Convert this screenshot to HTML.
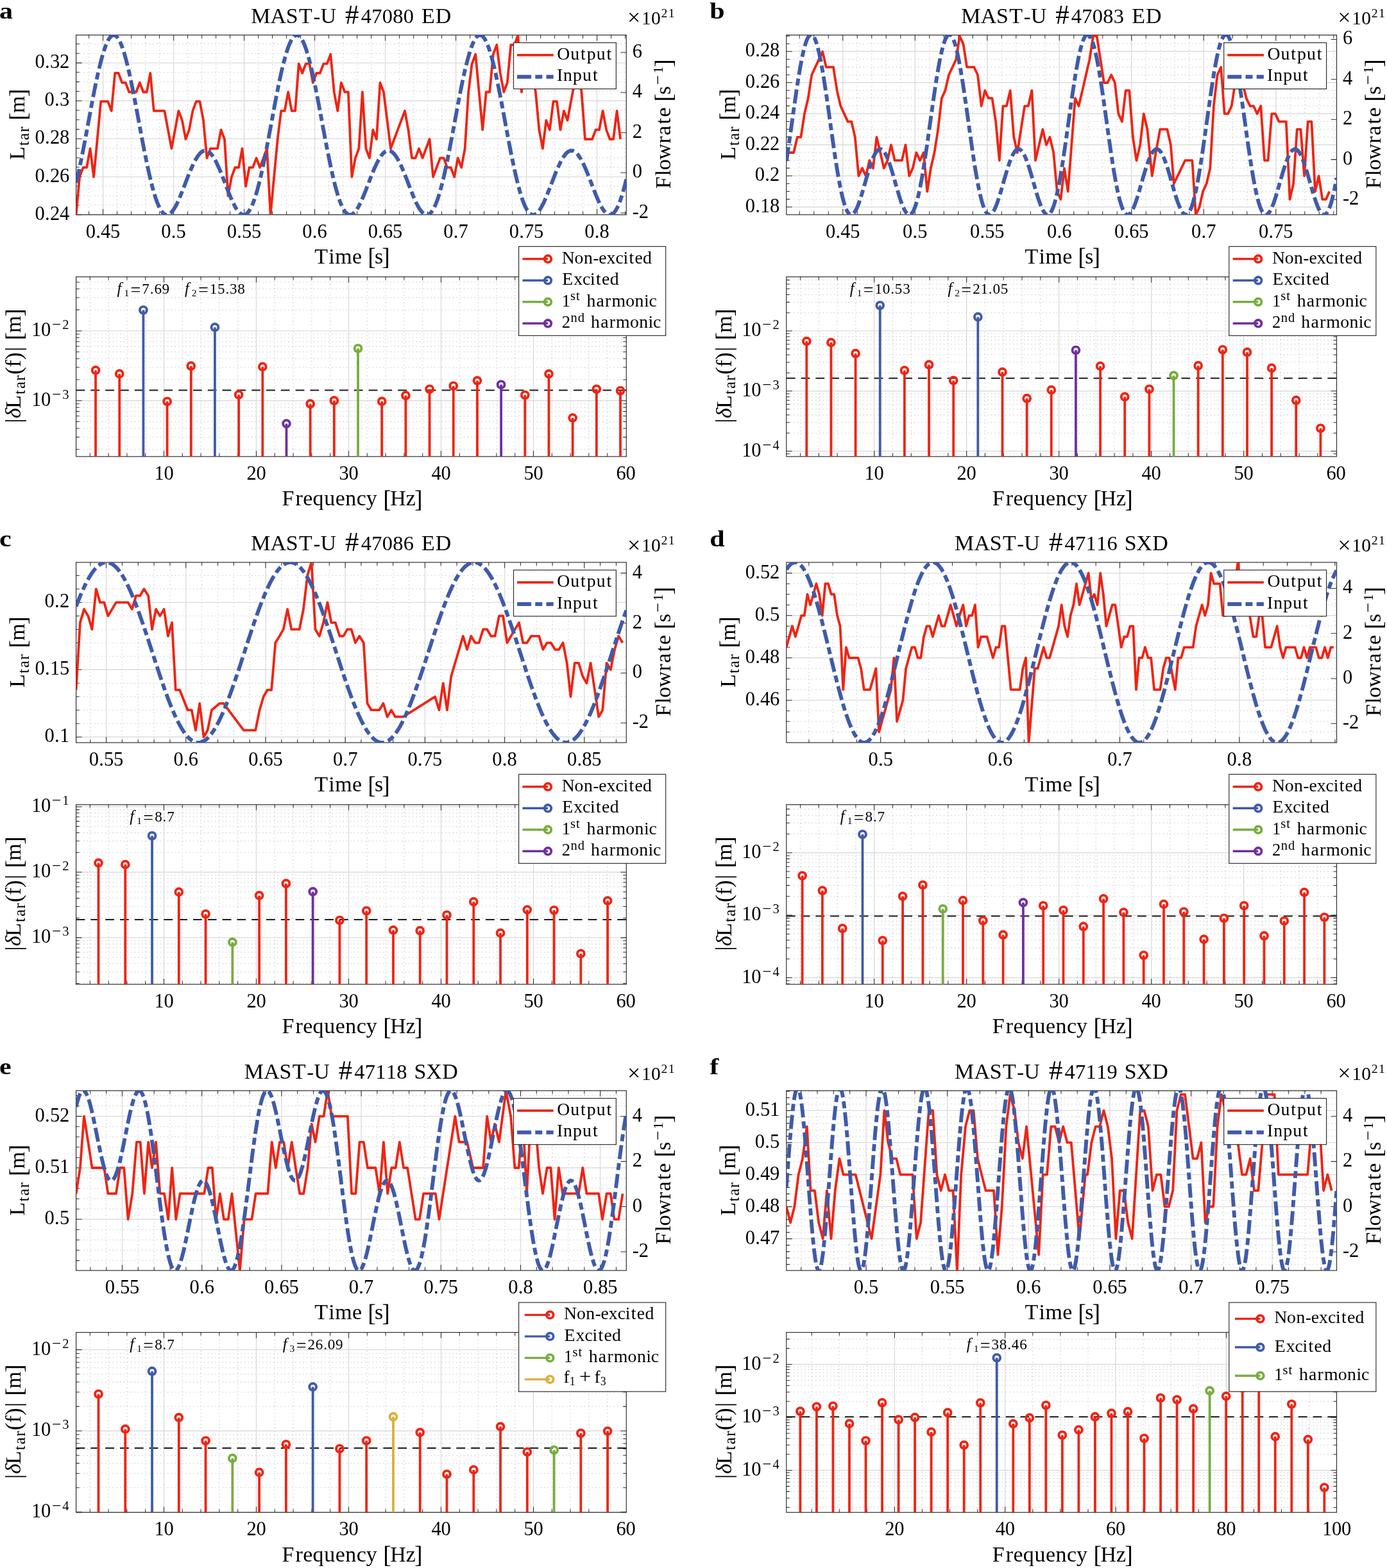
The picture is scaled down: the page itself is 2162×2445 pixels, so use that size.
<!DOCTYPE html>
<html lang="en"><head><meta charset="utf-8"><title>MAST-U frequency response figure</title>
<style>html,body{margin:0;padding:0;background:#fff}svg{display:block}text{white-space:pre}</style></head>
<body>
<svg width="2162" height="2445" viewBox="0 0 2162 2445" font-family='"Liberation Serif", "DejaVu Serif", serif'>
<rect width="2162" height="2445" fill="#fff"/>
<g id="top-a">
<path d="M138.6 54.6V334.8M182.6 54.6V334.8M204.6 54.6V334.8M226.6 54.6V334.8M248.6 54.6V334.8M292.6 54.6V334.8M314.6 54.6V334.8M336.6 54.6V334.8M358.6 54.6V334.8M402.6 54.6V334.8M424.6 54.6V334.8M446.6 54.6V334.8M468.6 54.6V334.8M512.6 54.6V334.8M534.6 54.6V334.8M556.6 54.6V334.8M578.6 54.6V334.8M622.6 54.6V334.8M644.6 54.6V334.8M666.6 54.6V334.8M688.6 54.6V334.8M732.6 54.6V334.8M754.6 54.6V334.8M776.6 54.6V334.8M798.6 54.6V334.8M842.6 54.6V334.8M864.6 54.6V334.8M886.6 54.6V334.8M908.6 54.6V334.8M952.6 54.6V334.8M974.6 54.6V334.8M118.6 68.5H976.3M118.6 83.3H976.3M118.6 112.8H976.3M118.6 127.6H976.3M118.6 142.4H976.3M118.6 172H976.3M118.6 186.8H976.3M118.6 201.6H976.3M118.6 231.2H976.3M118.6 246H976.3M118.6 260.8H976.3M118.6 290.3H976.3M118.6 305.1H976.3M118.6 319.9H976.3" fill="none" stroke="#cbcbcb" stroke-width="1.3" stroke-dasharray="1.3 4.4"/>
<path d="M160.6 54.6V334.8M270.6 54.6V334.8M380.6 54.6V334.8M490.6 54.6V334.8M600.6 54.6V334.8M710.6 54.6V334.8M820.6 54.6V334.8M930.6 54.6V334.8M118.6 334.7H976.3M118.6 275.6H976.3M118.6 216.4H976.3M118.6 157.2H976.3M118.6 98.1H976.3" fill="none" stroke="#dcdcdc" stroke-width="1.4"/>
<path d="M160.6 334.8V325.9M160.6 54.6V63.5M270.6 334.8V325.9M270.6 54.6V63.5M380.6 334.8V325.9M380.6 54.6V63.5M490.6 334.8V325.9M490.6 54.6V63.5M600.6 334.8V325.9M600.6 54.6V63.5M710.6 334.8V325.9M710.6 54.6V63.5M820.6 334.8V325.9M820.6 54.6V63.5M930.6 334.8V325.9M930.6 54.6V63.5M138.6 334.8V329.7M138.6 54.6V59.7M182.6 334.8V329.7M182.6 54.6V59.7M204.6 334.8V329.7M204.6 54.6V59.7M226.6 334.8V329.7M226.6 54.6V59.7M248.6 334.8V329.7M248.6 54.6V59.7M292.6 334.8V329.7M292.6 54.6V59.7M314.6 334.8V329.7M314.6 54.6V59.7M336.6 334.8V329.7M336.6 54.6V59.7M358.6 334.8V329.7M358.6 54.6V59.7M402.6 334.8V329.7M402.6 54.6V59.7M424.6 334.8V329.7M424.6 54.6V59.7M446.6 334.8V329.7M446.6 54.6V59.7M468.6 334.8V329.7M468.6 54.6V59.7M512.6 334.8V329.7M512.6 54.6V59.7M534.6 334.8V329.7M534.6 54.6V59.7M556.6 334.8V329.7M556.6 54.6V59.7M578.6 334.8V329.7M578.6 54.6V59.7M622.6 334.8V329.7M622.6 54.6V59.7M644.6 334.8V329.7M644.6 54.6V59.7M666.6 334.8V329.7M666.6 54.6V59.7M688.6 334.8V329.7M688.6 54.6V59.7M732.6 334.8V329.7M732.6 54.6V59.7M754.6 334.8V329.7M754.6 54.6V59.7M776.6 334.8V329.7M776.6 54.6V59.7M798.6 334.8V329.7M798.6 54.6V59.7M842.6 334.8V329.7M842.6 54.6V59.7M864.6 334.8V329.7M864.6 54.6V59.7M886.6 334.8V329.7M886.6 54.6V59.7M908.6 334.8V329.7M908.6 54.6V59.7M952.6 334.8V329.7M952.6 54.6V59.7M974.6 334.8V329.7M974.6 54.6V59.7M118.6 334.7H127.5M118.6 275.6H127.5M118.6 216.4H127.5M118.6 157.2H127.5M118.6 98.1H127.5M118.6 68.5H123.7M118.6 83.3H123.7M118.6 112.8H123.7M118.6 127.6H123.7M118.6 142.4H123.7M118.6 172H123.7M118.6 186.8H123.7M118.6 201.6H123.7M118.6 231.2H123.7M118.6 246H123.7M118.6 260.8H123.7M118.6 290.3H123.7M118.6 305.1H123.7M118.6 319.9H123.7M976.3 331.9H967.4M976.3 269.3H967.4M976.3 206.8H967.4M976.3 144.2H967.4M976.3 81.7H967.4" fill="none" stroke="#303030" stroke-width="1.05"/>
<rect x="118.60" y="54.60" width="857.70" height="280.20" fill="none" stroke="#303030" stroke-width="1.2"/>
<text transform="translate(160.60,370.70)" fill="#000"><tspan x="-26.8 -11.3 -3.5 11.5" y="0" font-size="30.58">0.45</tspan></text>
<text transform="translate(270.60,370.70)" fill="#000"><tspan x="-19.3 -3.8 4" y="0" font-size="30.58">0.5</tspan></text>
<text transform="translate(380.60,370.70)" fill="#000"><tspan x="-26.8 -11.3 -3.5 11.5" y="0" font-size="30.58">0.55</tspan></text>
<text transform="translate(490.60,370.70)" fill="#000"><tspan x="-19.3 -3.8 4" y="0" font-size="30.58">0.6</tspan></text>
<text transform="translate(600.60,370.70)" fill="#000"><tspan x="-26.8 -11.3 -3.5 11.5" y="0" font-size="30.58">0.65</tspan></text>
<text transform="translate(710.60,370.70)" fill="#000"><tspan x="-19.3 -3.8 4" y="0" font-size="30.58">0.7</tspan></text>
<text transform="translate(820.60,370.70)" fill="#000"><tspan x="-26.8 -11.3 -3.5 11.5" y="0" font-size="30.58">0.75</tspan></text>
<text transform="translate(930.60,370.70)" fill="#000"><tspan x="-19.3 -3.8 4" y="0" font-size="30.58">0.8</tspan></text>
<text transform="translate(108.00,342.70)" fill="#000"><tspan x="-53.5 -38 -30.1 -15.1" y="0" font-size="30.58">0.24</tspan></text>
<text transform="translate(108.00,283.55)" fill="#000"><tspan x="-53.5 -38 -30.1 -15.1" y="0" font-size="30.58">0.26</tspan></text>
<text transform="translate(108.00,224.40)" fill="#000"><tspan x="-53.5 -38 -30.1 -15.1" y="0" font-size="30.58">0.28</tspan></text>
<text transform="translate(108.00,165.25)" fill="#000"><tspan x="-38.5 -23 -15.1" y="0" font-size="30.58">0.3</tspan></text>
<text transform="translate(108.00,106.10)" fill="#000"><tspan x="-53.5 -38 -30.1 -15.1" y="0" font-size="30.58">0.32</tspan></text>
<text transform="translate(985.90,339.90)" fill="#000"><tspan x="-0.1 9.8" y="0" font-size="30.58">-2</tspan></text>
<text transform="translate(985.90,277.35)" fill="#000"><tspan x="-0.1" y="0" font-size="30.58">0</tspan></text>
<text transform="translate(985.90,214.80)" fill="#000"><tspan x="-0.1" y="0" font-size="30.58">2</tspan></text>
<text transform="translate(985.90,152.25)" fill="#000"><tspan x="-0.1" y="0" font-size="30.58">4</tspan></text>
<text transform="translate(985.90,89.70)" fill="#000"><tspan x="-0.1" y="0" font-size="30.58">6</tspan></text>
<text transform="translate(547.45,35.70)" fill="#000"><tspan x="-156.3 -125.9 -101.6 -81.4" y="0" font-size="33.99">MAST</tspan><tspan x="-59" y="0" font-size="32.51">-</tspan><tspan x="-48 -23.4" y="0" font-size="33.99">U </tspan><tspan x="-9.4" y="1" font-size="42.9">#</tspan><tspan x="15.2 31.7 48.2 64.7 81.2 97.6" y="0" font-size="32.51">47080 </tspan><tspan x="109.5 131.4" y="0" font-size="33.99">ED</tspan></text>
<text transform="translate(547.45,411.10)" fill="#000"><tspan x="-57.2 -35.1 -25.2 1.5 16.4" y="0" font-size="33.99">Time </tspan><tspan x="25.7" y="2.3" font-size="37.95">[</tspan><tspan x="36.5" y="0" font-size="33.99">s</tspan><tspan x="47.8" y="2.3" font-size="37.95">]</tspan></text>
<text transform="translate(976.60,37.70)" fill="#000"><tspan x="1.5" y="1.5" font-size="36">×</tspan><tspan x="23.5 38.5" y="0" font-size="29.55">10</tspan><tspan x="54 65.2" y="-10.8" font-size="19.86">21</tspan></text>
<text transform="translate(38.30,194.70) rotate(-90)" fill="#000"><tspan x="-54.6" y="0" font-size="33.99">L</tspan><tspan x="-32.6 -23.7 -11.3 -2.3" y="6.6" font-size="25.13">tar </tspan><tspan x="7" y="2.3" font-size="37.95">[</tspan><tspan x="18.4" y="0" font-size="33.99">m</tspan><tspan x="43.7" y="2.3" font-size="37.95">]</tspan></text>
<text transform="translate(1044.80,194.70) rotate(-90)" fill="#000"><tspan x="-99.6 -79.5 -70.5 -54.1 -29.1 -16.3 1.2 12.2 27" y="0" font-size="33.99">Flowrate </tspan><tspan x="36.3" y="2.3" font-size="37.95">[</tspan><tspan x="47.1" y="0" font-size="33.99">s</tspan><tspan x="62.3" y="-10.7" font-size="26.61">−</tspan><tspan x="80.1" y="-11.9" font-size="21.84">1</tspan><tspan x="90" y="2.3" font-size="37.95">]</tspan></text>
<clipPath id="c1"><rect x="118.60" y="54.60" width="857.70" height="280.20"/></clipPath>
<g clip-path="url(#c1)" fill="none">
<polyline points="118.6,334.7 124.1,275.9 129.6,261.1 135.1,261.1 140.6,231.7 146.1,275.9 151.7,217.0 157.2,158.2 162.7,158.2 168.2,158.2 173.7,172.9 179.2,114.0 184.7,114.0 190.2,128.8 195.7,128.8 201.2,143.5 206.8,143.5 212.3,143.5 217.8,128.8 223.3,143.5 228.8,143.5 234.3,114.0 239.8,172.9 245.3,172.9 250.8,172.9 256.4,172.9 261.9,202.3 267.4,231.7 272.9,202.3 278.4,172.9 283.9,187.6 289.4,217.0 294.9,202.3 300.4,172.9 305.9,158.2 311.4,158.2 317.0,187.6 322.5,246.4 328.0,231.7 333.5,231.7 339.0,231.7 344.5,202.3 350.0,217.0 355.5,305.3 361.0,275.9 366.5,261.1 372.1,261.1 377.6,231.7 383.1,290.6 388.6,261.1 394.1,261.1 399.6,246.4 405.1,261.1 410.6,246.4 416.1,231.7 421.6,334.7 427.2,275.9 432.7,217.0 438.2,172.9 443.7,172.9 449.2,143.5 454.7,172.9 460.2,172.9 465.7,99.3 471.2,114.0 476.8,99.3 482.3,99.3 487.8,128.8 493.3,114.0 498.8,114.0 504.3,99.3 509.8,99.3 515.3,84.6 520.8,143.5 526.3,172.9 531.9,128.8 537.4,143.5 542.9,143.5 548.4,275.9 553.9,246.4 559.4,231.7 564.9,143.5 570.4,231.7 575.9,246.4 581.4,202.3 586.9,217.0 592.5,128.8 598.0,143.5 603.5,187.6 609.0,231.7 614.5,217.0 620.0,202.3 625.5,187.6 631.0,172.9 636.5,202.3 642.0,246.4 647.6,246.4 653.1,231.7 658.6,246.4 664.1,231.7 669.6,217.0 675.1,275.9 680.6,261.1 686.1,246.4 691.6,246.4 697.1,261.1 702.7,261.1 708.2,275.9 713.7,246.4 719.2,261.1 724.7,231.7 730.2,143.5 735.7,99.3 741.2,84.6 746.7,143.5 752.2,202.3 757.8,143.5 763.3,143.5 768.8,84.6 774.3,69.9 779.8,114.0 785.3,143.5 790.8,128.8 796.3,69.9 801.8,69.9 807.4,55.2 812.9,143.5 818.4,99.3 823.9,84.6 829.4,114.0 834.9,143.5 840.4,202.3 845.9,231.7 851.4,187.6 856.9,202.3 862.5,158.2 868.0,158.2 873.5,202.3 879.0,172.9 884.5,187.6 890.0,158.2 895.5,128.8 901.0,114.0 906.5,143.5 912.0,217.0 917.5,217.0 923.1,217.0 928.6,202.3 934.1,202.3 939.6,172.9 945.1,202.3 950.6,217.0 956.1,217.0 961.6,172.9 967.1,217.0" stroke="#ef2413" stroke-width="3.8" stroke-linejoin="round"/>
<polyline points="118.6,285.0 120.1,278.8 121.6,272.4 123.1,265.7 124.6,258.7 126.1,251.5 127.6,244.1 129.1,236.6 130.6,228.8 132.1,221.0 133.6,213.0 135.1,205.0 136.6,196.9 138.1,188.8 139.6,180.7 141.1,172.6 142.6,164.6 144.1,156.7 145.6,148.9 147.1,141.3 148.6,133.8 150.1,126.6 151.6,119.5 153.1,112.7 154.7,106.2 156.2,100.0 157.7,94.1 159.2,88.5 160.7,83.4 162.2,78.6 163.7,74.2 165.2,70.2 166.7,66.6 168.2,63.5 169.7,60.9 171.2,58.7 172.7,57.0 174.2,55.8 175.7,55.0 177.2,54.8 178.7,55.0 180.2,55.7 181.7,56.9 183.2,58.6 184.7,60.8 186.2,63.4 187.7,66.5 189.2,70.1 190.7,74.1 192.2,78.4 193.7,83.2 195.2,88.4 196.7,94.0 198.2,99.8 199.7,106.0 201.2,112.6 202.7,119.3 204.2,126.4 205.7,133.7 207.2,141.1 208.7,148.8 210.2,156.5 211.7,164.5 213.2,172.5 214.7,180.5 216.2,188.6 217.7,196.7 219.2,204.8 220.7,212.8 222.2,220.8 223.7,228.6 225.2,236.4 226.8,243.9 228.3,251.3 229.8,258.5 231.3,265.5 232.8,272.2 234.3,278.7 235.8,284.8 237.3,290.7 238.8,296.2 240.3,301.5 241.8,306.3 243.3,310.8 244.8,315.0 246.3,318.7 247.8,322.1 249.3,325.1 250.8,327.7 252.3,329.9 253.8,331.7 255.3,333.1 256.8,334.1 258.3,334.8 259.8,335.0 261.3,334.9 262.8,334.5 264.3,333.6 265.8,332.5 267.3,331.0 268.8,329.3 270.3,327.2 271.8,324.9 273.3,322.3 274.8,319.5 276.3,316.5 277.8,313.3 279.3,309.9 280.8,306.4 282.3,302.7 283.8,299.0 285.3,295.2 286.8,291.3 288.3,287.4 289.8,283.5 291.3,279.6 292.8,275.7 294.3,271.9 295.8,268.2 297.4,264.6 298.9,261.2 300.4,257.8 301.9,254.7 303.4,251.7 304.9,248.9 306.4,246.4 307.9,244.0 309.4,242.0 310.9,240.1 312.4,238.5 313.9,237.2 315.4,236.2 316.9,235.5 318.4,235.0 319.9,234.9 321.4,235.0 322.9,235.5 324.4,236.2 325.9,237.2 327.4,238.5 328.9,240.0 330.4,241.8 331.9,243.9 333.4,246.2 334.9,248.8 336.4,251.5 337.9,254.5 339.4,257.7 340.9,261.0 342.4,264.4 343.9,268.0 345.4,271.7 346.9,275.5 348.4,279.4 349.9,283.2 351.4,287.2 352.9,291.1 354.4,294.9 355.9,298.8 357.4,302.5 358.9,306.2 360.4,309.7 361.9,313.1 363.4,316.3 364.9,319.3 366.4,322.2 367.9,324.8 369.5,327.1 371.0,329.2 372.5,330.9 374.0,332.4 375.5,333.6 377.0,334.4 378.5,334.9 380.0,335.0 381.5,334.8 383.0,334.2 384.5,333.2 386.0,331.8 387.5,330.0 389.0,327.8 390.5,325.2 392.0,322.3 393.5,318.9 395.0,315.2 396.5,311.1 398.0,306.6 399.5,301.7 401.0,296.6 402.5,291.0 404.0,285.2 405.5,279.0 407.0,272.6 408.5,265.9 410.0,258.9 411.5,251.8 413.0,244.4 414.5,236.8 416.0,229.1 417.5,221.2 419.0,213.3 420.5,205.3 422.0,197.2 423.5,189.1 425.0,181.0 426.5,172.9 428.0,164.9 429.5,157.0 431.0,149.2 432.5,141.6 434.0,134.1 435.5,126.8 437.0,119.7 438.5,112.9 440.0,106.4 441.6,100.2 443.1,94.3 444.6,88.7 446.1,83.5 447.6,78.7 449.1,74.3 450.6,70.3 452.1,66.7 453.6,63.6 455.1,61.0 456.6,58.8 458.1,57.0 459.6,55.8 461.1,55.0 462.6,54.8 464.1,55.0 465.6,55.7 467.1,56.9 468.6,58.6 470.1,60.7 471.6,63.4 473.1,66.4 474.6,70.0 476.1,73.9 477.6,78.3 479.1,83.1 480.6,88.2 482.1,93.8 483.6,99.6 485.1,105.8 486.6,112.3 488.1,119.1 489.6,126.1 491.1,133.4 492.6,140.9 494.1,148.5 495.6,156.3 497.1,164.2 498.6,172.2 500.1,180.2 501.6,188.3 503.1,196.4 504.6,204.5 506.1,212.6 507.6,220.5 509.1,228.4 510.6,236.1 512.2,243.7 513.7,251.1 515.2,258.3 516.7,265.3 518.2,272.0 519.7,278.4 521.2,284.6 522.7,290.5 524.2,296.1 525.7,301.3 527.2,306.2 528.7,310.7 530.2,314.8 531.7,318.6 533.2,322.0 534.7,325.0 536.2,327.6 537.7,329.8 539.2,331.6 540.7,333.0 542.2,334.1 543.7,334.7 545.2,335.0 546.7,334.9 548.2,334.5 549.7,333.7 551.2,332.5 552.7,331.1 554.2,329.3 555.7,327.3 557.2,325.0 558.7,322.4 560.2,319.6 561.7,316.6 563.2,313.4 564.7,310.0 566.2,306.5 567.7,302.9 569.2,299.1 570.7,295.3 572.2,291.4 573.7,287.5 575.2,283.6 576.7,279.7 578.2,275.9 579.7,272.1 581.2,268.4 582.7,264.8 584.3,261.3 585.8,258.0 587.3,254.8 588.8,251.8 590.3,249.0 591.8,246.5 593.3,244.1 594.8,242.0 596.3,240.2 597.8,238.6 599.3,237.3 600.8,236.3 602.3,235.5 603.8,235.0 605.3,234.9 606.8,235.0 608.3,235.4 609.8,236.1 611.3,237.1 612.8,238.4 614.3,240.0 615.8,241.8 617.3,243.8 618.8,246.1 620.3,248.7 621.8,251.4 623.3,254.4 624.8,257.5 626.3,260.9 627.8,264.3 629.3,267.9 630.8,271.6 632.3,275.4 633.8,279.2 635.3,283.1 636.8,287.0 638.3,290.9 639.8,294.8 641.3,298.6 642.8,302.4 644.3,306.0 645.8,309.6 647.3,313.0 648.8,316.2 650.3,319.2 651.8,322.1 653.3,324.7 654.9,327.0 656.4,329.1 657.9,330.9 659.4,332.4 660.9,333.6 662.4,334.4 663.9,334.9 665.4,335.0 666.9,334.8 668.4,334.2 669.9,333.2 671.4,331.8 672.9,330.0 674.4,327.9 675.9,325.3 677.4,322.4 678.9,319.0 680.4,315.3 681.9,311.2 683.4,306.7 684.9,301.9 686.4,296.7 687.9,291.2 689.4,285.4 690.9,279.2 692.4,272.8 693.9,266.1 695.4,259.2 696.9,252.0 698.4,244.6 699.9,237.1 701.4,229.4 702.9,221.5 704.4,213.6 705.9,205.5 707.4,197.5 708.9,189.4 710.4,181.3 711.9,173.2 713.4,165.2 714.9,157.3 716.4,149.5 717.9,141.8 719.4,134.3 720.9,127.0 722.4,120.0 723.9,113.2 725.4,106.6 727.0,100.4 728.5,94.5 730.0,88.9 731.5,83.7 733.0,78.9 734.5,74.4 736.0,70.4 737.5,66.8 739.0,63.7 740.5,61.0 742.0,58.8 743.5,57.1 745.0,55.8 746.5,55.1 748.0,54.8 749.5,55.0 751.0,55.7 752.5,56.9 754.0,58.5 755.5,60.7 757.0,63.3 758.5,66.3 760.0,69.8 761.5,73.8 763.0,78.1 764.5,82.9 766.0,88.0 767.5,93.6 769.0,99.4 770.5,105.6 772.0,112.1 773.5,118.9 775.0,125.9 776.5,133.2 778.0,140.6 779.5,148.2 781.0,156.0 782.5,163.9 784.0,171.9 785.5,180.0 787.0,188.1 788.5,196.2 790.0,204.3 791.5,212.3 793.0,220.3 794.5,228.1 796.0,235.9 797.5,243.4 799.1,250.8 800.6,258.0 802.1,265.0 803.6,271.8 805.1,278.2 806.6,284.4 808.1,290.3 809.6,295.9 811.1,301.1 812.6,306.0 814.1,310.5 815.6,314.7 817.1,318.5 818.6,321.9 820.1,324.9 821.6,327.5 823.1,329.7 824.6,331.6 826.1,333.0 827.6,334.1 829.1,334.7 830.6,335.0 832.1,334.9 833.6,334.5 835.1,333.7 836.6,332.6 838.1,331.2 839.6,329.4 841.1,327.4 842.6,325.1 844.1,322.5 845.6,319.7 847.1,316.7 848.6,313.5 850.1,310.1 851.6,306.6 853.1,303.0 854.6,299.2 856.1,295.4 857.6,291.5 859.1,287.6 860.6,283.7 862.1,279.8 863.6,276.0 865.1,272.2 866.6,268.5 868.1,264.9 869.7,261.4 871.2,258.1 872.7,254.9 874.2,251.9 875.7,249.1 877.2,246.5 878.7,244.2 880.2,242.1 881.7,240.2 883.2,238.6 884.7,237.3 886.2,236.3 887.7,235.5 889.2,235.1 890.7,234.9 892.2,235.0 893.7,235.4 895.2,236.1 896.7,237.1 898.2,238.4 899.7,239.9 901.2,241.7 902.7,243.8 904.2,246.1 905.7,248.6 907.2,251.4 908.7,254.3 910.2,257.4 911.7,260.7 913.2,264.2 914.7,267.8 916.2,271.5 917.7,275.2 919.2,279.1 920.7,283.0 922.2,286.9 923.7,290.8 925.2,294.7 926.7,298.5 928.2,302.3 929.7,305.9 931.2,309.5 932.7,312.9 934.2,316.1 935.7,319.1 937.2,322.0 938.7,324.6 940.2,326.9 941.8,329.0 943.3,330.8 944.8,332.3 946.3,333.5 947.8,334.4 949.3,334.9 950.8,335.0 952.3,334.8 953.8,334.2 955.3,333.2 956.8,331.9 958.3,330.1 959.8,328.0 961.3,325.4 962.8,322.5 964.3,319.2 965.8,315.4 967.3,311.4 968.8,306.9 970.3,302.1 971.8,296.9 973.3,291.4 974.8,285.6 976.3,279.5" stroke="#3f5ba9" stroke-width="5.9" stroke-dasharray="22 6.2 11 6.2" stroke-linejoin="round"/>
</g>
<rect x="800.50" y="66.60" width="159.90" height="72.00" fill="#fff" stroke="#303030" stroke-width="1.2"/>
<line x1="806.10" y1="85.80" x2="862.70" y2="85.80" stroke="#ef2413" stroke-width="3.8"/>
<line x1="806.10" y1="119.70" x2="862.70" y2="119.70" stroke="#3f5ba9" stroke-width="5.9" stroke-dasharray="22 6.2 11 6.2"/>
<text transform="translate(867.70,92.80)" fill="#000"><tspan x="0.5 21.6 37.4 47.1 62.1 77.9" y="0" font-size="27.81">Output</tspan></text>
<text transform="translate(867.70,126.30)" fill="#000"><tspan x="0.2 10.3 25.3 40.3 56.2" y="0" font-size="27.81">Input</tspan></text>
</g>
<g id="top-b">
<path d="M1246.3 54.6V334.8M1268.8 54.6V334.8M1291.3 54.6V334.8M1336.3 54.6V334.8M1358.8 54.6V334.8M1381.3 54.6V334.8M1403.8 54.6V334.8M1448.8 54.6V334.8M1471.3 54.6V334.8M1493.8 54.6V334.8M1516.3 54.6V334.8M1561.3 54.6V334.8M1583.8 54.6V334.8M1606.3 54.6V334.8M1628.8 54.6V334.8M1673.8 54.6V334.8M1696.3 54.6V334.8M1718.8 54.6V334.8M1741.3 54.6V334.8M1786.3 54.6V334.8M1808.8 54.6V334.8M1831.3 54.6V334.8M1853.8 54.6V334.8M1898.8 54.6V334.8M1921.3 54.6V334.8M1943.8 54.6V334.8M1966.3 54.6V334.8M2011.3 54.6V334.8M2033.8 54.6V334.8M2056.3 54.6V334.8M2078.8 54.6V334.8M1225.8 56.1H2083.5M1225.8 68.2H2083.5M1225.8 92.4H2083.5M1225.8 104.5H2083.5M1225.8 116.7H2083.5M1225.8 140.9H2083.5M1225.8 153H2083.5M1225.8 165.1H2083.5M1225.8 189.4H2083.5M1225.8 201.5H2083.5M1225.8 213.6H2083.5M1225.8 237.9H2083.5M1225.8 250H2083.5M1225.8 262.1H2083.5M1225.8 286.3H2083.5M1225.8 298.5H2083.5M1225.8 310.6H2083.5" fill="none" stroke="#cbcbcb" stroke-width="1.3" stroke-dasharray="1.3 4.4"/>
<path d="M1313.8 54.6V334.8M1426.3 54.6V334.8M1538.8 54.6V334.8M1651.3 54.6V334.8M1763.8 54.6V334.8M1876.3 54.6V334.8M1988.8 54.6V334.8M1225.8 322.7H2083.5M1225.8 274.2H2083.5M1225.8 225.7H2083.5M1225.8 177.3H2083.5M1225.8 128.8H2083.5M1225.8 80.3H2083.5" fill="none" stroke="#dcdcdc" stroke-width="1.4"/>
<path d="M1313.8 334.8V325.9M1313.8 54.6V63.5M1426.3 334.8V325.9M1426.3 54.6V63.5M1538.8 334.8V325.9M1538.8 54.6V63.5M1651.3 334.8V325.9M1651.3 54.6V63.5M1763.8 334.8V325.9M1763.8 54.6V63.5M1876.3 334.8V325.9M1876.3 54.6V63.5M1988.8 334.8V325.9M1988.8 54.6V63.5M1246.3 334.8V329.7M1246.3 54.6V59.7M1268.8 334.8V329.7M1268.8 54.6V59.7M1291.3 334.8V329.7M1291.3 54.6V59.7M1336.3 334.8V329.7M1336.3 54.6V59.7M1358.8 334.8V329.7M1358.8 54.6V59.7M1381.3 334.8V329.7M1381.3 54.6V59.7M1403.8 334.8V329.7M1403.8 54.6V59.7M1448.8 334.8V329.7M1448.8 54.6V59.7M1471.3 334.8V329.7M1471.3 54.6V59.7M1493.8 334.8V329.7M1493.8 54.6V59.7M1516.3 334.8V329.7M1516.3 54.6V59.7M1561.3 334.8V329.7M1561.3 54.6V59.7M1583.8 334.8V329.7M1583.8 54.6V59.7M1606.3 334.8V329.7M1606.3 54.6V59.7M1628.8 334.8V329.7M1628.8 54.6V59.7M1673.8 334.8V329.7M1673.8 54.6V59.7M1696.3 334.8V329.7M1696.3 54.6V59.7M1718.8 334.8V329.7M1718.8 54.6V59.7M1741.3 334.8V329.7M1741.3 54.6V59.7M1786.3 334.8V329.7M1786.3 54.6V59.7M1808.8 334.8V329.7M1808.8 54.6V59.7M1831.3 334.8V329.7M1831.3 54.6V59.7M1853.8 334.8V329.7M1853.8 54.6V59.7M1898.8 334.8V329.7M1898.8 54.6V59.7M1921.3 334.8V329.7M1921.3 54.6V59.7M1943.8 334.8V329.7M1943.8 54.6V59.7M1966.3 334.8V329.7M1966.3 54.6V59.7M2011.3 334.8V329.7M2011.3 54.6V59.7M2033.8 334.8V329.7M2033.8 54.6V59.7M2056.3 334.8V329.7M2056.3 54.6V59.7M2078.8 334.8V329.7M2078.8 54.6V59.7M1225.8 322.7H1234.7M1225.8 274.2H1234.7M1225.8 225.7H1234.7M1225.8 177.3H1234.7M1225.8 128.8H1234.7M1225.8 80.3H1234.7M1225.8 56.1H1230.9M1225.8 68.2H1230.9M1225.8 92.4H1230.9M1225.8 104.5H1230.9M1225.8 116.7H1230.9M1225.8 140.9H1230.9M1225.8 153H1230.9M1225.8 165.1H1230.9M1225.8 189.4H1230.9M1225.8 201.5H1230.9M1225.8 213.6H1230.9M1225.8 237.9H1230.9M1225.8 250H1230.9M1225.8 262.1H1230.9M1225.8 286.3H1230.9M1225.8 298.5H1230.9M1225.8 310.6H1230.9M2083.5 311H2074.6M2083.5 248.6H2074.6M2083.5 186.2H2074.6M2083.5 123.8H2074.6M2083.5 61.4H2074.6" fill="none" stroke="#303030" stroke-width="1.05"/>
<rect x="1225.80" y="54.60" width="857.70" height="280.20" fill="none" stroke="#303030" stroke-width="1.2"/>
<text transform="translate(1313.80,370.70)" fill="#000"><tspan x="-26.8 -11.3 -3.5 11.5" y="0" font-size="30.58">0.45</tspan></text>
<text transform="translate(1426.30,370.70)" fill="#000"><tspan x="-19.3 -3.8 4" y="0" font-size="30.58">0.5</tspan></text>
<text transform="translate(1538.80,370.70)" fill="#000"><tspan x="-26.8 -11.3 -3.5 11.5" y="0" font-size="30.58">0.55</tspan></text>
<text transform="translate(1651.30,370.70)" fill="#000"><tspan x="-19.3 -3.8 4" y="0" font-size="30.58">0.6</tspan></text>
<text transform="translate(1763.80,370.70)" fill="#000"><tspan x="-26.8 -11.3 -3.5 11.5" y="0" font-size="30.58">0.65</tspan></text>
<text transform="translate(1876.30,370.70)" fill="#000"><tspan x="-19.3 -3.8 4" y="0" font-size="30.58">0.7</tspan></text>
<text transform="translate(1988.80,370.70)" fill="#000"><tspan x="-26.8 -11.3 -3.5 11.5" y="0" font-size="30.58">0.75</tspan></text>
<text transform="translate(1215.20,330.70)" fill="#000"><tspan x="-53.5 -38 -30.1 -15.1" y="0" font-size="30.58">0.18</tspan></text>
<text transform="translate(1215.20,282.22)" fill="#000"><tspan x="-38.5 -23 -15.1" y="0" font-size="30.58">0.2</tspan></text>
<text transform="translate(1215.20,233.74)" fill="#000"><tspan x="-53.5 -38 -30.1 -15.1" y="0" font-size="30.58">0.22</tspan></text>
<text transform="translate(1215.20,185.26)" fill="#000"><tspan x="-53.5 -38 -30.1 -15.1" y="0" font-size="30.58">0.24</tspan></text>
<text transform="translate(1215.20,136.78)" fill="#000"><tspan x="-53.5 -38 -30.1 -15.1" y="0" font-size="30.58">0.26</tspan></text>
<text transform="translate(1215.20,88.30)" fill="#000"><tspan x="-53.5 -38 -30.1 -15.1" y="0" font-size="30.58">0.28</tspan></text>
<text transform="translate(2093.10,319.00)" fill="#000"><tspan x="-0.1 9.8" y="0" font-size="30.58">-2</tspan></text>
<text transform="translate(2093.10,256.60)" fill="#000"><tspan x="-0.1" y="0" font-size="30.58">0</tspan></text>
<text transform="translate(2093.10,194.20)" fill="#000"><tspan x="-0.1" y="0" font-size="30.58">2</tspan></text>
<text transform="translate(2093.10,131.80)" fill="#000"><tspan x="-0.1" y="0" font-size="30.58">4</tspan></text>
<text transform="translate(2093.10,69.40)" fill="#000"><tspan x="-0.1" y="0" font-size="30.58">6</tspan></text>
<text transform="translate(1654.65,35.70)" fill="#000"><tspan x="-156.3 -125.9 -101.6 -81.4" y="0" font-size="33.99">MAST</tspan><tspan x="-59" y="0" font-size="32.51">-</tspan><tspan x="-48 -23.4" y="0" font-size="33.99">U </tspan><tspan x="-9.4" y="1" font-size="42.9">#</tspan><tspan x="15.2 31.7 48.2 64.7 81.2 97.6" y="0" font-size="32.51">47083 </tspan><tspan x="109.5 131.4" y="0" font-size="33.99">ED</tspan></text>
<text transform="translate(1654.65,411.10)" fill="#000"><tspan x="-57.2 -35.1 -25.2 1.5 16.4" y="0" font-size="33.99">Time </tspan><tspan x="25.7" y="2.3" font-size="37.95">[</tspan><tspan x="36.5" y="0" font-size="33.99">s</tspan><tspan x="47.8" y="2.3" font-size="37.95">]</tspan></text>
<text transform="translate(2083.80,37.70)" fill="#000"><tspan x="1.5" y="1.5" font-size="36">×</tspan><tspan x="23.5 38.5" y="0" font-size="29.55">10</tspan><tspan x="54 65.2" y="-10.8" font-size="19.86">21</tspan></text>
<text transform="translate(1145.50,194.70) rotate(-90)" fill="#000"><tspan x="-54.6" y="0" font-size="33.99">L</tspan><tspan x="-32.6 -23.7 -11.3 -2.3" y="6.6" font-size="25.13">tar </tspan><tspan x="7" y="2.3" font-size="37.95">[</tspan><tspan x="18.4" y="0" font-size="33.99">m</tspan><tspan x="43.7" y="2.3" font-size="37.95">]</tspan></text>
<text transform="translate(2152.00,194.70) rotate(-90)" fill="#000"><tspan x="-99.6 -79.5 -70.5 -54.1 -29.1 -16.3 1.2 12.2 27" y="0" font-size="33.99">Flowrate </tspan><tspan x="36.3" y="2.3" font-size="37.95">[</tspan><tspan x="47.1" y="0" font-size="33.99">s</tspan><tspan x="62.3" y="-10.7" font-size="26.61">−</tspan><tspan x="80.1" y="-11.9" font-size="21.84">1</tspan><tspan x="90" y="2.3" font-size="37.95">]</tspan></text>
<clipPath id="c2"><rect x="1225.80" y="54.60" width="857.70" height="280.20"/></clipPath>
<g clip-path="url(#c2)" fill="none">
<polyline points="1225.9,238.0 1231.5,238.0 1237.2,238.0 1242.8,213.8 1248.4,213.8 1254.0,177.4 1259.7,153.2 1265.3,116.8 1270.9,104.7 1276.5,92.6 1282.2,80.5 1287.8,104.7 1293.4,104.7 1299.0,104.7 1304.7,141.1 1310.3,165.3 1315.9,177.4 1321.5,189.6 1327.2,189.6 1332.8,213.8 1338.4,274.4 1344.0,262.3 1349.7,274.4 1355.3,250.2 1360.9,262.3 1366.5,213.8 1372.2,238.0 1377.8,262.3 1383.4,250.2 1389.0,225.9 1394.7,250.2 1400.3,250.2 1405.9,250.2 1411.5,225.9 1417.2,274.4 1422.8,262.3 1428.4,238.0 1434.0,250.2 1439.7,238.0 1445.3,298.6 1450.9,262.3 1456.5,238.0 1462.2,201.7 1467.8,153.2 1473.4,141.1 1479.0,116.8 1484.7,104.7 1490.3,92.6 1495.9,56.2 1501.5,68.4 1507.2,104.7 1512.8,104.7 1518.4,104.7 1524.0,116.8 1529.7,165.3 1535.3,141.1 1540.9,153.2 1546.5,153.2 1552.2,189.6 1557.8,250.2 1563.4,165.3 1569.0,165.3 1574.7,141.1 1580.3,213.8 1585.9,238.0 1591.5,201.7 1597.2,165.3 1602.8,165.3 1608.4,141.1 1614.0,250.2 1619.7,225.9 1625.3,201.7 1630.9,225.9 1636.5,213.8 1642.2,238.0 1647.8,298.6 1653.4,310.8 1659.0,262.3 1664.7,298.6 1670.3,225.9 1675.9,153.2 1681.5,165.3 1687.2,141.1 1692.8,116.8 1698.4,92.6 1704.0,56.2 1709.7,56.2 1715.3,92.6 1720.9,129.0 1726.5,129.0 1732.2,116.8 1737.8,129.0 1743.4,177.4 1749.0,189.6 1754.7,141.1 1760.3,141.1 1765.9,213.8 1771.5,250.2 1777.2,225.9 1782.8,177.4 1788.4,201.7 1795.8,274.4 1801.6,238.0 1808.3,201.7 1814.1,201.7 1819.4,201.7 1824.9,225.9 1829.8,286.5 1847.3,250.2 1852.8,250.2 1858.4,250.2 1863.9,335.0 1869.7,322.9 1875.0,298.6 1880.7,286.5 1886.3,262.3 1891.9,165.3 1897.6,116.8 1903.2,104.7 1908.7,177.4 1914.2,177.4 1919.8,165.3 1925.3,129.0 1931.1,116.8 1936.9,129.0 1942.7,153.2 1948.6,165.3 1954.0,165.3 1959.7,177.4 1965.3,165.3 1971.0,250.2 1976.6,250.2 1982.3,177.4 1987.9,177.4 1993.6,189.6 1999.2,189.6 2004.8,189.6 2010.5,310.8 2016.1,286.5 2021.8,201.7 2027.4,201.7 2033.1,274.4 2038.7,189.6 2044.4,189.6 2050.0,298.6 2055.6,274.4 2061.3,310.8 2066.9,310.8 2072.3,298.6" stroke="#ef2413" stroke-width="3.8" stroke-linejoin="round"/>
<polyline points="1225.8,251.2 1227.3,241.3 1228.8,231.2 1230.3,220.7 1231.8,210.1 1233.3,199.4 1234.8,188.7 1236.3,177.9 1237.8,167.2 1239.3,156.7 1240.8,146.3 1242.3,136.2 1243.8,126.5 1245.3,117.2 1246.8,108.3 1248.3,99.9 1249.8,92.1 1251.3,84.9 1252.8,78.4 1254.3,72.6 1255.8,67.5 1257.3,63.2 1258.8,59.7 1260.3,57.0 1261.9,55.2 1263.4,54.2 1264.9,54.1 1266.4,54.8 1267.9,56.4 1269.4,58.9 1270.9,62.2 1272.4,66.3 1273.9,71.2 1275.4,76.8 1276.9,83.1 1278.4,90.2 1279.9,97.8 1281.4,106.0 1282.9,114.8 1284.4,124.0 1285.9,133.7 1287.4,143.6 1288.9,153.9 1290.4,164.4 1291.9,175.1 1293.4,185.8 1294.9,196.6 1296.4,207.4 1297.9,218.0 1299.4,228.5 1300.9,238.7 1302.4,248.6 1303.9,258.3 1305.4,267.5 1306.9,276.2 1308.4,284.5 1309.9,292.2 1311.4,299.4 1312.9,306.0 1314.4,311.9 1315.9,317.2 1317.4,321.8 1318.9,325.7 1320.4,328.9 1321.9,331.4 1323.4,333.2 1324.9,334.3 1326.4,334.8 1327.9,334.6 1329.4,333.8 1330.9,332.3 1332.4,330.3 1334.0,327.8 1335.5,324.8 1337.0,321.3 1338.5,317.4 1340.0,313.2 1341.5,308.6 1343.0,303.8 1344.5,298.8 1346.0,293.7 1347.5,288.4 1349.0,283.2 1350.5,277.9 1352.0,272.7 1353.5,267.7 1355.0,262.8 1356.5,258.2 1358.0,253.8 1359.5,249.7 1361.0,246.0 1362.5,242.7 1364.0,239.8 1365.5,237.4 1367.0,235.4 1368.5,233.9 1370.0,233.0 1371.5,232.5 1373.0,232.6 1374.5,233.2 1376.0,234.3 1377.5,235.9 1379.0,238.0 1380.5,240.6 1382.0,243.6 1383.5,247.0 1385.0,250.8 1386.5,254.9 1388.0,259.4 1389.5,264.1 1391.0,269.0 1392.5,274.1 1394.0,279.3 1395.5,284.6 1397.0,289.9 1398.5,295.1 1400.0,300.2 1401.5,305.2 1403.0,309.9 1404.6,314.4 1406.1,318.5 1407.6,322.3 1409.1,325.7 1410.6,328.6 1412.1,330.9 1413.6,332.8 1415.1,334.1 1416.6,334.7 1418.1,334.7 1419.6,334.1 1421.1,332.8 1422.6,330.8 1424.1,328.1 1425.6,324.7 1427.1,320.6 1428.6,315.8 1430.1,310.3 1431.6,304.2 1433.1,297.5 1434.6,290.2 1436.1,282.3 1437.6,273.9 1439.1,265.0 1440.6,255.7 1442.1,246.0 1443.6,235.9 1445.1,225.6 1446.6,215.1 1448.1,204.4 1449.6,193.7 1451.1,182.9 1452.6,172.2 1454.1,161.5 1455.6,151.1 1457.1,140.9 1458.6,131.0 1460.1,121.5 1461.6,112.4 1463.1,103.7 1464.6,95.7 1466.1,88.2 1467.6,81.3 1469.1,75.2 1470.6,69.8 1472.1,65.1 1473.6,61.2 1475.1,58.1 1476.7,55.9 1478.2,54.5 1479.7,54.0 1481.2,54.4 1482.7,55.6 1484.2,57.6 1485.7,60.5 1487.2,64.3 1488.7,68.8 1490.2,74.1 1491.7,80.1 1493.2,86.8 1494.7,94.2 1496.2,102.1 1497.7,110.7 1499.2,119.7 1500.7,129.1 1502.2,139.0 1503.7,149.1 1505.2,159.5 1506.7,170.1 1508.2,180.8 1509.7,191.6 1511.2,202.4 1512.7,213.1 1514.2,223.6 1515.7,234.0 1517.2,244.1 1518.7,253.8 1520.2,263.2 1521.7,272.2 1523.2,280.7 1524.7,288.7 1526.2,296.1 1527.7,303.0 1529.2,309.2 1530.7,314.8 1532.2,319.7 1533.7,323.9 1535.2,327.5 1536.7,330.3 1538.2,332.4 1539.7,333.9 1541.2,334.7 1542.7,334.8 1544.2,334.2 1545.7,333.1 1547.2,331.3 1548.8,329.1 1550.3,326.3 1551.8,323.0 1553.3,319.3 1554.8,315.2 1556.3,310.8 1557.8,306.1 1559.3,301.2 1560.8,296.1 1562.3,290.9 1563.8,285.6 1565.3,280.3 1566.8,275.1 1568.3,270.0 1569.8,265.0 1571.3,260.3 1572.8,255.8 1574.3,251.6 1575.8,247.7 1577.3,244.2 1578.8,241.1 1580.3,238.5 1581.8,236.3 1583.3,234.6 1584.8,233.4 1586.3,232.7 1587.8,232.5 1589.3,232.8 1590.8,233.7 1592.3,235.1 1593.8,237.0 1595.3,239.3 1596.8,242.1 1598.3,245.4 1599.8,249.0 1601.3,253.0 1602.8,257.3 1604.3,261.9 1605.8,266.7 1607.3,271.7 1608.8,276.9 1610.3,282.1 1611.8,287.4 1613.3,292.7 1614.8,297.8 1616.3,302.9 1617.8,307.7 1619.4,312.3 1620.9,316.6 1622.4,320.6 1623.9,324.1 1625.4,327.3 1626.9,329.9 1628.4,332.0 1629.9,333.5 1631.4,334.5 1632.9,334.8 1634.4,334.5 1635.9,333.5 1637.4,331.8 1638.9,329.4 1640.4,326.3 1641.9,322.6 1643.4,318.1 1644.9,313.0 1646.4,307.2 1647.9,300.7 1649.4,293.7 1650.9,286.0 1652.4,277.9 1653.9,269.2 1655.4,260.1 1656.9,250.5 1658.4,240.6 1659.9,230.4 1661.4,220.0 1662.9,209.4 1664.4,198.7 1665.9,187.9 1667.4,177.2 1668.9,166.5 1670.4,155.9 1671.9,145.6 1673.4,135.6 1674.9,125.8 1676.4,116.5 1677.9,107.7 1679.4,99.4 1680.9,91.6 1682.4,84.4 1683.9,78.0 1685.4,72.2 1686.9,67.2 1688.4,62.9 1689.9,59.5 1691.5,56.8 1693.0,55.1 1694.5,54.2 1696.0,54.1 1697.5,54.9 1699.0,56.6 1700.5,59.1 1702.0,62.4 1703.5,66.6 1705.0,71.5 1706.5,77.2 1708.0,83.6 1709.5,90.7 1711.0,98.4 1712.5,106.6 1714.0,115.4 1715.5,124.7 1717.0,134.3 1718.5,144.3 1720.0,154.6 1721.5,165.2 1723.0,175.8 1724.5,186.6 1726.0,197.4 1727.5,208.1 1729.0,218.7 1730.5,229.2 1732.0,239.4 1733.5,249.3 1735.0,258.9 1736.5,268.1 1738.0,276.8 1739.5,285.1 1741.0,292.8 1742.5,299.9 1744.0,306.4 1745.5,312.3 1747.0,317.5 1748.5,322.0 1750.0,325.9 1751.5,329.1 1753.0,331.5 1754.5,333.3 1756.0,334.4 1757.5,334.8 1759.0,334.6 1760.5,333.7 1762.1,332.2 1763.6,330.2 1765.1,327.6 1766.6,324.6 1768.1,321.1 1769.6,317.1 1771.1,312.9 1772.6,308.3 1774.1,303.5 1775.6,298.5 1777.1,293.3 1778.6,288.1 1780.1,282.8 1781.6,277.5 1783.1,272.4 1784.6,267.3 1786.1,262.5 1787.6,257.8 1789.1,253.5 1790.6,249.5 1792.1,245.8 1793.6,242.5 1795.1,239.6 1796.6,237.2 1798.1,235.3 1799.6,233.9 1801.1,232.9 1802.6,232.5 1804.1,232.6 1805.6,233.2 1807.1,234.4 1808.6,236.0 1810.1,238.2 1811.6,240.8 1813.1,243.8 1814.6,247.2 1816.1,251.1 1817.6,255.2 1819.1,259.7 1820.6,264.4 1822.1,269.4 1823.6,274.5 1825.1,279.7 1826.6,285.0 1828.1,290.2 1829.6,295.4 1831.1,300.5 1832.6,305.5 1834.2,310.2 1835.7,314.7 1837.2,318.8 1838.7,322.5 1840.2,325.9 1841.7,328.7 1843.2,331.1 1844.7,332.9 1846.2,334.1 1847.7,334.7 1849.2,334.7 1850.7,334.0 1852.2,332.7 1853.7,330.6 1855.2,327.8 1856.7,324.4 1858.2,320.3 1859.7,315.4 1861.2,309.9 1862.7,303.8 1864.2,297.0 1865.7,289.7 1867.2,281.7 1868.7,273.3 1870.2,264.4 1871.7,255.0 1873.2,245.3 1874.7,235.2 1876.2,224.9 1877.7,214.4 1879.2,203.7 1880.7,192.9 1882.2,182.2 1883.7,171.4 1885.2,160.8 1886.7,150.4 1888.2,140.2 1889.7,130.3 1891.2,120.8 1892.7,111.7 1894.2,103.2 1895.7,95.1 1897.2,87.7 1898.7,80.9 1900.2,74.8 1901.7,69.4 1903.2,64.8 1904.7,61.0 1906.3,58.0 1907.8,55.8 1909.3,54.5 1910.8,54.0 1912.3,54.4 1913.8,55.7 1915.3,57.8 1916.8,60.8 1918.3,64.6 1919.8,69.1 1921.3,74.5 1922.8,80.5 1924.3,87.3 1925.8,94.7 1927.3,102.7 1928.8,111.3 1930.3,120.3 1931.8,129.8 1933.3,139.6 1934.8,149.8 1936.3,160.2 1937.8,170.8 1939.3,181.6 1940.8,192.3 1942.3,203.1 1943.8,213.8 1945.3,224.3 1946.8,234.7 1948.3,244.7 1949.8,254.5 1951.3,263.9 1952.8,272.8 1954.3,281.3 1955.8,289.2 1957.3,296.6 1958.8,303.4 1960.3,309.6 1961.8,315.1 1963.3,320.0 1964.8,324.2 1966.3,327.7 1967.8,330.5 1969.3,332.6 1970.8,334.0 1972.3,334.7 1973.8,334.8 1975.3,334.2 1976.9,333.0 1978.4,331.2 1979.9,328.9 1981.4,326.0 1982.9,322.7 1984.4,319.0 1985.9,314.9 1987.4,310.5 1988.9,305.8 1990.4,300.8 1991.9,295.7 1993.4,290.5 1994.9,285.2 1996.4,280.0 1997.9,274.8 1999.4,269.7 2000.9,264.7 2002.4,260.0 2003.9,255.5 2005.4,251.3 2006.9,247.4 2008.4,244.0 2009.9,240.9 2011.4,238.3 2012.9,236.1 2014.4,234.5 2015.9,233.3 2017.4,232.6 2018.9,232.5 2020.4,232.9 2021.9,233.8 2023.4,235.2 2024.9,237.1 2026.4,239.5 2027.9,242.3 2029.4,245.6 2030.9,249.2 2032.4,253.3 2033.9,257.6 2035.4,262.2 2036.9,267.1 2038.4,272.1 2039.9,277.3 2041.4,282.5 2042.9,287.8 2044.4,293.0 2045.9,298.2 2047.4,303.2 2049.0,308.0 2050.5,312.6 2052.0,316.9 2053.5,320.8 2055.0,324.4 2056.5,327.5 2058.0,330.1 2059.5,332.1 2061.0,333.6 2062.5,334.5 2064.0,334.8 2065.5,334.4 2067.0,333.4 2068.5,331.6 2070.0,329.2 2071.5,326.1 2073.0,322.3 2074.5,317.8 2076.0,312.6 2077.5,306.7 2079.0,300.3 2080.5,293.2 2082.0,285.5 2083.5,277.3" stroke="#3f5ba9" stroke-width="5.9" stroke-dasharray="22 6.2 11 6.2" stroke-linejoin="round"/>
</g>
<rect x="1907.70" y="66.60" width="159.90" height="72.00" fill="#fff" stroke="#303030" stroke-width="1.2"/>
<line x1="1913.30" y1="85.80" x2="1969.90" y2="85.80" stroke="#ef2413" stroke-width="3.8"/>
<line x1="1913.30" y1="119.70" x2="1969.90" y2="119.70" stroke="#3f5ba9" stroke-width="5.9" stroke-dasharray="22 6.2 11 6.2"/>
<text transform="translate(1974.90,92.80)" fill="#000"><tspan x="0.5 21.6 37.4 47.1 62.1 77.9" y="0" font-size="27.81">Output</tspan></text>
<text transform="translate(1974.90,126.30)" fill="#000"><tspan x="0.2 10.3 25.3 40.3 56.2" y="0" font-size="27.81">Input</tspan></text>
</g>
<g id="top-c">
<path d="M140.8 876.9V1158M190.4 876.9V1158M215.3 876.9V1158M240.1 876.9V1158M265 876.9V1158M314.6 876.9V1158M339.5 876.9V1158M364.3 876.9V1158M389.2 876.9V1158M438.8 876.9V1158M463.7 876.9V1158M488.5 876.9V1158M513.4 876.9V1158M563 876.9V1158M587.9 876.9V1158M612.7 876.9V1158M637.6 876.9V1158M687.2 876.9V1158M712.1 876.9V1158M736.9 876.9V1158M761.8 876.9V1158M811.4 876.9V1158M836.3 876.9V1158M861.1 876.9V1158M886 876.9V1158M935.6 876.9V1158M960.5 876.9V1158M118.6 897.4H976.3M118.6 918.4H976.3M118.6 960.4H976.3M118.6 981.4H976.3M118.6 1002.3H976.3M118.6 1023.3H976.3M118.6 1065.3H976.3M118.6 1086.3H976.3M118.6 1107.2H976.3M118.6 1128.2H976.3" fill="none" stroke="#cbcbcb" stroke-width="1.3" stroke-dasharray="1.3 4.4"/>
<path d="M165.6 876.9V1158M289.8 876.9V1158M414 876.9V1158M538.2 876.9V1158M662.4 876.9V1158M786.6 876.9V1158M910.8 876.9V1158M118.6 1149.2H976.3M118.6 1044.3H976.3M118.6 939.4H976.3" fill="none" stroke="#dcdcdc" stroke-width="1.4"/>
<path d="M165.6 1158V1149.1M165.6 876.9V885.8M289.8 1158V1149.1M289.8 876.9V885.8M414 1158V1149.1M414 876.9V885.8M538.2 1158V1149.1M538.2 876.9V885.8M662.4 1158V1149.1M662.4 876.9V885.8M786.6 1158V1149.1M786.6 876.9V885.8M910.8 1158V1149.1M910.8 876.9V885.8M140.8 1158V1152.9M140.8 876.9V882M190.4 1158V1152.9M190.4 876.9V882M215.3 1158V1152.9M215.3 876.9V882M240.1 1158V1152.9M240.1 876.9V882M265 1158V1152.9M265 876.9V882M314.6 1158V1152.9M314.6 876.9V882M339.5 1158V1152.9M339.5 876.9V882M364.3 1158V1152.9M364.3 876.9V882M389.2 1158V1152.9M389.2 876.9V882M438.8 1158V1152.9M438.8 876.9V882M463.7 1158V1152.9M463.7 876.9V882M488.5 1158V1152.9M488.5 876.9V882M513.4 1158V1152.9M513.4 876.9V882M563 1158V1152.9M563 876.9V882M587.9 1158V1152.9M587.9 876.9V882M612.7 1158V1152.9M612.7 876.9V882M637.6 1158V1152.9M637.6 876.9V882M687.2 1158V1152.9M687.2 876.9V882M712.1 1158V1152.9M712.1 876.9V882M736.9 1158V1152.9M736.9 876.9V882M761.8 1158V1152.9M761.8 876.9V882M811.4 1158V1152.9M811.4 876.9V882M836.3 1158V1152.9M836.3 876.9V882M861.1 1158V1152.9M861.1 876.9V882M886 1158V1152.9M886 876.9V882M935.6 1158V1152.9M935.6 876.9V882M960.5 1158V1152.9M960.5 876.9V882M118.6 1149.2H127.5M118.6 1044.3H127.5M118.6 939.4H127.5M118.6 897.4H123.7M118.6 918.4H123.7M118.6 960.4H123.7M118.6 981.4H123.7M118.6 1002.3H123.7M118.6 1023.3H123.7M118.6 1065.3H123.7M118.6 1086.3H123.7M118.6 1107.2H123.7M118.6 1128.2H123.7M976.3 1127.3H967.4M976.3 1049.4H967.4M976.3 971.5H967.4M976.3 893.6H967.4" fill="none" stroke="#303030" stroke-width="1.05"/>
<rect x="118.60" y="876.90" width="857.70" height="281.10" fill="none" stroke="#303030" stroke-width="1.2"/>
<text transform="translate(165.60,1193.90)" fill="#000"><tspan x="-26.8 -11.3 -3.5 11.5" y="0" font-size="30.58">0.55</tspan></text>
<text transform="translate(289.80,1193.90)" fill="#000"><tspan x="-19.3 -3.8 4" y="0" font-size="30.58">0.6</tspan></text>
<text transform="translate(414.00,1193.90)" fill="#000"><tspan x="-26.8 -11.3 -3.5 11.5" y="0" font-size="30.58">0.65</tspan></text>
<text transform="translate(538.20,1193.90)" fill="#000"><tspan x="-19.3 -3.8 4" y="0" font-size="30.58">0.7</tspan></text>
<text transform="translate(662.40,1193.90)" fill="#000"><tspan x="-26.8 -11.3 -3.5 11.5" y="0" font-size="30.58">0.75</tspan></text>
<text transform="translate(786.60,1193.90)" fill="#000"><tspan x="-19.3 -3.8 4" y="0" font-size="30.58">0.8</tspan></text>
<text transform="translate(910.80,1193.90)" fill="#000"><tspan x="-26.8 -11.3 -3.5 11.5" y="0" font-size="30.58">0.85</tspan></text>
<text transform="translate(108.00,1157.20)" fill="#000"><tspan x="-38.5 -23 -15.1" y="0" font-size="30.58">0.1</tspan></text>
<text transform="translate(108.00,1052.30)" fill="#000"><tspan x="-53.5 -38 -30.1 -15.1" y="0" font-size="30.58">0.15</tspan></text>
<text transform="translate(108.00,947.40)" fill="#000"><tspan x="-38.5 -23 -15.1" y="0" font-size="30.58">0.2</tspan></text>
<text transform="translate(985.90,1135.30)" fill="#000"><tspan x="-0.1 9.8" y="0" font-size="30.58">-2</tspan></text>
<text transform="translate(985.90,1057.40)" fill="#000"><tspan x="-0.1" y="0" font-size="30.58">0</tspan></text>
<text transform="translate(985.90,979.50)" fill="#000"><tspan x="-0.1" y="0" font-size="30.58">2</tspan></text>
<text transform="translate(985.90,901.60)" fill="#000"><tspan x="-0.1" y="0" font-size="30.58">4</tspan></text>
<text transform="translate(547.45,858.00)" fill="#000"><tspan x="-156.3 -125.9 -101.6 -81.4" y="0" font-size="33.99">MAST</tspan><tspan x="-59" y="0" font-size="32.51">-</tspan><tspan x="-48 -23.4" y="0" font-size="33.99">U </tspan><tspan x="-9.4" y="1" font-size="42.9">#</tspan><tspan x="15.2 31.7 48.2 64.7 81.2 97.6" y="0" font-size="32.51">47086 </tspan><tspan x="109.5 131.4" y="0" font-size="33.99">ED</tspan></text>
<text transform="translate(547.45,1234.30)" fill="#000"><tspan x="-57.2 -35.1 -25.2 1.5 16.4" y="0" font-size="33.99">Time </tspan><tspan x="25.7" y="2.3" font-size="37.95">[</tspan><tspan x="36.5" y="0" font-size="33.99">s</tspan><tspan x="47.8" y="2.3" font-size="37.95">]</tspan></text>
<text transform="translate(976.60,860.00)" fill="#000"><tspan x="1.5" y="1.5" font-size="36">×</tspan><tspan x="23.5 38.5" y="0" font-size="29.55">10</tspan><tspan x="54 65.2" y="-10.8" font-size="19.86">21</tspan></text>
<text transform="translate(38.30,1017.45) rotate(-90)" fill="#000"><tspan x="-54.6" y="0" font-size="33.99">L</tspan><tspan x="-32.6 -23.7 -11.3 -2.3" y="6.6" font-size="25.13">tar </tspan><tspan x="7" y="2.3" font-size="37.95">[</tspan><tspan x="18.4" y="0" font-size="33.99">m</tspan><tspan x="43.7" y="2.3" font-size="37.95">]</tspan></text>
<text transform="translate(1044.80,1017.45) rotate(-90)" fill="#000"><tspan x="-99.6 -79.5 -70.5 -54.1 -29.1 -16.3 1.2 12.2 27" y="0" font-size="33.99">Flowrate </tspan><tspan x="36.3" y="2.3" font-size="37.95">[</tspan><tspan x="47.1" y="0" font-size="33.99">s</tspan><tspan x="62.3" y="-10.7" font-size="26.61">−</tspan><tspan x="80.1" y="-11.9" font-size="21.84">1</tspan><tspan x="90" y="2.3" font-size="37.95">]</tspan></text>
<clipPath id="c3"><rect x="118.60" y="876.90" width="857.70" height="281.10"/></clipPath>
<g clip-path="url(#c3)" fill="none">
<polyline points="118.6,1075.8 124.9,970.9 131.0,949.9 137.4,960.4 143.5,981.4 149.8,918.4 156.0,939.4 162.3,939.4 168.4,960.4 174.7,949.9 180.9,939.4 187.2,939.4 193.3,939.4 199.6,939.4 205.8,949.9 212.1,928.9 218.2,928.9 224.5,918.4 231.2,928.9 237.0,981.4 243.1,949.9 249.4,960.4 255.6,949.9 261.9,991.9 268.0,970.9 273.8,1075.8 280.1,1075.8 292.6,1107.2 298.7,1107.2 305.0,1138.7 311.2,1096.8 317.5,1149.2 323.6,1138.7 330.0,1107.2 342.4,1096.8 348.5,1096.8 379.8,1138.7 385.9,1138.7 392.2,1138.7 398.3,1138.7 404.6,1107.2 410.8,1086.3 416.9,1075.8 423.2,1075.8 429.3,1002.3 435.7,991.9 441.8,981.4 448.1,949.9 454.3,981.4 460.6,981.4 466.7,981.4 473.0,949.9 479.2,897.4 485.5,876.5 491.6,981.4 497.9,991.9 504.1,970.9 510.4,939.4 516.5,970.9 522.8,970.9 529.5,991.9 535.3,991.9 541.4,981.4 547.7,981.4 553.9,1002.3 560.2,991.9 566.8,1002.3 572.6,1096.8 578.8,1107.2 585.1,1107.2 591.2,1107.2 597.5,1096.8 603.7,1117.7 610.0,1107.2 616.1,1117.7 622.4,1117.7 628.6,1117.7 678.1,1086.3 684.5,1107.2 690.8,1065.3 696.9,1107.2 703.2,1054.8 709.4,1033.8 715.7,1012.8 721.8,991.9 728.1,1012.8 734.3,991.9 740.6,1002.3 746.7,1002.3 753.1,981.4 759.2,981.4 765.5,991.9 771.6,991.9 778.0,960.4 784.1,960.4 790.4,1002.3 809.0,970.9 815.3,1002.3 821.5,1002.3 827.8,991.9 833.9,991.9 840.2,991.9 846.4,1012.8 852.7,1002.3 858.8,1002.3 865.1,1012.8 871.3,1012.8 877.6,1002.3 883.7,1033.8 889.5,1086.3 895.8,1033.8 902.0,1033.8 908.3,1054.8 914.4,1065.3 920.7,1033.8 933.2,1117.7 939.3,1107.2 945.6,1033.8 951.8,1044.3 958.1,1012.8 964.2,991.9 970.6,1002.3" stroke="#ef2413" stroke-width="3.8" stroke-linejoin="round"/>
<polyline points="118.6,945.6 120.1,941.7 121.6,937.9 123.1,934.1 124.6,930.4 126.1,926.8 127.6,923.3 129.1,919.9 130.6,916.7 132.1,913.5 133.6,910.4 135.1,907.5 136.6,904.7 138.1,902.0 139.6,899.4 141.1,897.0 142.6,894.6 144.1,892.5 145.6,890.4 147.1,888.5 148.6,886.7 150.1,885.1 151.6,883.6 153.1,882.3 154.7,881.1 156.2,880.0 157.7,879.1 159.2,878.4 160.7,877.8 162.2,877.3 163.7,877.1 165.2,876.9 166.7,876.9 168.2,877.1 169.7,877.4 171.2,877.9 172.7,878.5 174.2,879.3 175.7,880.2 177.2,881.3 178.7,882.5 180.2,883.8 181.7,885.3 183.2,887.0 184.7,888.8 186.2,890.7 187.7,892.8 189.2,895.0 190.7,897.3 192.2,899.8 193.7,902.4 195.2,905.1 196.7,907.9 198.2,910.9 199.7,914.0 201.2,917.2 202.7,920.5 204.2,923.9 205.7,927.4 207.2,931.0 208.7,934.7 210.2,938.4 211.7,942.3 213.2,946.3 214.7,950.3 216.2,954.4 217.7,958.6 219.2,962.8 220.7,967.1 222.2,971.4 223.7,975.8 225.2,980.3 226.8,984.8 228.3,989.3 229.8,993.8 231.3,998.4 232.8,1003.0 234.3,1007.6 235.8,1012.2 237.3,1016.8 238.8,1021.5 240.3,1026.1 241.8,1030.7 243.3,1035.3 244.8,1039.9 246.3,1044.4 247.8,1049.0 249.3,1053.5 250.8,1057.9 252.3,1062.3 253.8,1066.7 255.3,1071.0 256.8,1075.2 258.3,1079.4 259.8,1083.5 261.3,1087.6 262.8,1091.6 264.3,1095.5 265.8,1099.3 267.3,1103.0 268.8,1106.6 270.3,1110.1 271.8,1113.6 273.3,1116.9 274.8,1120.1 276.3,1123.2 277.8,1126.2 279.3,1129.1 280.8,1131.8 282.3,1134.4 283.8,1136.9 285.3,1139.3 286.8,1141.6 288.3,1143.7 289.8,1145.6 291.3,1147.5 292.8,1149.1 294.3,1150.7 295.8,1152.1 297.4,1153.3 298.9,1154.5 300.4,1155.4 301.9,1156.2 303.4,1156.9 304.9,1157.4 306.4,1157.7 307.9,1157.9 309.4,1158.0 310.9,1157.9 312.4,1157.6 313.9,1157.2 315.4,1156.7 316.9,1156.0 318.4,1155.1 319.9,1154.1 321.4,1153.0 322.9,1151.7 324.4,1150.2 325.9,1148.6 327.4,1146.9 328.9,1145.0 330.4,1143.0 331.9,1140.8 333.4,1138.6 334.9,1136.2 336.4,1133.6 337.9,1130.9 339.4,1128.2 340.9,1125.2 342.4,1122.2 343.9,1119.1 345.4,1115.8 346.9,1112.5 348.4,1109.0 349.9,1105.4 351.4,1101.8 352.9,1098.0 354.4,1094.2 355.9,1090.3 357.4,1086.3 358.9,1082.2 360.4,1078.1 361.9,1073.9 363.4,1069.6 364.9,1065.3 366.4,1060.9 367.9,1056.5 369.5,1052.0 371.0,1047.5 372.5,1043.0 374.0,1038.4 375.5,1033.8 377.0,1029.2 378.5,1024.6 380.0,1020.0 381.5,1015.4 383.0,1010.7 384.5,1006.1 386.0,1001.5 387.5,996.9 389.0,992.4 390.5,987.8 392.0,983.3 393.5,978.8 395.0,974.4 396.5,970.0 398.0,965.7 399.5,961.4 401.0,957.2 402.5,953.1 404.0,949.0 405.5,945.0 407.0,941.1 408.5,937.2 410.0,933.5 411.5,929.8 413.0,926.2 414.5,922.8 416.0,919.4 417.5,916.1 419.0,913.0 420.5,909.9 422.0,907.0 423.5,904.2 425.0,901.5 426.5,899.0 428.0,896.6 429.5,894.3 431.0,892.1 432.5,890.1 434.0,888.2 435.5,886.4 437.0,884.8 438.5,883.4 440.0,882.1 441.6,880.9 443.1,879.9 444.6,879.0 446.1,878.3 447.6,877.7 449.1,877.3 450.6,877.0 452.1,876.9 453.6,876.9 455.1,877.1 456.6,877.5 458.1,878.0 459.6,878.6 461.1,879.4 462.6,880.4 464.1,881.4 465.6,882.7 467.1,884.1 468.6,885.6 470.1,887.3 471.6,889.1 473.1,891.0 474.6,893.1 476.1,895.4 477.6,897.7 479.1,900.2 480.6,902.8 482.1,905.6 483.6,908.4 485.1,911.4 486.6,914.5 488.1,917.7 489.6,921.0 491.1,924.4 492.6,928.0 494.1,931.6 495.6,935.3 497.1,939.1 498.6,943.0 500.1,946.9 501.6,951.0 503.1,955.1 504.6,959.3 506.1,963.5 507.6,967.8 509.1,972.2 510.6,976.6 512.2,981.0 513.7,985.5 515.2,990.0 516.7,994.6 518.2,999.2 519.7,1003.8 521.2,1008.4 522.7,1013.0 524.2,1017.6 525.7,1022.2 527.2,1026.9 528.7,1031.5 530.2,1036.1 531.7,1040.7 533.2,1045.2 534.7,1049.7 536.2,1054.2 537.7,1058.7 539.2,1063.1 540.7,1067.4 542.2,1071.7 543.7,1075.9 545.2,1080.1 546.7,1084.2 548.2,1088.3 549.7,1092.2 551.2,1096.1 552.7,1099.9 554.2,1103.6 555.7,1107.2 557.2,1110.7 558.7,1114.1 560.2,1117.4 561.7,1120.6 563.2,1123.7 564.7,1126.7 566.2,1129.5 567.7,1132.3 569.2,1134.9 570.7,1137.4 572.2,1139.7 573.7,1141.9 575.2,1144.0 576.7,1145.9 578.2,1147.7 579.7,1149.4 581.2,1150.9 582.7,1152.3 584.3,1153.5 585.8,1154.6 587.3,1155.6 588.8,1156.3 590.3,1157.0 591.8,1157.5 593.3,1157.8 594.8,1158.0 596.3,1158.0 597.8,1157.9 599.3,1157.6 600.8,1157.2 602.3,1156.6 603.8,1155.8 605.3,1155.0 606.8,1153.9 608.3,1152.7 609.8,1151.4 611.3,1150.0 612.8,1148.3 614.3,1146.6 615.8,1144.7 617.3,1142.6 618.8,1140.5 620.3,1138.2 621.8,1135.7 623.3,1133.2 624.8,1130.5 626.3,1127.7 627.8,1124.7 629.3,1121.7 630.8,1118.5 632.3,1115.3 633.8,1111.9 635.3,1108.4 636.8,1104.8 638.3,1101.2 639.8,1097.4 641.3,1093.6 642.8,1089.6 644.3,1085.6 645.8,1081.5 647.3,1077.4 648.8,1073.2 650.3,1068.9 651.8,1064.6 653.3,1060.2 654.9,1055.7 656.4,1051.3 657.9,1046.8 659.4,1042.2 660.9,1037.6 662.4,1033.1 663.9,1028.5 665.4,1023.8 666.9,1019.2 668.4,1014.6 669.9,1010.0 671.4,1005.3 672.9,1000.7 674.4,996.2 675.9,991.6 677.4,987.1 678.9,982.6 680.4,978.1 681.9,973.7 683.4,969.3 684.9,965.0 686.4,960.7 687.9,956.5 689.4,952.4 690.9,948.3 692.4,944.3 693.9,940.4 695.4,936.6 696.9,932.8 698.4,929.2 699.9,925.6 701.4,922.2 702.9,918.8 704.4,915.6 705.9,912.5 707.4,909.4 708.9,906.5 710.4,903.8 711.9,901.1 713.4,898.6 714.9,896.2 716.4,893.9 717.9,891.8 719.4,889.7 720.9,887.9 722.4,886.2 723.9,884.6 725.4,883.1 727.0,881.9 728.5,880.7 730.0,879.7 731.5,878.9 733.0,878.2 734.5,877.6 736.0,877.2 737.5,877.0 739.0,876.9 740.5,877.0 742.0,877.2 743.5,877.5 745.0,878.1 746.5,878.7 748.0,879.6 749.5,880.5 751.0,881.6 752.5,882.9 754.0,884.3 755.5,885.9 757.0,887.6 758.5,889.4 760.0,891.4 761.5,893.5 763.0,895.8 764.5,898.1 766.0,900.6 767.5,903.3 769.0,906.0 770.5,908.9 772.0,911.9 773.5,915.0 775.0,918.3 776.5,921.6 778.0,925.0 779.5,928.6 781.0,932.2 782.5,935.9 784.0,939.7 785.5,943.6 787.0,947.6 788.5,951.7 790.0,955.8 791.5,960.0 793.0,964.2 794.5,968.5 796.0,972.9 797.5,977.3 799.1,981.8 800.6,986.3 802.1,990.8 803.6,995.3 805.1,999.9 806.6,1004.5 808.1,1009.1 809.6,1013.8 811.1,1018.4 812.6,1023.0 814.1,1027.6 815.6,1032.2 817.1,1036.8 818.6,1041.4 820.1,1046.0 821.6,1050.5 823.1,1055.0 824.6,1059.4 826.1,1063.8 827.6,1068.1 829.1,1072.4 830.6,1076.6 832.1,1080.8 833.6,1084.9 835.1,1088.9 836.6,1092.9 838.1,1096.7 839.6,1100.5 841.1,1104.2 842.6,1107.8 844.1,1111.3 845.6,1114.7 847.1,1118.0 848.6,1121.2 850.1,1124.2 851.6,1127.2 853.1,1130.0 854.6,1132.7 856.1,1135.3 857.6,1137.8 859.1,1140.1 860.6,1142.3 862.1,1144.3 863.6,1146.3 865.1,1148.0 866.6,1149.7 868.1,1151.2 869.7,1152.5 871.2,1153.7 872.7,1154.8 874.2,1155.7 875.7,1156.5 877.2,1157.1 878.7,1157.5 880.2,1157.8 881.7,1158.0 883.2,1158.0 884.7,1157.8 886.2,1157.5 887.7,1157.1 889.2,1156.5 890.7,1155.7 892.2,1154.8 893.7,1153.7 895.2,1152.5 896.7,1151.2 898.2,1149.7 899.7,1148.1 901.2,1146.3 902.7,1144.4 904.2,1142.3 905.7,1140.1 907.2,1137.8 908.7,1135.3 910.2,1132.7 911.7,1130.0 913.2,1127.2 914.7,1124.2 916.2,1121.2 917.7,1118.0 919.2,1114.7 920.7,1111.3 922.2,1107.8 923.7,1104.2 925.2,1100.5 926.7,1096.8 928.2,1092.9 929.7,1089.0 931.2,1084.9 932.7,1080.8 934.2,1076.7 935.7,1072.5 937.2,1068.2 938.7,1063.8 940.2,1059.4 941.8,1055.0 943.3,1050.5 944.8,1046.0 946.3,1041.5 947.8,1036.9 949.3,1032.3 950.8,1027.7 952.3,1023.1 953.8,1018.4 955.3,1013.8 956.8,1009.2 958.3,1004.6 959.8,1000.0 961.3,995.4 962.8,990.8 964.3,986.3 965.8,981.8 967.3,977.3 968.8,972.9 970.3,968.6 971.8,964.3 973.3,960.0 974.8,955.8 976.3,951.7" stroke="#3f5ba9" stroke-width="5.9" stroke-dasharray="22 6.2 11 6.2" stroke-linejoin="round"/>
</g>
<rect x="800.50" y="888.90" width="159.90" height="72.00" fill="#fff" stroke="#303030" stroke-width="1.2"/>
<line x1="806.10" y1="908.10" x2="862.70" y2="908.10" stroke="#ef2413" stroke-width="3.8"/>
<line x1="806.10" y1="942.00" x2="862.70" y2="942.00" stroke="#3f5ba9" stroke-width="5.9" stroke-dasharray="22 6.2 11 6.2"/>
<text transform="translate(867.70,915.10)" fill="#000"><tspan x="0.5 21.6 37.4 47.1 62.1 77.9" y="0" font-size="27.81">Output</tspan></text>
<text transform="translate(867.70,948.60)" fill="#000"><tspan x="0.2 10.3 25.3 40.3 56.2" y="0" font-size="27.81">Input</tspan></text>
</g>
<g id="top-d">
<path d="M1260.9 876.9V1158M1298.1 876.9V1158M1335.4 876.9V1158M1410 876.9V1158M1447.3 876.9V1158M1484.5 876.9V1158M1521.8 876.9V1158M1596.4 876.9V1158M1633.7 876.9V1158M1670.9 876.9V1158M1708.2 876.9V1158M1782.8 876.9V1158M1820.1 876.9V1158M1857.3 876.9V1158M1894.6 876.9V1158M1969.2 876.9V1158M2006.5 876.9V1158M2043.7 876.9V1158M2081 876.9V1158M1225.8 910.2H2083.5M1225.8 926.7H2083.5M1225.8 943.2H2083.5M1225.8 976.3H2083.5M1225.8 992.8H2083.5M1225.8 1009.3H2083.5M1225.8 1042.3H2083.5M1225.8 1058.9H2083.5M1225.8 1075.4H2083.5M1225.8 1108.4H2083.5M1225.8 1124.9H2083.5M1225.8 1141.5H2083.5" fill="none" stroke="#cbcbcb" stroke-width="1.3" stroke-dasharray="1.3 4.4"/>
<path d="M1372.7 876.9V1158M1559.1 876.9V1158M1745.5 876.9V1158M1931.9 876.9V1158M1225.8 1091.9H2083.5M1225.8 1025.8H2083.5M1225.8 959.7H2083.5M1225.8 893.6H2083.5" fill="none" stroke="#dcdcdc" stroke-width="1.4"/>
<path d="M1372.7 1158V1149.1M1372.7 876.9V885.8M1559.1 1158V1149.1M1559.1 876.9V885.8M1745.5 1158V1149.1M1745.5 876.9V885.8M1931.9 1158V1149.1M1931.9 876.9V885.8M1260.9 1158V1152.9M1260.9 876.9V882M1298.1 1158V1152.9M1298.1 876.9V882M1335.4 1158V1152.9M1335.4 876.9V882M1410 1158V1152.9M1410 876.9V882M1447.3 1158V1152.9M1447.3 876.9V882M1484.5 1158V1152.9M1484.5 876.9V882M1521.8 1158V1152.9M1521.8 876.9V882M1596.4 1158V1152.9M1596.4 876.9V882M1633.7 1158V1152.9M1633.7 876.9V882M1670.9 1158V1152.9M1670.9 876.9V882M1708.2 1158V1152.9M1708.2 876.9V882M1782.8 1158V1152.9M1782.8 876.9V882M1820.1 1158V1152.9M1820.1 876.9V882M1857.3 1158V1152.9M1857.3 876.9V882M1894.6 1158V1152.9M1894.6 876.9V882M1969.2 1158V1152.9M1969.2 876.9V882M2006.5 1158V1152.9M2006.5 876.9V882M2043.7 1158V1152.9M2043.7 876.9V882M2081 1158V1152.9M2081 876.9V882M1225.8 1091.9H1234.7M1225.8 1025.8H1234.7M1225.8 959.7H1234.7M1225.8 893.6H1234.7M1225.8 910.2H1230.9M1225.8 926.7H1230.9M1225.8 943.2H1230.9M1225.8 976.3H1230.9M1225.8 992.8H1230.9M1225.8 1009.3H1230.9M1225.8 1042.3H1230.9M1225.8 1058.9H1230.9M1225.8 1075.4H1230.9M1225.8 1108.4H1230.9M1225.8 1124.9H1230.9M1225.8 1141.5H1230.9M2083.5 1128.3H2074.6M2083.5 1058H2074.6M2083.5 987.7H2074.6M2083.5 917.4H2074.6" fill="none" stroke="#303030" stroke-width="1.05"/>
<rect x="1225.80" y="876.90" width="857.70" height="281.10" fill="none" stroke="#303030" stroke-width="1.2"/>
<text transform="translate(1372.70,1193.90)" fill="#000"><tspan x="-19.3 -3.8 4" y="0" font-size="30.58">0.5</tspan></text>
<text transform="translate(1559.10,1193.90)" fill="#000"><tspan x="-19.3 -3.8 4" y="0" font-size="30.58">0.6</tspan></text>
<text transform="translate(1745.50,1193.90)" fill="#000"><tspan x="-19.3 -3.8 4" y="0" font-size="30.58">0.7</tspan></text>
<text transform="translate(1931.90,1193.90)" fill="#000"><tspan x="-19.3 -3.8 4" y="0" font-size="30.58">0.8</tspan></text>
<text transform="translate(1215.20,1099.90)" fill="#000"><tspan x="-53.5 -38 -30.1 -15.1" y="0" font-size="30.58">0.46</tspan></text>
<text transform="translate(1215.20,1033.80)" fill="#000"><tspan x="-53.5 -38 -30.1 -15.1" y="0" font-size="30.58">0.48</tspan></text>
<text transform="translate(1215.20,967.70)" fill="#000"><tspan x="-38.5 -23 -15.1" y="0" font-size="30.58">0.5</tspan></text>
<text transform="translate(1215.20,901.60)" fill="#000"><tspan x="-53.5 -38 -30.1 -15.1" y="0" font-size="30.58">0.52</tspan></text>
<text transform="translate(2093.10,1136.30)" fill="#000"><tspan x="-0.1 9.8" y="0" font-size="30.58">-2</tspan></text>
<text transform="translate(2093.10,1066.00)" fill="#000"><tspan x="-0.1" y="0" font-size="30.58">0</tspan></text>
<text transform="translate(2093.10,995.70)" fill="#000"><tspan x="-0.1" y="0" font-size="30.58">2</tspan></text>
<text transform="translate(2093.10,925.40)" fill="#000"><tspan x="-0.1" y="0" font-size="30.58">4</tspan></text>
<text transform="translate(1654.65,858.00)" fill="#000"><tspan x="-166.6 -136.2 -111.9 -91.7" y="0" font-size="33.99">MAST</tspan><tspan x="-69.3" y="0" font-size="32.51">-</tspan><tspan x="-58.3 -33.7" y="0" font-size="33.99">U </tspan><tspan x="-19.7" y="1" font-size="42.9">#</tspan><tspan x="4.9 21.4 37.9 54.4 70.9 87.3" y="0" font-size="32.51">47116 </tspan><tspan x="98 116.7 141.7" y="0" font-size="33.99">SXD</tspan></text>
<text transform="translate(1654.65,1234.30)" fill="#000"><tspan x="-57.2 -35.1 -25.2 1.5 16.4" y="0" font-size="33.99">Time </tspan><tspan x="25.7" y="2.3" font-size="37.95">[</tspan><tspan x="36.5" y="0" font-size="33.99">s</tspan><tspan x="47.8" y="2.3" font-size="37.95">]</tspan></text>
<text transform="translate(2083.80,860.00)" fill="#000"><tspan x="1.5" y="1.5" font-size="36">×</tspan><tspan x="23.5 38.5" y="0" font-size="29.55">10</tspan><tspan x="54 65.2" y="-10.8" font-size="19.86">21</tspan></text>
<text transform="translate(1145.50,1017.45) rotate(-90)" fill="#000"><tspan x="-54.6" y="0" font-size="33.99">L</tspan><tspan x="-32.6 -23.7 -11.3 -2.3" y="6.6" font-size="25.13">tar </tspan><tspan x="7" y="2.3" font-size="37.95">[</tspan><tspan x="18.4" y="0" font-size="33.99">m</tspan><tspan x="43.7" y="2.3" font-size="37.95">]</tspan></text>
<text transform="translate(2152.00,1017.45) rotate(-90)" fill="#000"><tspan x="-99.6 -79.5 -70.5 -54.1 -29.1 -16.3 1.2 12.2 27" y="0" font-size="33.99">Flowrate </tspan><tspan x="36.3" y="2.3" font-size="37.95">[</tspan><tspan x="47.1" y="0" font-size="33.99">s</tspan><tspan x="62.3" y="-10.7" font-size="26.61">−</tspan><tspan x="80.1" y="-11.9" font-size="21.84">1</tspan><tspan x="90" y="2.3" font-size="37.95">]</tspan></text>
<clipPath id="c4"><rect x="1225.80" y="876.90" width="857.70" height="281.10"/></clipPath>
<g clip-path="url(#c4)" fill="none">
<polyline points="1225.8,1009.3 1234.9,976.3 1239.9,992.8 1249.2,959.8 1253.8,959.8 1258.5,926.7 1263.1,943.2 1267.8,926.7 1272.4,910.2 1277.1,926.7 1281.7,959.8 1286.4,910.2 1291.0,910.2 1295.7,926.7 1300.3,926.7 1305.0,959.8 1309.6,976.3 1314.3,1075.4 1318.9,1009.3 1323.6,1025.8 1328.2,1025.8 1332.9,1025.8 1337.5,1025.8 1342.2,1042.4 1346.8,1075.4 1351.5,1075.4 1356.1,1075.4 1360.8,1058.9 1365.4,1042.4 1370.1,1141.5 1388.6,1075.4 1393.5,1025.8 1398.1,1125.0 1402.8,1108.4 1407.4,1091.9 1412.1,1042.4 1416.7,1025.8 1421.4,1009.3 1426.0,1009.3 1430.7,1025.8 1435.3,1025.8 1440.0,992.8 1444.6,976.3 1449.2,976.3 1453.9,992.8 1458.5,976.3 1463.2,959.8 1467.8,976.3 1472.5,976.3 1477.1,959.8 1481.8,943.2 1486.4,959.8 1491.1,976.3 1495.7,959.8 1501.3,943.2 1506.0,976.3 1510.6,959.8 1515.3,959.8 1519.9,943.2 1524.6,1009.3 1529.2,992.8 1533.9,992.8 1538.5,992.8 1547.8,1025.8 1552.5,1009.3 1557.1,1009.3 1561.8,976.3 1566.4,976.3 1575.7,1075.4 1580.4,1075.4 1585.0,1075.4 1589.7,1075.4 1594.3,1042.4 1599.0,1025.8 1603.6,1158.0 1612.9,1042.4 1617.5,1042.4 1622.2,1025.8 1626.8,1009.3 1631.5,1025.8 1636.1,1025.8 1640.8,1009.3 1645.4,992.8 1650.1,976.3 1654.7,943.2 1659.4,976.3 1664.0,992.8 1668.7,959.8 1673.3,943.2 1678.0,910.2 1682.6,943.2 1696.6,893.7 1701.2,935.0 1705.9,926.7 1710.5,943.2 1715.2,893.7 1719.8,926.7 1724.5,976.3 1729.1,959.8 1733.8,943.2 1738.4,943.2 1743.1,976.3 1747.7,1009.3 1752.4,992.8 1757.0,992.8 1761.7,976.3 1766.3,976.3 1771.0,1075.4 1775.6,1025.8 1780.3,1025.8 1784.9,1009.3 1789.6,1025.8 1794.2,1025.8 1799.1,1075.4 1803.8,1075.4 1808.4,1075.4 1813.2,1042.4 1817.9,1025.8 1822.5,1025.8 1831.8,1075.4 1836.5,1025.8 1841.1,1025.8 1845.8,1009.3 1850.4,1009.3 1855.1,1009.3 1859.7,1009.3 1864.4,976.3 1869.0,959.8 1873.7,943.2 1878.3,959.8 1883.0,943.2 1887.6,893.7 1892.3,910.2 1896.9,910.2 1901.6,910.2 1906.2,959.8 1910.9,959.8 1915.5,943.2 1920.2,926.7 1924.8,910.2 1929.5,877.2 1934.1,910.2 1938.8,926.7 1943.4,943.2 1948.1,959.8 1953.5,992.8 1958.2,992.8 1962.8,959.8 1967.5,959.8 1972.1,1009.3 1976.8,1009.3 1981.4,1009.3 1986.1,992.8 1990.7,976.3 1995.4,1009.3 2000.0,1025.8 2004.7,1009.3 2009.3,1009.3 2014.0,1009.3 2018.6,1009.3 2023.3,1025.8 2027.9,1025.8 2032.6,1009.3 2037.2,1025.8 2041.9,1009.3 2046.5,1009.3 2051.2,1009.3 2055.8,1025.8 2060.5,1025.8 2065.1,1009.3 2069.8,1025.8 2074.4,1009.3 2078.9,1009.3" stroke="#ef2413" stroke-width="3.8" stroke-linejoin="round"/>
<polyline points="1225.8,888.2 1227.3,885.9 1228.8,883.9 1230.3,882.1 1231.8,880.5 1233.3,879.3 1234.8,878.3 1236.3,877.5 1237.8,877.1 1239.3,876.9 1240.8,877.0 1242.3,877.3 1243.8,878.0 1245.3,878.9 1246.8,880.0 1248.3,881.5 1249.8,883.2 1251.3,885.1 1252.8,887.3 1254.3,889.8 1255.8,892.5 1257.3,895.4 1258.8,898.6 1260.3,902.0 1261.9,905.7 1263.4,909.5 1264.9,913.6 1266.4,917.9 1267.9,922.3 1269.4,927.0 1270.9,931.8 1272.4,936.8 1273.9,941.9 1275.4,947.2 1276.9,952.6 1278.4,958.1 1279.9,963.8 1281.4,969.6 1282.9,975.4 1284.4,981.4 1285.9,987.4 1287.4,993.4 1288.9,999.5 1290.4,1005.7 1291.9,1011.9 1293.4,1018.0 1294.9,1024.2 1296.4,1030.4 1297.9,1036.5 1299.4,1042.6 1300.9,1048.7 1302.4,1054.7 1303.9,1060.6 1305.4,1066.4 1306.9,1072.2 1308.4,1077.8 1309.9,1083.3 1311.4,1088.7 1312.9,1094.0 1314.4,1099.1 1315.9,1104.1 1317.4,1108.8 1318.9,1113.4 1320.4,1117.9 1321.9,1122.1 1323.4,1126.1 1324.9,1129.9 1326.4,1133.5 1327.9,1136.9 1329.4,1140.0 1330.9,1142.9 1332.4,1145.6 1334.0,1148.0 1335.5,1150.2 1337.0,1152.1 1338.5,1153.7 1340.0,1155.1 1341.5,1156.2 1343.0,1157.1 1344.5,1157.6 1346.0,1157.9 1347.5,1158.0 1349.0,1157.7 1350.5,1157.2 1352.0,1156.5 1353.5,1155.4 1355.0,1154.1 1356.5,1152.5 1358.0,1150.7 1359.5,1148.6 1361.0,1146.2 1362.5,1143.6 1364.0,1140.8 1365.5,1137.7 1367.0,1134.4 1368.5,1130.8 1370.0,1127.1 1371.5,1123.1 1373.0,1118.9 1374.5,1114.5 1376.0,1110.0 1377.5,1105.2 1379.0,1100.3 1380.5,1095.2 1382.0,1090.0 1383.5,1084.7 1385.0,1079.2 1386.5,1073.6 1388.0,1067.8 1389.5,1062.0 1391.0,1056.1 1392.5,1050.1 1394.0,1044.1 1395.5,1038.0 1397.0,1031.9 1398.5,1025.7 1400.0,1019.5 1401.5,1013.4 1403.0,1007.2 1404.6,1001.0 1406.1,994.9 1407.6,988.8 1409.1,982.8 1410.6,976.9 1412.1,971.0 1413.6,965.2 1415.1,959.5 1416.6,953.9 1418.1,948.5 1419.6,943.2 1421.1,938.0 1422.6,933.0 1424.1,928.1 1425.6,923.4 1427.1,918.9 1428.6,914.6 1430.1,910.5 1431.6,906.6 1433.1,902.9 1434.6,899.4 1436.1,896.2 1437.6,893.2 1439.1,890.4 1440.6,887.9 1442.1,885.6 1443.6,883.6 1445.1,881.9 1446.6,880.4 1448.1,879.1 1449.6,878.2 1451.1,877.5 1452.6,877.1 1454.1,876.9 1455.6,877.0 1457.1,877.4 1458.6,878.1 1460.1,879.0 1461.6,880.2 1463.1,881.7 1464.6,883.4 1466.1,885.4 1467.6,887.6 1469.1,890.1 1470.6,892.9 1472.1,895.9 1473.6,899.1 1475.1,902.5 1476.7,906.2 1478.2,910.1 1479.7,914.2 1481.2,918.5 1482.7,922.9 1484.2,927.6 1485.7,932.4 1487.2,937.4 1488.7,942.6 1490.2,947.9 1491.7,953.3 1493.2,958.9 1494.7,964.6 1496.2,970.3 1497.7,976.2 1499.2,982.2 1500.7,988.2 1502.2,994.3 1503.7,1000.4 1505.2,1006.5 1506.7,1012.7 1508.2,1018.9 1509.7,1025.0 1511.2,1031.2 1512.7,1037.3 1514.2,1043.4 1515.7,1049.5 1517.2,1055.5 1518.7,1061.4 1520.2,1067.2 1521.7,1072.9 1523.2,1078.6 1524.7,1084.1 1526.2,1089.5 1527.7,1094.7 1529.2,1099.8 1530.7,1104.7 1532.2,1109.5 1533.7,1114.0 1535.2,1118.4 1536.7,1122.6 1538.2,1126.6 1539.7,1130.4 1541.2,1134.0 1542.7,1137.3 1544.2,1140.4 1545.7,1143.3 1547.2,1145.9 1548.8,1148.3 1550.3,1150.4 1551.8,1152.3 1553.3,1153.9 1554.8,1155.3 1556.3,1156.4 1557.8,1157.2 1559.3,1157.7 1560.8,1158.0 1562.3,1158.0 1563.8,1157.7 1565.3,1157.1 1566.8,1156.3 1568.3,1155.2 1569.8,1153.9 1571.3,1152.3 1572.8,1150.4 1574.3,1148.3 1575.8,1145.9 1577.3,1143.2 1578.8,1140.4 1580.3,1137.2 1581.8,1133.9 1583.3,1130.3 1584.8,1126.5 1586.3,1122.5 1587.8,1118.3 1589.3,1113.9 1590.8,1109.3 1592.3,1104.6 1593.8,1099.6 1595.3,1094.6 1596.8,1089.3 1598.3,1083.9 1599.8,1078.4 1601.3,1072.8 1602.8,1067.1 1604.3,1061.2 1605.8,1055.3 1607.3,1049.3 1608.8,1043.3 1610.3,1037.2 1611.8,1031.0 1613.3,1024.9 1614.8,1018.7 1616.3,1012.5 1617.8,1006.4 1619.4,1000.2 1620.9,994.1 1622.4,988.0 1623.9,982.0 1625.4,976.1 1626.9,970.2 1628.4,964.4 1629.9,958.8 1631.4,953.2 1632.9,947.8 1634.4,942.5 1635.9,937.3 1637.4,932.3 1638.9,927.5 1640.4,922.8 1641.9,918.3 1643.4,914.1 1644.9,910.0 1646.4,906.1 1647.9,902.4 1649.4,899.0 1650.9,895.8 1652.4,892.8 1653.9,890.1 1655.4,887.6 1656.9,885.3 1658.4,883.4 1659.9,881.6 1661.4,880.2 1662.9,879.0 1664.4,878.1 1665.9,877.4 1667.4,877.0 1668.9,876.9 1670.4,877.1 1671.9,877.5 1673.4,878.2 1674.9,879.2 1676.4,880.4 1677.9,881.9 1679.4,883.7 1680.9,885.7 1682.4,888.0 1683.9,890.5 1685.4,893.3 1686.9,896.3 1688.4,899.5 1689.9,903.0 1691.5,906.7 1693.0,910.6 1694.5,914.7 1696.0,919.0 1697.5,923.5 1699.0,928.2 1700.5,933.1 1702.0,938.1 1703.5,943.3 1705.0,948.6 1706.5,954.1 1708.0,959.6 1709.5,965.3 1711.0,971.1 1712.5,977.0 1714.0,983.0 1715.5,989.0 1717.0,995.1 1718.5,1001.2 1720.0,1007.3 1721.5,1013.5 1723.0,1019.7 1724.5,1025.9 1726.0,1032.0 1727.5,1038.2 1729.0,1044.3 1730.5,1050.3 1732.0,1056.3 1733.5,1062.2 1735.0,1068.0 1736.5,1073.7 1738.0,1079.3 1739.5,1084.8 1741.0,1090.2 1742.5,1095.4 1744.0,1100.4 1745.5,1105.4 1747.0,1110.1 1748.5,1114.6 1750.0,1119.0 1751.5,1123.2 1753.0,1127.2 1754.5,1130.9 1756.0,1134.5 1757.5,1137.8 1759.0,1140.8 1760.5,1143.7 1762.1,1146.3 1763.6,1148.6 1765.1,1150.7 1766.6,1152.5 1768.1,1154.1 1769.6,1155.4 1771.1,1156.5 1772.6,1157.2 1774.1,1157.8 1775.6,1158.0 1777.1,1157.9 1778.6,1157.6 1780.1,1157.0 1781.6,1156.2 1783.1,1155.1 1784.6,1153.7 1786.1,1152.0 1787.6,1150.1 1789.1,1148.0 1790.6,1145.5 1792.1,1142.9 1793.6,1140.0 1795.1,1136.8 1796.6,1133.4 1798.1,1129.8 1799.6,1126.0 1801.1,1122.0 1802.6,1117.8 1804.1,1113.3 1805.6,1108.7 1807.1,1103.9 1808.6,1099.0 1810.1,1093.9 1811.6,1088.6 1813.1,1083.2 1814.6,1077.7 1816.1,1072.0 1817.6,1066.3 1819.1,1060.5 1820.6,1054.5 1822.1,1048.5 1823.6,1042.5 1825.1,1036.4 1826.6,1030.2 1828.1,1024.1 1829.6,1017.9 1831.1,1011.7 1832.6,1005.5 1834.2,999.4 1835.7,993.3 1837.2,987.2 1838.7,981.2 1840.2,975.3 1841.7,969.4 1843.2,963.7 1844.7,958.0 1846.2,952.5 1847.7,947.0 1849.2,941.8 1850.7,936.6 1852.2,931.7 1853.7,926.8 1855.2,922.2 1856.7,917.8 1858.2,913.5 1859.7,909.4 1861.2,905.6 1862.7,902.0 1864.2,898.5 1865.7,895.4 1867.2,892.4 1868.7,889.7 1870.2,887.3 1871.7,885.1 1873.2,883.1 1874.7,881.4 1876.2,880.0 1877.7,878.8 1879.2,878.0 1880.7,877.3 1882.2,877.0 1883.7,876.9 1885.2,877.1 1886.7,877.6 1888.2,878.3 1889.7,879.3 1891.2,880.6 1892.7,882.1 1894.2,883.9 1895.7,886.0 1897.2,888.3 1898.7,890.8 1900.2,893.6 1901.7,896.7 1903.2,900.0 1904.7,903.5 1906.3,907.2 1907.8,911.1 1909.3,915.3 1910.8,919.6 1912.3,924.2 1913.8,928.9 1915.3,933.8 1916.8,938.8 1918.3,944.0 1919.8,949.3 1921.3,954.8 1922.8,960.4 1924.3,966.1 1925.8,971.9 1927.3,977.8 1928.8,983.8 1930.3,989.8 1931.8,995.9 1933.3,1002.0 1934.8,1008.2 1936.3,1014.3 1937.8,1020.5 1939.3,1026.7 1940.8,1032.9 1942.3,1039.0 1943.8,1045.1 1945.3,1051.1 1946.8,1057.1 1948.3,1063.0 1949.8,1068.8 1951.3,1074.5 1952.8,1080.1 1954.3,1085.5 1955.8,1090.9 1957.3,1096.1 1958.8,1101.1 1960.3,1106.0 1961.8,1110.7 1963.3,1115.2 1964.8,1119.6 1966.3,1123.7 1967.8,1127.7 1969.3,1131.4 1970.8,1134.9 1972.3,1138.2 1973.8,1141.2 1975.3,1144.0 1976.9,1146.6 1978.4,1148.9 1979.9,1151.0 1981.4,1152.8 1982.9,1154.3 1984.4,1155.6 1985.9,1156.6 1987.4,1157.3 1988.9,1157.8 1990.4,1158.0 1991.9,1157.9 1993.4,1157.6 1994.9,1157.0 1996.4,1156.1 1997.9,1154.9 1999.4,1153.5 2000.9,1151.8 2002.4,1149.9 2003.9,1147.7 2005.4,1145.2 2006.9,1142.5 2008.4,1139.6 2009.9,1136.4 2011.4,1133.0 2012.9,1129.3 2014.4,1125.5 2015.9,1121.4 2017.4,1117.2 2018.9,1112.7 2020.4,1108.1 2021.9,1103.3 2023.4,1098.3 2024.9,1093.2 2026.4,1087.9 2027.9,1082.5 2029.4,1076.9 2030.9,1071.3 2032.4,1065.5 2033.9,1059.7 2035.4,1053.7 2036.9,1047.7 2038.4,1041.7 2039.9,1035.6 2041.4,1029.4 2042.9,1023.2 2044.4,1017.1 2045.9,1010.9 2047.4,1004.7 2049.0,998.6 2050.5,992.5 2052.0,986.4 2053.5,980.4 2055.0,974.5 2056.5,968.6 2058.0,962.9 2059.5,957.3 2061.0,951.7 2062.5,946.3 2064.0,941.1 2065.5,936.0 2067.0,931.0 2068.5,926.2 2070.0,921.6 2071.5,917.2 2073.0,912.9 2074.5,908.9 2076.0,905.1 2077.5,901.5 2079.0,898.1 2080.5,895.0 2082.0,892.0 2083.5,889.4" stroke="#3f5ba9" stroke-width="5.9" stroke-dasharray="22 6.2 11 6.2" stroke-linejoin="round"/>
</g>
<rect x="1907.70" y="888.90" width="159.90" height="72.00" fill="#fff" stroke="#303030" stroke-width="1.2"/>
<line x1="1913.30" y1="908.10" x2="1969.90" y2="908.10" stroke="#ef2413" stroke-width="3.8"/>
<line x1="1913.30" y1="942.00" x2="1969.90" y2="942.00" stroke="#3f5ba9" stroke-width="5.9" stroke-dasharray="22 6.2 11 6.2"/>
<text transform="translate(1974.90,915.10)" fill="#000"><tspan x="0.5 21.6 37.4 47.1 62.1 77.9" y="0" font-size="27.81">Output</tspan></text>
<text transform="translate(1974.90,948.60)" fill="#000"><tspan x="0.2 10.3 25.3 40.3 56.2" y="0" font-size="27.81">Input</tspan></text>
</g>
<g id="top-e">
<path d="M140.8 1700.7V1981.1M165.7 1700.7V1981.1M215.3 1700.7V1981.1M240.2 1700.7V1981.1M265 1700.7V1981.1M289.9 1700.7V1981.1M339.5 1700.7V1981.1M364.4 1700.7V1981.1M389.2 1700.7V1981.1M414.1 1700.7V1981.1M463.7 1700.7V1981.1M488.6 1700.7V1981.1M513.4 1700.7V1981.1M538.3 1700.7V1981.1M587.9 1700.7V1981.1M612.8 1700.7V1981.1M637.6 1700.7V1981.1M662.5 1700.7V1981.1M712.1 1700.7V1981.1M737 1700.7V1981.1M761.8 1700.7V1981.1M786.7 1700.7V1981.1M836.3 1700.7V1981.1M861.2 1700.7V1981.1M886 1700.7V1981.1M910.9 1700.7V1981.1M960.5 1700.7V1981.1M118.6 1708.5H976.3M118.6 1724.5H976.3M118.6 1756.7H976.3M118.6 1772.7H976.3M118.6 1788.8H976.3M118.6 1804.9H976.3M118.6 1837H976.3M118.6 1853.1H976.3M118.6 1869.2H976.3M118.6 1885.2H976.3M118.6 1917.4H976.3M118.6 1933.4H976.3M118.6 1949.5H976.3M118.6 1965.6H976.3" fill="none" stroke="#cbcbcb" stroke-width="1.3" stroke-dasharray="1.3 4.4"/>
<path d="M190.5 1700.7V1981.1M314.7 1700.7V1981.1M438.9 1700.7V1981.1M563.1 1700.7V1981.1M687.3 1700.7V1981.1M811.5 1700.7V1981.1M935.7 1700.7V1981.1M118.6 1901.3H976.3M118.6 1821H976.3M118.6 1740.6H976.3" fill="none" stroke="#dcdcdc" stroke-width="1.4"/>
<path d="M190.5 1981.1V1972.2M190.5 1700.7V1709.6M314.7 1981.1V1972.2M314.7 1700.7V1709.6M438.9 1981.1V1972.2M438.9 1700.7V1709.6M563.1 1981.1V1972.2M563.1 1700.7V1709.6M687.3 1981.1V1972.2M687.3 1700.7V1709.6M811.5 1981.1V1972.2M811.5 1700.7V1709.6M935.7 1981.1V1972.2M935.7 1700.7V1709.6M140.8 1981.1V1976M140.8 1700.7V1705.8M165.7 1981.1V1976M165.7 1700.7V1705.8M215.3 1981.1V1976M215.3 1700.7V1705.8M240.2 1981.1V1976M240.2 1700.7V1705.8M265 1981.1V1976M265 1700.7V1705.8M289.9 1981.1V1976M289.9 1700.7V1705.8M339.5 1981.1V1976M339.5 1700.7V1705.8M364.4 1981.1V1976M364.4 1700.7V1705.8M389.2 1981.1V1976M389.2 1700.7V1705.8M414.1 1981.1V1976M414.1 1700.7V1705.8M463.7 1981.1V1976M463.7 1700.7V1705.8M488.6 1981.1V1976M488.6 1700.7V1705.8M513.4 1981.1V1976M513.4 1700.7V1705.8M538.3 1981.1V1976M538.3 1700.7V1705.8M587.9 1981.1V1976M587.9 1700.7V1705.8M612.8 1981.1V1976M612.8 1700.7V1705.8M637.6 1981.1V1976M637.6 1700.7V1705.8M662.5 1981.1V1976M662.5 1700.7V1705.8M712.1 1981.1V1976M712.1 1700.7V1705.8M737 1981.1V1976M737 1700.7V1705.8M761.8 1981.1V1976M761.8 1700.7V1705.8M786.7 1981.1V1976M786.7 1700.7V1705.8M836.3 1981.1V1976M836.3 1700.7V1705.8M861.2 1981.1V1976M861.2 1700.7V1705.8M886 1981.1V1976M886 1700.7V1705.8M910.9 1981.1V1976M910.9 1700.7V1705.8M960.5 1981.1V1976M960.5 1700.7V1705.8M118.6 1901.3H127.5M118.6 1821H127.5M118.6 1740.6H127.5M118.6 1708.5H123.7M118.6 1724.5H123.7M118.6 1756.7H123.7M118.6 1772.7H123.7M118.6 1788.8H123.7M118.6 1804.9H123.7M118.6 1837H123.7M118.6 1853.1H123.7M118.6 1869.2H123.7M118.6 1885.2H123.7M118.6 1917.4H123.7M118.6 1933.4H123.7M118.6 1949.5H123.7M118.6 1965.6H123.7M976.3 1952H967.4M976.3 1881.5H967.4M976.3 1811.1H967.4M976.3 1740.7H967.4" fill="none" stroke="#303030" stroke-width="1.05"/>
<rect x="118.60" y="1700.70" width="857.70" height="280.40" fill="none" stroke="#303030" stroke-width="1.2"/>
<text transform="translate(190.50,2017.00)" fill="#000"><tspan x="-26.8 -11.3 -3.5 11.5" y="0" font-size="30.58">0.55</tspan></text>
<text transform="translate(314.70,2017.00)" fill="#000"><tspan x="-19.3 -3.8 4" y="0" font-size="30.58">0.6</tspan></text>
<text transform="translate(438.90,2017.00)" fill="#000"><tspan x="-26.8 -11.3 -3.5 11.5" y="0" font-size="30.58">0.65</tspan></text>
<text transform="translate(563.10,2017.00)" fill="#000"><tspan x="-19.3 -3.8 4" y="0" font-size="30.58">0.7</tspan></text>
<text transform="translate(687.30,2017.00)" fill="#000"><tspan x="-26.8 -11.3 -3.5 11.5" y="0" font-size="30.58">0.75</tspan></text>
<text transform="translate(811.50,2017.00)" fill="#000"><tspan x="-19.3 -3.8 4" y="0" font-size="30.58">0.8</tspan></text>
<text transform="translate(935.70,2017.00)" fill="#000"><tspan x="-26.8 -11.3 -3.5 11.5" y="0" font-size="30.58">0.85</tspan></text>
<text transform="translate(108.00,1909.30)" fill="#000"><tspan x="-38.5 -23 -15.1" y="0" font-size="30.58">0.5</tspan></text>
<text transform="translate(108.00,1828.95)" fill="#000"><tspan x="-53.5 -38 -30.1 -15.1" y="0" font-size="30.58">0.51</tspan></text>
<text transform="translate(108.00,1748.60)" fill="#000"><tspan x="-53.5 -38 -30.1 -15.1" y="0" font-size="30.58">0.52</tspan></text>
<text transform="translate(985.90,1960.00)" fill="#000"><tspan x="-0.1 9.8" y="0" font-size="30.58">-2</tspan></text>
<text transform="translate(985.90,1889.55)" fill="#000"><tspan x="-0.1" y="0" font-size="30.58">0</tspan></text>
<text transform="translate(985.90,1819.10)" fill="#000"><tspan x="-0.1" y="0" font-size="30.58">2</tspan></text>
<text transform="translate(985.90,1748.65)" fill="#000"><tspan x="-0.1" y="0" font-size="30.58">4</tspan></text>
<text transform="translate(547.45,1681.80)" fill="#000"><tspan x="-166.6 -136.2 -111.9 -91.7" y="0" font-size="33.99">MAST</tspan><tspan x="-69.3" y="0" font-size="32.51">-</tspan><tspan x="-58.3 -33.7" y="0" font-size="33.99">U </tspan><tspan x="-19.7" y="1" font-size="42.9">#</tspan><tspan x="4.9 21.4 37.9 54.4 70.9 87.3" y="0" font-size="32.51">47118 </tspan><tspan x="98 116.7 141.7" y="0" font-size="33.99">SXD</tspan></text>
<text transform="translate(547.45,2057.40)" fill="#000"><tspan x="-57.2 -35.1 -25.2 1.5 16.4" y="0" font-size="33.99">Time </tspan><tspan x="25.7" y="2.3" font-size="37.95">[</tspan><tspan x="36.5" y="0" font-size="33.99">s</tspan><tspan x="47.8" y="2.3" font-size="37.95">]</tspan></text>
<text transform="translate(976.60,1683.80)" fill="#000"><tspan x="1.5" y="1.5" font-size="36">×</tspan><tspan x="23.5 38.5" y="0" font-size="29.55">10</tspan><tspan x="54 65.2" y="-10.8" font-size="19.86">21</tspan></text>
<text transform="translate(38.30,1840.90) rotate(-90)" fill="#000"><tspan x="-54.6" y="0" font-size="33.99">L</tspan><tspan x="-32.6 -23.7 -11.3 -2.3" y="6.6" font-size="25.13">tar </tspan><tspan x="7" y="2.3" font-size="37.95">[</tspan><tspan x="18.4" y="0" font-size="33.99">m</tspan><tspan x="43.7" y="2.3" font-size="37.95">]</tspan></text>
<text transform="translate(1044.80,1840.90) rotate(-90)" fill="#000"><tspan x="-99.6 -79.5 -70.5 -54.1 -29.1 -16.3 1.2 12.2 27" y="0" font-size="33.99">Flowrate </tspan><tspan x="36.3" y="2.3" font-size="37.95">[</tspan><tspan x="47.1" y="0" font-size="33.99">s</tspan><tspan x="62.3" y="-10.7" font-size="26.61">−</tspan><tspan x="80.1" y="-11.9" font-size="21.84">1</tspan><tspan x="90" y="2.3" font-size="37.95">]</tspan></text>
<clipPath id="c5"><rect x="118.60" y="1700.70" width="857.70" height="280.40"/></clipPath>
<g clip-path="url(#c5)" fill="none">
<polyline points="118.6,1861.2 124.9,1821.0 131.0,1740.6 137.4,1780.8 143.5,1821.0 149.8,1821.0 156.0,1821.0 162.3,1821.0 168.4,1861.2 174.7,1861.2 180.9,1861.2 187.2,1821.0 193.3,1821.0 199.6,1901.3 206.3,1861.2 212.9,1780.8 218.7,1780.8 224.9,1861.2 231.2,1780.8 237.0,1821.0 243.1,1780.8 249.4,1861.2 256.1,1861.2 262.2,1901.3 268.2,1821.0 274.3,1901.3 280.6,1861.2 318.3,1861.2 324.5,1821.0 330.8,1821.0 336.9,1901.3 342.9,1861.2 349.0,1901.3 355.7,1901.3 361.5,1861.2 373.9,1981.7 380.6,1901.3 386.4,1901.3 392.5,1901.3 398.6,1861.2 404.9,1861.2 411.1,1861.2 417.4,1861.2 423.7,1780.8 429.8,1821.0 436.0,1780.8 442.3,1780.8 448.4,1821.0 454.8,1780.8 460.9,1821.0 467.2,1861.2 473.3,1861.2 479.7,1821.0 485.8,1752.7 491.6,1780.8 497.9,1740.6 504.6,1740.6 510.7,1700.4 517.0,1740.6 523.2,1740.6 529.5,1740.6 535.6,1740.6 541.9,1740.6 548.1,1861.2 554.4,1861.2 560.5,1780.8 566.8,1780.8 573.0,1821.0 579.3,1821.0 585.4,1821.0 591.7,1861.2 597.9,1780.8 604.2,1861.2 610.3,1821.0 616.6,1821.0 622.8,1780.8 629.1,1821.0 635.2,1821.0 647.7,1901.3 654.0,1901.3 660.1,1861.2 666.4,1861.2 672.6,1861.2 678.9,1861.2 684.5,1901.3 709.4,1740.6 715.7,1780.8 721.8,1780.8 728.1,1780.8 737.3,1821.0 743.4,1821.0 749.7,1821.0 753.1,1821.0 759.2,1740.6 765.5,1780.8 771.3,1752.7 778.0,1780.8 788.7,1700.4 796.2,1740.6 802.4,1821.0 808.7,1821.0 814.8,1740.6 821.1,1861.2 827.3,1740.6 833.6,1740.6 840.2,1821.0 846.0,1861.2 852.7,1821.0 858.5,1821.0 864.6,1901.3 870.9,1821.0 877.1,1861.2 883.4,1861.2 902.0,1861.2 908.3,1821.0 914.4,1861.2 933.2,1861.2 939.0,1901.3 945.6,1861.2 951.8,1861.2 957.6,1901.3 964.2,1901.3 970.6,1861.2" stroke="#ef2413" stroke-width="3.8" stroke-linejoin="round"/>
<polyline points="118.6,1726.1 120.1,1719.7 121.6,1714.3 123.1,1709.7 124.6,1706.1 126.1,1703.4 127.6,1701.6 129.1,1700.8 130.6,1700.9 132.1,1701.8 133.6,1703.7 135.1,1706.4 136.6,1709.8 138.1,1714.0 139.6,1718.9 141.1,1724.4 142.6,1730.4 144.1,1736.8 145.6,1743.7 147.1,1750.8 148.6,1758.2 150.1,1765.7 151.6,1773.2 153.1,1780.7 154.7,1788.1 156.2,1795.2 157.7,1802.1 159.2,1808.6 160.7,1814.7 162.2,1820.2 163.7,1825.2 165.2,1829.6 166.7,1833.3 168.2,1836.3 169.7,1838.6 171.2,1840.1 172.7,1840.8 174.2,1840.8 175.7,1839.9 177.2,1838.3 178.7,1835.9 180.2,1832.8 181.7,1828.9 183.2,1824.4 184.7,1819.3 186.2,1813.7 187.7,1807.5 189.2,1801.0 190.7,1794.0 192.2,1786.8 193.7,1779.4 195.2,1771.9 196.7,1764.4 198.2,1756.9 199.7,1749.6 201.2,1742.5 202.7,1735.7 204.2,1729.3 205.7,1723.4 207.2,1718.0 208.7,1713.3 210.2,1709.2 211.7,1705.9 213.2,1703.3 214.7,1701.6 216.2,1700.8 217.7,1700.9 219.2,1701.8 220.7,1703.8 222.2,1706.6 223.7,1710.4 225.2,1715.1 226.8,1720.8 228.3,1727.2 229.8,1734.5 231.3,1742.6 232.8,1751.4 234.3,1760.9 235.8,1771.0 237.3,1781.5 238.8,1792.6 240.3,1804.0 241.8,1815.7 243.3,1827.5 244.8,1839.5 246.3,1851.5 247.8,1863.4 249.3,1875.1 250.8,1886.6 252.3,1897.7 253.8,1908.4 255.3,1918.6 256.8,1928.3 258.3,1937.2 259.8,1945.5 261.3,1953.0 262.8,1959.6 264.3,1965.4 265.8,1970.4 267.3,1974.4 268.8,1977.5 270.3,1979.6 271.8,1980.8 273.3,1981.1 274.8,1980.5 276.3,1978.9 277.8,1976.6 279.3,1973.4 280.8,1969.5 282.3,1964.9 283.8,1959.7 285.3,1953.9 286.8,1947.6 288.3,1940.9 289.8,1933.9 291.3,1926.6 292.8,1919.1 294.3,1911.6 295.8,1904.1 297.4,1896.7 298.9,1889.4 300.4,1882.4 301.9,1875.7 303.4,1869.5 304.9,1863.7 306.4,1858.5 307.9,1853.9 309.4,1849.9 310.9,1846.6 312.4,1844.0 313.9,1842.2 315.4,1841.2 316.9,1840.9 318.4,1841.5 319.9,1842.8 321.4,1844.9 322.9,1847.7 324.4,1851.3 325.9,1855.5 327.4,1860.4 328.9,1865.8 330.4,1871.8 331.9,1878.2 333.4,1885.0 334.9,1892.1 336.4,1899.4 337.9,1906.8 339.4,1914.4 340.9,1921.9 342.4,1929.3 343.9,1936.5 345.4,1943.4 346.9,1950.0 348.4,1956.1 349.9,1961.7 351.4,1966.7 352.9,1971.1 354.4,1974.7 355.9,1977.6 357.4,1979.6 358.9,1980.8 360.4,1981.1 361.9,1980.5 363.4,1978.9 364.9,1976.4 366.4,1973.0 367.9,1968.7 369.5,1963.4 371.0,1957.3 372.5,1950.3 374.0,1942.5 375.5,1934.0 377.0,1924.8 378.5,1914.9 380.0,1904.5 381.5,1893.7 383.0,1882.4 384.5,1870.8 386.0,1859.0 387.5,1847.1 389.0,1835.1 390.5,1823.1 392.0,1811.3 393.5,1799.7 395.0,1788.5 396.5,1777.6 398.0,1767.2 399.5,1757.3 401.0,1748.1 402.5,1739.5 404.0,1731.7 405.5,1724.7 407.0,1718.6 408.5,1713.3 410.0,1708.9 411.5,1705.5 413.0,1702.9 414.5,1701.4 416.0,1700.7 417.5,1701.0 419.0,1702.1 420.5,1704.2 422.0,1707.0 423.5,1710.6 425.0,1714.9 426.5,1719.9 428.0,1725.5 429.5,1731.6 431.0,1738.2 432.5,1745.1 434.0,1752.3 435.5,1759.7 437.0,1767.2 438.5,1774.7 440.0,1782.2 441.6,1789.5 443.1,1796.6 444.6,1803.4 446.1,1809.9 447.6,1815.8 449.1,1821.3 450.6,1826.2 452.1,1830.4 453.6,1834.0 455.1,1836.9 456.6,1839.0 458.1,1840.3 459.6,1840.9 461.1,1840.7 462.6,1839.6 464.1,1837.9 465.6,1835.3 467.1,1832.0 468.6,1828.1 470.1,1823.5 471.6,1818.2 473.1,1812.5 474.6,1806.3 476.1,1799.6 477.6,1792.6 479.1,1785.4 480.6,1777.9 482.1,1770.4 483.6,1762.9 485.1,1755.4 486.6,1748.2 488.1,1741.1 489.6,1734.4 491.1,1728.1 492.6,1722.3 494.1,1717.0 495.6,1712.4 497.1,1708.5 498.6,1705.3 500.1,1702.9 501.6,1701.4 503.1,1700.7 504.6,1701.0 506.1,1702.2 507.6,1704.3 509.1,1707.3 510.6,1711.3 512.2,1716.2 513.7,1722.0 515.2,1728.6 516.7,1736.1 518.2,1744.3 519.7,1753.3 521.2,1762.9 522.7,1773.0 524.2,1783.7 525.7,1794.8 527.2,1806.3 528.7,1818.0 530.2,1829.9 531.7,1841.9 533.2,1853.9 534.7,1865.8 536.2,1877.5 537.7,1888.9 539.2,1899.9 540.7,1910.5 542.2,1920.6 543.7,1930.1 545.2,1938.9 546.7,1947.0 548.2,1954.4 549.7,1960.9 551.2,1966.5 552.7,1971.2 554.2,1975.1 555.7,1978.0 557.2,1979.9 558.7,1980.9 560.2,1981.0 561.7,1980.2 563.2,1978.5 564.7,1976.0 566.2,1972.7 567.7,1968.7 569.2,1963.9 570.7,1958.6 572.2,1952.7 573.7,1946.3 575.2,1939.5 576.7,1932.4 578.2,1925.1 579.7,1917.6 581.2,1910.1 582.7,1902.6 584.3,1895.2 585.8,1888.0 587.3,1881.0 588.8,1874.5 590.3,1868.3 591.8,1862.6 593.3,1857.5 594.8,1853.0 596.3,1849.2 597.8,1846.0 599.3,1843.6 600.8,1841.9 602.3,1841.0 603.8,1841.0 605.3,1841.7 606.8,1843.1 608.3,1845.4 609.8,1848.4 611.3,1852.1 612.8,1856.4 614.3,1861.4 615.8,1866.9 617.3,1873.0 618.8,1879.5 620.3,1886.4 621.8,1893.5 623.3,1900.9 624.8,1908.4 626.3,1915.9 627.8,1923.4 629.3,1930.8 630.8,1937.9 632.3,1944.8 633.8,1951.2 635.3,1957.3 636.8,1962.8 638.3,1967.6 639.8,1971.9 641.3,1975.3 642.8,1978.0 644.3,1979.9 645.8,1980.9 647.3,1981.0 648.8,1980.2 650.3,1978.5 651.8,1975.8 653.3,1972.2 654.9,1967.7 656.4,1962.2 657.9,1955.9 659.4,1948.8 660.9,1940.9 662.4,1932.2 663.9,1922.8 665.4,1912.9 666.9,1902.4 668.4,1891.4 669.9,1880.1 671.4,1868.5 672.9,1856.6 674.4,1844.7 675.9,1832.7 677.4,1820.8 678.9,1809.0 680.4,1797.4 681.9,1786.2 683.4,1775.4 684.9,1765.1 686.4,1755.4 687.9,1746.3 689.4,1737.9 690.9,1730.3 692.4,1723.4 693.9,1717.4 695.4,1712.3 696.9,1708.2 698.4,1704.9 699.9,1702.6 701.4,1701.2 702.9,1700.7 704.4,1701.1 705.9,1702.5 707.4,1704.7 708.9,1707.7 710.4,1711.4 711.9,1715.9 713.4,1721.0 714.9,1726.7 716.4,1732.9 717.9,1739.5 719.4,1746.5 720.9,1753.8 722.4,1761.2 723.9,1768.7 725.4,1776.2 727.0,1783.7 728.5,1791.0 730.0,1798.0 731.5,1804.8 733.0,1811.1 734.5,1817.0 736.0,1822.3 737.5,1827.1 739.0,1831.2 740.5,1834.6 742.0,1837.3 743.5,1839.3 745.0,1840.5 746.5,1840.9 748.0,1840.5 749.5,1839.3 751.0,1837.4 752.5,1834.7 754.0,1831.3 755.5,1827.2 757.0,1822.5 758.5,1817.1 760.0,1811.3 761.5,1804.9 763.0,1798.2 764.5,1791.2 766.0,1783.9 767.5,1776.4 769.0,1768.9 770.5,1761.4 772.0,1754.0 773.5,1746.7 775.0,1739.7 776.5,1733.1 778.0,1726.9 779.5,1721.2 781.0,1716.0 782.5,1711.5 784.0,1707.8 785.5,1704.7 787.0,1702.5 788.5,1701.2 790.0,1700.7 791.5,1701.1 793.0,1702.5 794.5,1704.8 796.0,1708.0 797.5,1712.2 799.1,1717.3 800.6,1723.2 802.1,1730.1 803.6,1737.7 805.1,1746.1 806.6,1755.1 808.1,1764.9 809.6,1775.1 811.1,1785.9 812.6,1797.1 814.1,1808.6 815.6,1820.4 817.1,1832.3 818.6,1844.3 820.1,1856.3 821.6,1868.1 823.1,1879.8 824.6,1891.1 826.1,1902.1 827.6,1912.6 829.1,1922.6 830.6,1931.9 832.1,1940.6 833.6,1948.6 835.1,1955.7 836.6,1962.1 838.1,1967.5 839.6,1972.1 841.1,1975.7 842.6,1978.4 844.1,1980.2 845.6,1981.0 847.1,1980.9 848.6,1980.0 850.1,1978.1 851.6,1975.4 853.1,1972.0 854.6,1967.8 856.1,1962.9 857.6,1957.4 859.1,1951.4 860.6,1945.0 862.1,1938.1 863.6,1931.0 865.1,1923.6 866.6,1916.1 868.1,1908.6 869.7,1901.1 871.2,1893.7 872.7,1886.6 874.2,1879.7 875.7,1873.2 877.2,1867.1 878.7,1861.6 880.2,1856.6 881.7,1852.2 883.2,1848.5 884.7,1845.5 886.2,1843.2 887.7,1841.7 889.2,1841.0 890.7,1841.0 892.2,1841.9 893.7,1843.5 895.2,1845.9 896.7,1849.1 898.2,1852.9 899.7,1857.4 901.2,1862.5 902.7,1868.1 904.2,1874.3 905.7,1880.8 907.2,1887.8 908.7,1895.0 910.2,1902.4 911.7,1909.9 913.2,1917.4 914.7,1924.9 916.2,1932.2 917.7,1939.3 919.2,1946.1 920.7,1952.5 922.2,1958.4 923.7,1963.8 925.2,1968.5 926.7,1972.6 928.2,1975.9 929.7,1978.5 931.2,1980.2 932.7,1981.0 934.2,1980.9 935.7,1980.0 937.2,1978.0 938.7,1975.2 940.2,1971.4 941.8,1966.6 943.3,1961.0 944.8,1954.6 946.3,1947.3 947.8,1939.2 949.3,1930.4 950.8,1920.9 952.3,1910.8 953.8,1900.2 955.3,1889.2 956.8,1877.8 958.3,1866.1 959.8,1854.2 961.3,1842.3 962.8,1830.3 964.3,1818.4 965.8,1806.6 967.3,1795.2 968.8,1784.0 970.3,1773.3 971.8,1763.1 973.3,1753.5 974.8,1744.6 976.3,1736.3" stroke="#3f5ba9" stroke-width="5.9" stroke-dasharray="22 6.2 11 6.2" stroke-linejoin="round"/>
</g>
<rect x="800.50" y="1712.70" width="159.90" height="72.00" fill="#fff" stroke="#303030" stroke-width="1.2"/>
<line x1="806.10" y1="1731.90" x2="862.70" y2="1731.90" stroke="#ef2413" stroke-width="3.8"/>
<line x1="806.10" y1="1765.80" x2="862.70" y2="1765.80" stroke="#3f5ba9" stroke-width="5.9" stroke-dasharray="22 6.2 11 6.2"/>
<text transform="translate(867.70,1738.90)" fill="#000"><tspan x="0.5 21.6 37.4 47.1 62.1 77.9" y="0" font-size="27.81">Output</tspan></text>
<text transform="translate(867.70,1772.40)" fill="#000"><tspan x="0.2 10.3 25.3 40.3 56.2" y="0" font-size="27.81">Input</tspan></text>
</g>
<g id="top-f">
<path d="M1248.7 1700.7V1981.1M1274 1700.7V1981.1M1299.3 1700.7V1981.1M1324.7 1700.7V1981.1M1375.3 1700.7V1981.1M1400.7 1700.7V1981.1M1426 1700.7V1981.1M1451.3 1700.7V1981.1M1502 1700.7V1981.1M1527.3 1700.7V1981.1M1552.6 1700.7V1981.1M1578 1700.7V1981.1M1628.6 1700.7V1981.1M1654 1700.7V1981.1M1679.3 1700.7V1981.1M1704.6 1700.7V1981.1M1755.3 1700.7V1981.1M1780.6 1700.7V1981.1M1805.9 1700.7V1981.1M1831.3 1700.7V1981.1M1881.9 1700.7V1981.1M1907.3 1700.7V1981.1M1932.6 1700.7V1981.1M1957.9 1700.7V1981.1M2008.6 1700.7V1981.1M2033.9 1700.7V1981.1M2059.2 1700.7V1981.1M1225.8 1701.6H2083.5M1225.8 1711.6H2083.5M1225.8 1721.6H2083.5M1225.8 1741.6H2083.5M1225.8 1751.6H2083.5M1225.8 1761.6H2083.5M1225.8 1771.6H2083.5M1225.8 1791.6H2083.5M1225.8 1801.6H2083.5M1225.8 1811.6H2083.5M1225.8 1821.6H2083.5M1225.8 1841.6H2083.5M1225.8 1851.6H2083.5M1225.8 1861.6H2083.5M1225.8 1871.6H2083.5M1225.8 1891.6H2083.5M1225.8 1901.6H2083.5M1225.8 1911.6H2083.5M1225.8 1921.6H2083.5M1225.8 1941.6H2083.5M1225.8 1951.6H2083.5M1225.8 1961.6H2083.5M1225.8 1971.6H2083.5" fill="none" stroke="#cbcbcb" stroke-width="1.3" stroke-dasharray="1.3 4.4"/>
<path d="M1350 1700.7V1981.1M1476.7 1700.7V1981.1M1603.3 1700.7V1981.1M1730 1700.7V1981.1M1856.6 1700.7V1981.1M1983.2 1700.7V1981.1M1225.8 1931.6H2083.5M1225.8 1881.6H2083.5M1225.8 1831.6H2083.5M1225.8 1781.6H2083.5M1225.8 1731.6H2083.5" fill="none" stroke="#dcdcdc" stroke-width="1.4"/>
<path d="M1350 1981.1V1972.2M1350 1700.7V1709.6M1476.7 1981.1V1972.2M1476.7 1700.7V1709.6M1603.3 1981.1V1972.2M1603.3 1700.7V1709.6M1730 1981.1V1972.2M1730 1700.7V1709.6M1856.6 1981.1V1972.2M1856.6 1700.7V1709.6M1983.2 1981.1V1972.2M1983.2 1700.7V1709.6M1248.7 1981.1V1976M1248.7 1700.7V1705.8M1274 1981.1V1976M1274 1700.7V1705.8M1299.3 1981.1V1976M1299.3 1700.7V1705.8M1324.7 1981.1V1976M1324.7 1700.7V1705.8M1375.3 1981.1V1976M1375.3 1700.7V1705.8M1400.7 1981.1V1976M1400.7 1700.7V1705.8M1426 1981.1V1976M1426 1700.7V1705.8M1451.3 1981.1V1976M1451.3 1700.7V1705.8M1502 1981.1V1976M1502 1700.7V1705.8M1527.3 1981.1V1976M1527.3 1700.7V1705.8M1552.6 1981.1V1976M1552.6 1700.7V1705.8M1578 1981.1V1976M1578 1700.7V1705.8M1628.6 1981.1V1976M1628.6 1700.7V1705.8M1654 1981.1V1976M1654 1700.7V1705.8M1679.3 1981.1V1976M1679.3 1700.7V1705.8M1704.6 1981.1V1976M1704.6 1700.7V1705.8M1755.3 1981.1V1976M1755.3 1700.7V1705.8M1780.6 1981.1V1976M1780.6 1700.7V1705.8M1805.9 1981.1V1976M1805.9 1700.7V1705.8M1831.3 1981.1V1976M1831.3 1700.7V1705.8M1881.9 1981.1V1976M1881.9 1700.7V1705.8M1907.3 1981.1V1976M1907.3 1700.7V1705.8M1932.6 1981.1V1976M1932.6 1700.7V1705.8M1957.9 1981.1V1976M1957.9 1700.7V1705.8M2008.6 1981.1V1976M2008.6 1700.7V1705.8M2033.9 1981.1V1976M2033.9 1700.7V1705.8M2059.2 1981.1V1976M2059.2 1700.7V1705.8M1225.8 1931.6H1234.7M1225.8 1881.6H1234.7M1225.8 1831.6H1234.7M1225.8 1781.6H1234.7M1225.8 1731.6H1234.7M1225.8 1701.6H1230.9M1225.8 1711.6H1230.9M1225.8 1721.6H1230.9M1225.8 1741.6H1230.9M1225.8 1751.6H1230.9M1225.8 1761.6H1230.9M1225.8 1771.6H1230.9M1225.8 1791.6H1230.9M1225.8 1801.6H1230.9M1225.8 1811.6H1230.9M1225.8 1821.6H1230.9M1225.8 1841.6H1230.9M1225.8 1851.6H1230.9M1225.8 1861.6H1230.9M1225.8 1871.6H1230.9M1225.8 1891.6H1230.9M1225.8 1901.6H1230.9M1225.8 1911.6H1230.9M1225.8 1921.6H1230.9M1225.8 1941.6H1230.9M1225.8 1951.6H1230.9M1225.8 1961.6H1230.9M1225.8 1971.6H1230.9M2083.5 1952H2074.6M2083.5 1881.5H2074.6M2083.5 1811.1H2074.6M2083.5 1740.7H2074.6" fill="none" stroke="#303030" stroke-width="1.05"/>
<rect x="1225.80" y="1700.70" width="857.70" height="280.40" fill="none" stroke="#303030" stroke-width="1.2"/>
<text transform="translate(1350.00,2017.00)" fill="#000"><tspan x="-19.3 -3.8 4" y="0" font-size="30.58">0.5</tspan></text>
<text transform="translate(1476.65,2017.00)" fill="#000"><tspan x="-26.8 -11.3 -3.5 11.5" y="0" font-size="30.58">0.55</tspan></text>
<text transform="translate(1603.30,2017.00)" fill="#000"><tspan x="-19.3 -3.8 4" y="0" font-size="30.58">0.6</tspan></text>
<text transform="translate(1729.95,2017.00)" fill="#000"><tspan x="-26.8 -11.3 -3.5 11.5" y="0" font-size="30.58">0.65</tspan></text>
<text transform="translate(1856.60,2017.00)" fill="#000"><tspan x="-19.3 -3.8 4" y="0" font-size="30.58">0.7</tspan></text>
<text transform="translate(1983.25,2017.00)" fill="#000"><tspan x="-26.8 -11.3 -3.5 11.5" y="0" font-size="30.58">0.75</tspan></text>
<text transform="translate(1215.20,1939.60)" fill="#000"><tspan x="-53.5 -38 -30.1 -15.1" y="0" font-size="30.58">0.47</tspan></text>
<text transform="translate(1215.20,1889.60)" fill="#000"><tspan x="-53.5 -38 -30.1 -15.1" y="0" font-size="30.58">0.48</tspan></text>
<text transform="translate(1215.20,1839.60)" fill="#000"><tspan x="-53.5 -38 -30.1 -15.1" y="0" font-size="30.58">0.49</tspan></text>
<text transform="translate(1215.20,1789.60)" fill="#000"><tspan x="-38.5 -23 -15.1" y="0" font-size="30.58">0.5</tspan></text>
<text transform="translate(1215.20,1739.60)" fill="#000"><tspan x="-53.5 -38 -30.1 -15.1" y="0" font-size="30.58">0.51</tspan></text>
<text transform="translate(2093.10,1960.00)" fill="#000"><tspan x="-0.1 9.8" y="0" font-size="30.58">-2</tspan></text>
<text transform="translate(2093.10,1889.55)" fill="#000"><tspan x="-0.1" y="0" font-size="30.58">0</tspan></text>
<text transform="translate(2093.10,1819.10)" fill="#000"><tspan x="-0.1" y="0" font-size="30.58">2</tspan></text>
<text transform="translate(2093.10,1748.65)" fill="#000"><tspan x="-0.1" y="0" font-size="30.58">4</tspan></text>
<text transform="translate(1654.65,1681.80)" fill="#000"><tspan x="-166.6 -136.2 -111.9 -91.7" y="0" font-size="33.99">MAST</tspan><tspan x="-69.3" y="0" font-size="32.51">-</tspan><tspan x="-58.3 -33.7" y="0" font-size="33.99">U </tspan><tspan x="-19.7" y="1" font-size="42.9">#</tspan><tspan x="4.9 21.4 37.9 54.4 70.9 87.3" y="0" font-size="32.51">47119 </tspan><tspan x="98 116.7 141.7" y="0" font-size="33.99">SXD</tspan></text>
<text transform="translate(1654.65,2057.40)" fill="#000"><tspan x="-57.2 -35.1 -25.2 1.5 16.4" y="0" font-size="33.99">Time </tspan><tspan x="25.7" y="2.3" font-size="37.95">[</tspan><tspan x="36.5" y="0" font-size="33.99">s</tspan><tspan x="47.8" y="2.3" font-size="37.95">]</tspan></text>
<text transform="translate(2083.80,1683.80)" fill="#000"><tspan x="1.5" y="1.5" font-size="36">×</tspan><tspan x="23.5 38.5" y="0" font-size="29.55">10</tspan><tspan x="54 65.2" y="-10.8" font-size="19.86">21</tspan></text>
<text transform="translate(1145.50,1840.90) rotate(-90)" fill="#000"><tspan x="-54.6" y="0" font-size="33.99">L</tspan><tspan x="-32.6 -23.7 -11.3 -2.3" y="6.6" font-size="25.13">tar </tspan><tspan x="7" y="2.3" font-size="37.95">[</tspan><tspan x="18.4" y="0" font-size="33.99">m</tspan><tspan x="43.7" y="2.3" font-size="37.95">]</tspan></text>
<text transform="translate(2152.00,1840.90) rotate(-90)" fill="#000"><tspan x="-99.6 -79.5 -70.5 -54.1 -29.1 -16.3 1.2 12.2 27" y="0" font-size="33.99">Flowrate </tspan><tspan x="36.3" y="2.3" font-size="37.95">[</tspan><tspan x="47.1" y="0" font-size="33.99">s</tspan><tspan x="62.3" y="-10.7" font-size="26.61">−</tspan><tspan x="80.1" y="-11.9" font-size="21.84">1</tspan><tspan x="90" y="2.3" font-size="37.95">]</tspan></text>
<clipPath id="c6"><rect x="1225.80" y="1700.70" width="857.70" height="280.40"/></clipPath>
<g clip-path="url(#c6)" fill="none">
<polyline points="1225.8,1881.5 1232.1,1906.5 1238.4,1881.5 1244.7,1831.6 1251.0,1806.6 1257.8,1756.6 1263.6,1856.5 1269.9,1856.5 1276.2,1906.5 1282.6,1931.5 1288.9,1856.5 1295.5,1931.5 1301.8,1856.5 1308.5,1806.6 1314.6,1831.6 1320.9,1831.6 1327.2,1831.6 1333.7,1831.6 1358.6,1931.5 1372.4,1831.6 1378.5,1731.6 1384.3,1781.6 1391.0,1806.6 1397.3,1806.6 1403.4,1831.6 1409.7,1831.6 1416.0,1831.6 1422.5,1831.6 1428.8,1931.5 1435.1,1906.5 1447.8,1731.6 1454.1,1731.6 1460.4,1831.6 1466.7,1856.5 1473.0,1831.6 1479.3,1856.5 1485.6,1856.5 1491.9,1981.5 1498.2,1831.6 1505.0,1756.6 1511.3,1731.6 1517.6,1731.6 1523.9,1806.6 1530.2,1831.6 1536.5,1856.5 1542.8,1856.5 1549.1,1856.5 1555.5,1956.5 1561.8,1881.5 1568.4,1756.6 1574.7,1706.6 1581.4,1731.6 1587.5,1781.6 1593.8,1806.6 1600.1,1756.6 1619.2,1956.5 1625.7,1831.6 1632.0,1831.6 1638.3,1756.6 1644.6,1756.6 1650.9,1781.6 1657.2,1756.6 1663.5,1781.6 1669.8,1781.6 1682.5,1931.5 1691.8,1831.6 1695.1,1831.6 1701.4,1781.6 1707.7,1756.6 1714.2,1756.6 1720.5,1731.6 1726.8,1756.6 1733.1,1806.6 1739.4,1931.5 1745.7,1856.5 1752.0,1856.5 1758.3,1906.5 1764.7,1931.5 1777.3,1731.6 1783.6,1731.6 1789.9,1756.6 1796.6,1856.5 1803.0,1831.6 1809.3,1831.6 1815.6,1881.5 1821.9,1881.5 1828.2,1856.5 1834.5,1731.6 1840.8,1706.6 1847.1,1706.6 1853.4,1756.6 1859.7,1806.6 1866.0,1806.6 1872.4,1781.6 1878.7,1906.5 1885.0,1881.5 1891.3,1881.5 1897.6,1756.6 1903.9,1706.6 1910.2,1731.6 1916.5,1731.6 1922.8,1756.6 1929.5,1781.6 1936.1,1831.6 1942.4,1831.6 1948.7,1806.6 1955.0,1856.5 1961.3,1856.5 1967.7,1781.6 1974.0,1706.6 1980.3,1706.6 1986.6,1706.6 1992.9,1831.6 2038.2,1831.6 2044.5,1756.6 2050.8,1731.6 2057.1,1756.6 2063.1,1856.5 2069.4,1831.6 2075.7,1856.5" stroke="#ef2413" stroke-width="3.8" stroke-linejoin="round"/>
<polyline points="1225.8,1850.9 1226.4,1842.8 1227.0,1834.7 1227.6,1826.6 1228.2,1818.5 1228.8,1810.5 1229.4,1802.6 1230.0,1794.8 1230.6,1787.1 1231.2,1779.6 1231.8,1772.3 1232.4,1765.2 1233.0,1758.4 1233.6,1751.8 1234.2,1745.5 1234.8,1739.5 1235.4,1733.9 1236.0,1728.5 1236.6,1723.6 1237.2,1719.0 1237.8,1714.8 1238.4,1711.0 1239.0,1707.6 1239.6,1704.7 1240.2,1702.2 1240.8,1700.1 1241.4,1698.5 1242.0,1697.3 1242.6,1696.7 1243.2,1696.4 1243.8,1696.7 1244.4,1697.4 1245.0,1698.5 1245.6,1700.2 1246.2,1702.2 1246.8,1704.7 1247.4,1707.7 1248.0,1711.1 1248.6,1714.9 1249.2,1719.1 1249.8,1723.7 1250.4,1728.7 1251.0,1734.0 1251.6,1739.7 1252.2,1745.6 1252.8,1751.9 1253.4,1758.5 1254.0,1765.4 1254.6,1772.5 1255.2,1779.8 1255.8,1787.3 1256.4,1794.9 1257.0,1802.7 1257.6,1810.6 1258.2,1818.7 1258.8,1826.7 1259.4,1834.9 1260.0,1843.0 1260.6,1851.1 1261.2,1859.2 1261.8,1867.2 1262.4,1875.1 1263.0,1882.9 1263.6,1890.6 1264.2,1898.1 1264.8,1905.4 1265.4,1912.4 1266.0,1919.3 1266.6,1925.8 1267.2,1932.1 1267.8,1938.1 1268.4,1943.8 1269.0,1949.1 1269.6,1954.0 1270.2,1958.6 1270.8,1962.8 1271.4,1966.6 1272.0,1970.0 1272.6,1972.9 1273.2,1975.4 1273.8,1977.5 1274.4,1979.1 1275.0,1980.2 1275.6,1980.9 1276.2,1981.1 1276.8,1980.9 1277.4,1980.1 1278.0,1979.0 1278.6,1977.3 1279.2,1975.3 1279.8,1972.7 1280.4,1969.8 1281.0,1966.4 1281.6,1962.6 1282.2,1958.4 1282.8,1953.8 1283.4,1948.8 1284.0,1943.4 1284.6,1937.8 1285.2,1931.8 1285.8,1925.5 1286.4,1918.9 1287.0,1912.0 1287.6,1904.9 1288.2,1897.6 1288.8,1890.1 1289.4,1882.5 1290.0,1874.7 1290.6,1866.7 1291.2,1858.7 1291.8,1850.6 1292.4,1842.5 1293.0,1834.4 1293.6,1826.3 1294.2,1818.2 1294.8,1810.2 1295.4,1802.3 1296.0,1794.5 1296.6,1786.8 1297.2,1779.3 1297.8,1772.0 1298.4,1765.0 1299.0,1758.1 1299.6,1751.6 1300.2,1745.3 1300.8,1739.3 1301.4,1733.7 1302.0,1728.3 1302.6,1723.4 1303.2,1718.8 1303.8,1714.6 1304.4,1710.9 1305.0,1707.5 1305.6,1704.6 1306.2,1702.1 1306.8,1700.0 1307.4,1698.4 1308.0,1697.3 1308.6,1696.6 1309.2,1696.4 1309.8,1696.7 1310.4,1697.4 1311.0,1698.6 1311.6,1700.2 1312.2,1702.3 1312.8,1704.8 1313.4,1707.8 1314.0,1711.2 1314.6,1715.0 1315.2,1719.3 1315.8,1723.9 1316.4,1728.8 1317.0,1734.2 1317.6,1739.9 1318.2,1745.9 1318.8,1752.2 1319.4,1758.8 1320.0,1765.6 1320.6,1772.7 1321.2,1780.0 1321.8,1787.5 1322.4,1795.2 1323.0,1803.0 1323.6,1811.0 1324.2,1819.0 1324.8,1827.1 1325.4,1835.2 1326.0,1843.3 1326.6,1851.4 1327.2,1859.5 1327.8,1867.5 1328.4,1875.4 1329.0,1883.2 1329.6,1890.9 1330.2,1898.3 1330.8,1905.6 1331.4,1912.7 1332.0,1919.5 1332.6,1926.1 1333.2,1932.4 1333.8,1938.3 1334.4,1944.0 1335.0,1949.3 1335.6,1954.2 1336.2,1958.8 1336.8,1963.0 1337.4,1966.7 1338.0,1970.1 1338.6,1973.0 1339.2,1975.5 1339.8,1977.5 1340.4,1979.1 1341.0,1980.2 1341.6,1980.9 1342.2,1981.1 1342.8,1980.8 1343.4,1980.1 1344.0,1978.9 1344.6,1977.3 1345.2,1975.2 1345.8,1972.6 1346.4,1969.6 1347.0,1966.2 1347.6,1962.4 1348.2,1958.2 1348.8,1953.6 1349.4,1948.6 1350.0,1943.2 1350.6,1937.5 1351.2,1931.5 1351.8,1925.2 1352.4,1918.6 1353.0,1911.7 1353.6,1904.7 1354.2,1897.3 1354.8,1889.8 1355.4,1882.2 1356.0,1874.4 1356.6,1866.4 1357.2,1858.4 1357.8,1850.3 1358.4,1842.2 1359.0,1834.1 1359.6,1826.0 1360.2,1817.9 1360.8,1809.9 1361.4,1802.0 1362.0,1794.2 1362.6,1786.5 1363.2,1779.0 1363.8,1771.8 1364.4,1764.7 1365.0,1757.9 1365.6,1751.3 1366.2,1745.1 1366.8,1739.1 1367.4,1733.4 1368.0,1728.2 1368.6,1723.2 1369.3,1718.7 1369.9,1714.5 1370.5,1710.7 1371.1,1707.4 1371.7,1704.5 1372.3,1702.0 1372.9,1700.0 1373.5,1698.4 1374.1,1697.3 1374.7,1696.6 1375.3,1696.4 1375.9,1696.7 1376.5,1697.4 1377.1,1698.6 1377.7,1700.3 1378.3,1702.4 1378.9,1705.0 1379.5,1707.9 1380.1,1711.4 1380.7,1715.2 1381.3,1719.4 1381.9,1724.0 1382.5,1729.0 1383.1,1734.4 1383.7,1740.1 1384.3,1746.1 1384.9,1752.4 1385.5,1759.1 1386.1,1765.9 1386.7,1773.0 1387.3,1780.3 1387.9,1787.8 1388.5,1795.5 1389.1,1803.3 1389.7,1811.3 1390.3,1819.3 1390.9,1827.4 1391.5,1835.5 1392.1,1843.6 1392.7,1851.7 1393.3,1859.8 1393.9,1867.8 1394.5,1875.7 1395.1,1883.5 1395.7,1891.2 1396.3,1898.6 1396.9,1905.9 1397.5,1913.0 1398.1,1919.8 1398.7,1926.3 1399.3,1932.6 1399.9,1938.6 1400.5,1944.2 1401.1,1949.5 1401.7,1954.4 1402.3,1959.0 1402.9,1963.1 1403.5,1966.9 1404.1,1970.2 1404.7,1973.1 1405.3,1975.6 1405.9,1977.6 1406.5,1979.2 1407.1,1980.3 1407.7,1980.9 1408.3,1981.1 1408.9,1980.8 1409.5,1980.1 1410.1,1978.9 1410.7,1977.2 1411.3,1975.1 1411.9,1972.5 1412.5,1969.5 1413.1,1966.1 1413.7,1962.3 1414.3,1958.0 1414.9,1953.4 1415.5,1948.4 1416.1,1943.0 1416.7,1937.3 1417.3,1931.3 1417.9,1925.0 1418.5,1918.3 1419.1,1911.5 1419.7,1904.4 1420.3,1897.1 1420.9,1889.5 1421.5,1881.9 1422.1,1874.0 1422.7,1866.1 1423.3,1858.1 1423.9,1850.0 1424.5,1841.9 1425.1,1833.8 1425.7,1825.6 1426.3,1817.6 1426.9,1809.6 1427.5,1801.7 1428.1,1793.9 1428.7,1786.2 1429.3,1778.8 1429.9,1771.5 1430.5,1764.4 1431.1,1757.6 1431.7,1751.1 1432.3,1744.8 1432.9,1738.9 1433.5,1733.2 1434.1,1728.0 1434.7,1723.0 1435.3,1718.5 1435.9,1714.3 1436.5,1710.6 1437.1,1707.3 1437.7,1704.4 1438.3,1701.9 1438.9,1699.9 1439.5,1698.3 1440.1,1697.2 1440.7,1696.6 1441.3,1696.4 1441.9,1696.7 1442.5,1697.5 1443.1,1698.7 1443.7,1700.4 1444.3,1702.5 1444.9,1705.1 1445.5,1708.1 1446.1,1711.5 1446.7,1715.3 1447.3,1719.6 1447.9,1724.2 1448.5,1729.2 1449.1,1734.6 1449.7,1740.3 1450.3,1746.4 1450.9,1752.7 1451.5,1759.3 1452.1,1766.2 1452.7,1773.3 1453.3,1780.6 1453.9,1788.1 1454.5,1795.8 1455.1,1803.6 1455.7,1811.6 1456.3,1819.6 1456.9,1827.7 1457.5,1835.8 1458.1,1843.9 1458.7,1852.0 1459.3,1860.1 1459.9,1868.1 1460.5,1876.0 1461.1,1883.8 1461.7,1891.4 1462.3,1898.9 1462.9,1906.2 1463.5,1913.2 1464.1,1920.0 1464.7,1926.6 1465.3,1932.8 1465.9,1938.8 1466.5,1944.4 1467.1,1949.7 1467.7,1954.6 1468.3,1959.1 1468.9,1963.3 1469.5,1967.0 1470.1,1970.3 1470.7,1973.2 1471.3,1975.7 1471.9,1977.7 1472.5,1979.2 1473.1,1980.3 1473.7,1980.9 1474.3,1981.1 1474.9,1980.8 1475.5,1980.0 1476.1,1978.8 1476.7,1977.1 1477.3,1975.0 1477.9,1972.4 1478.5,1969.4 1479.1,1966.0 1479.7,1962.1 1480.3,1957.8 1480.9,1953.2 1481.5,1948.2 1482.1,1942.8 1482.7,1937.1 1483.3,1931.0 1483.9,1924.7 1484.5,1918.1 1485.1,1911.2 1485.7,1904.1 1486.3,1896.8 1486.9,1889.3 1487.5,1881.6 1488.1,1873.7 1488.7,1865.8 1489.3,1857.8 1489.9,1849.7 1490.5,1841.6 1491.1,1833.4 1491.7,1825.3 1492.3,1817.3 1492.9,1809.3 1493.5,1801.4 1494.1,1793.6 1494.7,1785.9 1495.3,1778.5 1495.9,1771.2 1496.5,1764.2 1497.1,1757.4 1497.7,1750.8 1498.3,1744.6 1498.9,1738.6 1499.5,1733.0 1500.1,1727.8 1500.7,1722.9 1501.3,1718.3 1501.9,1714.2 1502.5,1710.5 1503.1,1707.2 1503.7,1704.3 1504.3,1701.8 1504.9,1699.8 1505.5,1698.3 1506.1,1697.2 1506.7,1696.6 1507.3,1696.4 1507.9,1696.7 1508.5,1697.5 1509.1,1698.7 1509.7,1700.4 1510.3,1702.6 1510.9,1705.2 1511.5,1708.2 1512.1,1711.6 1512.7,1715.5 1513.3,1719.8 1513.9,1724.4 1514.5,1729.4 1515.1,1734.8 1515.7,1740.6 1516.3,1746.6 1516.9,1752.9 1517.5,1759.6 1518.1,1766.5 1518.7,1773.6 1519.3,1780.9 1519.9,1788.4 1520.5,1796.1 1521.1,1803.9 1521.7,1811.9 1522.3,1819.9 1522.9,1828.0 1523.5,1836.1 1524.1,1844.2 1524.7,1852.4 1525.3,1860.4 1525.9,1868.4 1526.5,1876.3 1527.1,1884.1 1527.7,1891.7 1528.3,1899.2 1528.9,1906.5 1529.5,1913.5 1530.1,1920.3 1530.7,1926.8 1531.3,1933.1 1531.9,1939.0 1532.5,1944.6 1533.1,1949.9 1533.7,1954.8 1534.3,1959.3 1534.9,1963.4 1535.5,1967.1 1536.1,1970.4 1536.7,1973.3 1537.3,1975.7 1537.9,1977.7 1538.5,1979.3 1539.1,1980.3 1539.7,1980.9 1540.3,1981.1 1540.9,1980.8 1541.5,1980.0 1542.1,1978.8 1542.7,1977.1 1543.3,1974.9 1543.9,1972.3 1544.5,1969.3 1545.1,1965.8 1545.7,1962.0 1546.3,1957.7 1546.9,1953.0 1547.5,1948.0 1548.1,1942.6 1548.7,1936.9 1549.3,1930.8 1549.9,1924.5 1550.5,1917.8 1551.1,1910.9 1551.7,1903.8 1552.3,1896.5 1552.9,1889.0 1553.5,1881.3 1554.1,1873.4 1554.7,1865.5 1555.3,1857.5 1555.9,1849.4 1556.5,1841.3 1557.1,1833.1 1557.7,1825.0 1558.3,1816.9 1558.9,1809.0 1559.5,1801.1 1560.1,1793.3 1560.7,1785.6 1561.3,1778.2 1561.9,1770.9 1562.5,1763.9 1563.1,1757.1 1563.7,1750.6 1564.3,1744.3 1564.9,1738.4 1565.5,1732.8 1566.1,1727.6 1566.7,1722.7 1567.3,1718.2 1567.9,1714.0 1568.5,1710.3 1569.1,1707.0 1569.7,1704.2 1570.3,1701.7 1570.9,1699.8 1571.5,1698.2 1572.1,1697.2 1572.7,1696.6 1573.3,1696.4 1573.9,1696.8 1574.5,1697.6 1575.1,1698.8 1575.7,1700.5 1576.3,1702.7 1576.9,1705.3 1577.5,1708.3 1578.1,1711.8 1578.7,1715.7 1579.3,1719.9 1579.9,1724.6 1580.5,1729.6 1581.1,1735.0 1581.7,1740.8 1582.3,1746.8 1582.9,1753.2 1583.5,1759.8 1584.1,1766.7 1584.7,1773.9 1585.3,1781.2 1585.9,1788.7 1586.5,1796.4 1587.1,1804.2 1587.7,1812.2 1588.3,1820.2 1588.9,1828.3 1589.5,1836.4 1590.1,1844.6 1590.7,1852.7 1591.3,1860.7 1591.9,1868.7 1592.5,1876.6 1593.1,1884.4 1593.7,1892.0 1594.3,1899.5 1594.9,1906.7 1595.5,1913.8 1596.1,1920.5 1596.7,1927.1 1597.3,1933.3 1597.9,1939.2 1598.5,1944.8 1599.1,1950.1 1599.7,1954.9 1600.3,1959.5 1600.9,1963.6 1601.5,1967.3 1602.1,1970.6 1602.7,1973.4 1603.3,1975.8 1603.9,1977.8 1604.5,1979.3 1605.1,1980.4 1605.7,1981.0 1606.3,1981.1 1606.9,1980.8 1607.5,1980.0 1608.1,1978.7 1608.7,1977.0 1609.3,1974.8 1609.9,1972.2 1610.5,1969.2 1611.1,1965.7 1611.7,1961.8 1612.3,1957.5 1612.9,1952.8 1613.5,1947.8 1614.1,1942.4 1614.7,1936.6 1615.3,1930.6 1615.9,1924.2 1616.5,1917.6 1617.1,1910.7 1617.7,1903.5 1618.3,1896.2 1618.9,1888.7 1619.5,1881.0 1620.1,1873.1 1620.7,1865.2 1621.3,1857.2 1621.9,1849.1 1622.5,1840.9 1623.1,1832.8 1623.7,1824.7 1624.3,1816.6 1624.9,1808.6 1625.5,1800.8 1626.1,1793.0 1626.7,1785.4 1627.3,1777.9 1627.9,1770.7 1628.5,1763.6 1629.1,1756.9 1629.7,1750.3 1630.3,1744.1 1630.9,1738.2 1631.5,1732.6 1632.1,1727.4 1632.7,1722.5 1633.3,1718.0 1633.9,1713.9 1634.5,1710.2 1635.1,1706.9 1635.7,1704.1 1636.3,1701.7 1636.9,1699.7 1637.5,1698.2 1638.1,1697.1 1638.7,1696.6 1639.3,1696.4 1639.9,1696.8 1640.5,1697.6 1641.1,1698.9 1641.7,1700.6 1642.3,1702.8 1642.9,1705.4 1643.5,1708.4 1644.1,1711.9 1644.7,1715.8 1645.3,1720.1 1645.9,1724.8 1646.5,1729.9 1647.1,1735.3 1647.7,1741.0 1648.3,1747.1 1648.9,1753.4 1649.5,1760.1 1650.1,1767.0 1650.7,1774.1 1651.3,1781.5 1651.9,1789.0 1652.5,1796.7 1653.1,1804.5 1653.7,1812.5 1654.3,1820.5 1655.0,1828.6 1655.6,1836.7 1656.2,1844.9 1656.8,1853.0 1657.4,1861.0 1658.0,1869.0 1658.6,1876.9 1659.2,1884.7 1659.8,1892.3 1660.4,1899.8 1661.0,1907.0 1661.6,1914.0 1662.2,1920.8 1662.8,1927.3 1663.4,1933.5 1664.0,1939.4 1664.6,1945.0 1665.2,1950.3 1665.8,1955.1 1666.4,1959.6 1667.0,1963.7 1667.6,1967.4 1668.2,1970.7 1668.8,1973.5 1669.4,1975.9 1670.0,1977.9 1670.6,1979.4 1671.2,1980.4 1671.8,1981.0 1672.4,1981.1 1673.0,1980.7 1673.6,1979.9 1674.2,1978.6 1674.8,1976.9 1675.4,1974.7 1676.0,1972.1 1676.6,1969.0 1677.2,1965.5 1677.8,1961.6 1678.4,1957.3 1679.0,1952.6 1679.6,1947.6 1680.2,1942.2 1680.8,1936.4 1681.4,1930.3 1682.0,1924.0 1682.6,1917.3 1683.2,1910.4 1683.8,1903.3 1684.4,1895.9 1685.0,1888.4 1685.6,1880.7 1686.2,1872.8 1686.8,1864.9 1687.4,1856.9 1688.0,1848.8 1688.6,1840.6 1689.2,1832.5 1689.8,1824.4 1690.4,1816.3 1691.0,1808.3 1691.6,1800.5 1692.2,1792.7 1692.8,1785.1 1693.4,1777.6 1694.0,1770.4 1694.6,1763.4 1695.2,1756.6 1695.8,1750.1 1696.4,1743.9 1697.0,1738.0 1697.6,1732.4 1698.2,1727.2 1698.8,1722.3 1699.4,1717.8 1700.0,1713.7 1700.6,1710.1 1701.2,1706.8 1701.8,1704.0 1702.4,1701.6 1703.0,1699.6 1703.6,1698.1 1704.2,1697.1 1704.8,1696.6 1705.4,1696.4 1706.0,1696.8 1706.6,1697.6 1707.2,1698.9 1707.8,1700.7 1708.4,1702.9 1709.0,1705.5 1709.6,1708.6 1710.2,1712.1 1710.8,1716.0 1711.4,1720.3 1712.0,1725.0 1712.6,1730.1 1713.2,1735.5 1713.8,1741.2 1714.4,1747.3 1715.0,1753.7 1715.6,1760.4 1716.2,1767.3 1716.8,1774.4 1717.4,1781.8 1718.0,1789.3 1718.6,1797.0 1719.2,1804.8 1719.8,1812.8 1720.4,1820.8 1721.0,1828.9 1721.6,1837.0 1722.2,1845.2 1722.8,1853.3 1723.4,1861.4 1724.0,1869.3 1724.6,1877.2 1725.2,1885.0 1725.8,1892.6 1726.4,1900.0 1727.0,1907.3 1727.6,1914.3 1728.2,1921.1 1728.8,1927.6 1729.4,1933.8 1730.0,1939.7 1730.6,1945.2 1731.2,1950.5 1731.8,1955.3 1732.4,1959.8 1733.0,1963.9 1733.6,1967.5 1734.2,1970.8 1734.8,1973.6 1735.4,1976.0 1736.0,1977.9 1736.6,1979.4 1737.2,1980.4 1737.8,1981.0 1738.4,1981.1 1739.0,1980.7 1739.6,1979.9 1740.2,1978.6 1740.8,1976.8 1741.4,1974.6 1742.0,1972.0 1742.6,1968.9 1743.2,1965.4 1743.8,1961.5 1744.4,1957.2 1745.0,1952.5 1745.6,1947.4 1746.2,1941.9 1746.8,1936.2 1747.4,1930.1 1748.0,1923.7 1748.6,1917.0 1749.2,1910.1 1749.8,1903.0 1750.4,1895.6 1751.0,1888.1 1751.6,1880.4 1752.2,1872.5 1752.8,1864.6 1753.4,1856.5 1754.0,1848.4 1754.6,1840.3 1755.2,1832.2 1755.8,1824.1 1756.4,1816.0 1757.0,1808.0 1757.6,1800.1 1758.2,1792.4 1758.8,1784.8 1759.4,1777.3 1760.0,1770.1 1760.6,1763.1 1761.2,1756.3 1761.8,1749.9 1762.4,1743.6 1763.0,1737.8 1763.6,1732.2 1764.2,1727.0 1764.8,1722.1 1765.4,1717.7 1766.0,1713.6 1766.6,1709.9 1767.2,1706.7 1767.8,1703.9 1768.4,1701.5 1769.0,1699.6 1769.6,1698.1 1770.2,1697.1 1770.8,1696.5 1771.4,1696.5 1772.0,1696.8 1772.6,1697.7 1773.2,1699.0 1773.8,1700.7 1774.4,1703.0 1775.0,1705.6 1775.6,1708.7 1776.2,1712.2 1776.8,1716.1 1777.4,1720.5 1778.0,1725.2 1778.6,1730.3 1779.2,1735.7 1779.8,1741.5 1780.4,1747.6 1781.0,1753.9 1781.6,1760.6 1782.2,1767.5 1782.8,1774.7 1783.4,1782.1 1784.0,1789.6 1784.6,1797.3 1785.2,1805.2 1785.8,1813.1 1786.4,1821.1 1787.0,1829.2 1787.6,1837.4 1788.2,1845.5 1788.8,1853.6 1789.4,1861.7 1790.0,1869.6 1790.6,1877.5 1791.2,1885.3 1791.8,1892.9 1792.4,1900.3 1793.0,1907.6 1793.6,1914.6 1794.2,1921.3 1794.8,1927.8 1795.4,1934.0 1796.0,1939.9 1796.6,1945.4 1797.2,1950.6 1797.8,1955.5 1798.4,1960.0 1799.0,1964.0 1799.6,1967.7 1800.2,1970.9 1800.8,1973.7 1801.4,1976.1 1802.0,1978.0 1802.6,1979.5 1803.2,1980.5 1803.8,1981.0 1804.4,1981.1 1805.0,1980.7 1805.6,1979.8 1806.2,1978.5 1806.8,1976.8 1807.4,1974.5 1808.0,1971.9 1808.6,1968.8 1809.2,1965.3 1809.8,1961.3 1810.4,1957.0 1811.0,1952.3 1811.6,1947.2 1812.2,1941.7 1812.8,1935.9 1813.4,1929.9 1814.0,1923.5 1814.6,1916.8 1815.2,1909.9 1815.8,1902.7 1816.4,1895.3 1817.0,1887.8 1817.6,1880.1 1818.2,1872.2 1818.8,1864.3 1819.4,1856.2 1820.0,1848.1 1820.6,1840.0 1821.2,1831.9 1821.8,1823.8 1822.4,1815.7 1823.0,1807.7 1823.6,1799.8 1824.2,1792.1 1824.8,1784.5 1825.4,1777.1 1826.0,1769.8 1826.6,1762.8 1827.2,1756.1 1827.8,1749.6 1828.4,1743.4 1829.0,1737.5 1829.6,1732.0 1830.2,1726.8 1830.8,1722.0 1831.4,1717.5 1832.0,1713.4 1832.6,1709.8 1833.2,1706.6 1833.8,1703.8 1834.4,1701.4 1835.0,1699.5 1835.6,1698.1 1836.2,1697.1 1836.8,1696.5 1837.4,1696.5 1838.0,1696.9 1838.6,1697.7 1839.2,1699.0 1839.8,1700.8 1840.4,1703.0 1841.0,1705.7 1841.6,1708.8 1842.2,1712.3 1842.8,1716.3 1843.4,1720.6 1844.0,1725.4 1844.6,1730.5 1845.2,1735.9 1845.8,1741.7 1846.4,1747.8 1847.0,1754.2 1847.6,1760.9 1848.2,1767.8 1848.8,1775.0 1849.4,1782.3 1850.0,1789.9 1850.6,1797.6 1851.2,1805.5 1851.8,1813.4 1852.4,1821.5 1853.0,1829.5 1853.6,1837.7 1854.2,1845.8 1854.8,1853.9 1855.4,1862.0 1856.0,1870.0 1856.6,1877.8 1857.2,1885.6 1857.8,1893.2 1858.4,1900.6 1859.0,1907.8 1859.6,1914.8 1860.2,1921.6 1860.8,1928.0 1861.4,1934.2 1862.0,1940.1 1862.6,1945.6 1863.2,1950.8 1863.8,1955.7 1864.4,1960.1 1865.0,1964.2 1865.6,1967.8 1866.2,1971.0 1866.8,1973.8 1867.4,1976.2 1868.0,1978.1 1868.6,1979.5 1869.2,1980.5 1869.8,1981.0 1870.4,1981.1 1871.0,1980.7 1871.6,1979.8 1872.2,1978.5 1872.8,1976.7 1873.4,1974.4 1874.0,1971.8 1874.6,1968.6 1875.2,1965.1 1875.8,1961.2 1876.4,1956.8 1877.0,1952.1 1877.6,1947.0 1878.2,1941.5 1878.8,1935.7 1879.4,1929.6 1880.0,1923.2 1880.6,1916.5 1881.2,1909.6 1881.8,1902.4 1882.4,1895.0 1883.0,1887.5 1883.6,1879.8 1884.2,1871.9 1884.8,1864.0 1885.4,1855.9 1886.0,1847.8 1886.6,1839.7 1887.2,1831.6 1887.8,1823.5 1888.4,1815.4 1889.0,1807.4 1889.6,1799.5 1890.2,1791.8 1890.8,1784.2 1891.4,1776.8 1892.0,1769.6 1892.6,1762.6 1893.2,1755.8 1893.8,1749.4 1894.4,1743.2 1895.0,1737.3 1895.6,1731.8 1896.2,1726.6 1896.8,1721.8 1897.4,1717.3 1898.0,1713.3 1898.6,1709.7 1899.2,1706.4 1899.8,1703.7 1900.4,1701.3 1901.0,1699.4 1901.6,1698.0 1902.2,1697.0 1902.8,1696.5 1903.4,1696.5 1904.0,1696.9 1904.6,1697.8 1905.2,1699.1 1905.8,1700.9 1906.4,1703.1 1907.0,1705.8 1907.6,1708.9 1908.2,1712.5 1908.8,1716.5 1909.4,1720.8 1910.0,1725.5 1910.6,1730.7 1911.2,1736.1 1911.8,1741.9 1912.4,1748.0 1913.0,1754.5 1913.6,1761.1 1914.2,1768.1 1914.8,1775.2 1915.4,1782.6 1916.0,1790.2 1916.6,1797.9 1917.2,1805.8 1917.8,1813.7 1918.4,1821.8 1919.0,1829.9 1919.6,1838.0 1920.2,1846.1 1920.8,1854.2 1921.4,1862.3 1922.0,1870.3 1922.6,1878.1 1923.2,1885.9 1923.8,1893.5 1924.4,1900.9 1925.0,1908.1 1925.6,1915.1 1926.2,1921.8 1926.8,1928.3 1927.4,1934.5 1928.0,1940.3 1928.6,1945.9 1929.2,1951.0 1929.8,1955.8 1930.4,1960.3 1931.0,1964.3 1931.6,1967.9 1932.2,1971.1 1932.8,1973.9 1933.4,1976.2 1934.0,1978.1 1934.6,1979.5 1935.2,1980.5 1935.8,1981.0 1936.4,1981.1 1937.0,1980.6 1937.6,1979.7 1938.2,1978.4 1938.8,1976.6 1939.4,1974.3 1940.0,1971.6 1940.7,1968.5 1941.3,1965.0 1941.9,1961.0 1942.5,1956.6 1943.1,1951.9 1943.7,1946.8 1944.3,1941.3 1944.9,1935.5 1945.5,1929.4 1946.1,1923.0 1946.7,1916.3 1947.3,1909.3 1947.9,1902.1 1948.5,1894.8 1949.1,1887.2 1949.7,1879.5 1950.3,1871.6 1950.9,1863.7 1951.5,1855.6 1952.1,1847.5 1952.7,1839.4 1953.3,1831.3 1953.9,1823.2 1954.5,1815.1 1955.1,1807.1 1955.7,1799.2 1956.3,1791.5 1956.9,1783.9 1957.5,1776.5 1958.1,1769.3 1958.7,1762.3 1959.3,1755.6 1959.9,1749.1 1960.5,1743.0 1961.1,1737.1 1961.7,1731.6 1962.3,1726.4 1962.9,1721.6 1963.5,1717.2 1964.1,1713.1 1964.7,1709.5 1965.3,1706.3 1965.9,1703.6 1966.5,1701.2 1967.1,1699.4 1967.7,1698.0 1968.3,1697.0 1968.9,1696.5 1969.5,1696.5 1970.1,1696.9 1970.7,1697.8 1971.3,1699.2 1971.9,1701.0 1972.5,1703.2 1973.1,1705.9 1973.7,1709.1 1974.3,1712.6 1974.9,1716.6 1975.5,1721.0 1976.1,1725.7 1976.7,1730.9 1977.3,1736.3 1977.9,1742.2 1978.5,1748.3 1979.1,1754.7 1979.7,1761.4 1980.3,1768.3 1980.9,1775.5 1981.5,1782.9 1982.1,1790.5 1982.7,1798.2 1983.3,1806.1 1983.9,1814.0 1984.5,1822.1 1985.1,1830.2 1985.7,1838.3 1986.3,1846.4 1986.9,1854.5 1987.5,1862.6 1988.1,1870.6 1988.7,1878.4 1989.3,1886.2 1989.9,1893.8 1990.5,1901.2 1991.1,1908.4 1991.7,1915.4 1992.3,1922.1 1992.9,1928.5 1993.5,1934.7 1994.1,1940.5 1994.7,1946.1 1995.3,1951.2 1995.9,1956.0 1996.5,1960.4 1997.1,1964.5 1997.7,1968.1 1998.3,1971.3 1998.9,1974.0 1999.5,1976.3 2000.1,1978.2 2000.7,1979.6 2001.3,1980.5 2001.9,1981.0 2002.5,1981.1 2003.1,1980.6 2003.7,1979.7 2004.3,1978.3 2004.9,1976.5 2005.5,1974.2 2006.1,1971.5 2006.7,1968.4 2007.3,1964.8 2007.9,1960.8 2008.5,1956.5 2009.1,1951.7 2009.7,1946.6 2010.3,1941.1 2010.9,1935.3 2011.5,1929.1 2012.1,1922.7 2012.7,1916.0 2013.3,1909.0 2013.9,1901.9 2014.5,1894.5 2015.1,1886.9 2015.7,1879.2 2016.3,1871.3 2016.9,1863.3 2017.5,1855.3 2018.1,1847.2 2018.7,1839.1 2019.3,1830.9 2019.9,1822.8 2020.5,1814.8 2021.1,1806.8 2021.7,1798.9 2022.3,1791.2 2022.9,1783.6 2023.5,1776.2 2024.1,1769.0 2024.7,1762.0 2025.3,1755.3 2025.9,1748.9 2026.5,1742.7 2027.1,1736.9 2027.7,1731.4 2028.3,1726.2 2028.9,1721.4 2029.5,1717.0 2030.1,1713.0 2030.7,1709.4 2031.3,1706.2 2031.9,1703.5 2032.5,1701.2 2033.1,1699.3 2033.7,1697.9 2034.3,1697.0 2034.9,1696.5 2035.5,1696.5 2036.1,1696.9 2036.7,1697.8 2037.3,1699.2 2037.9,1701.1 2038.5,1703.3 2039.1,1706.1 2039.7,1709.2 2040.3,1712.8 2040.9,1716.8 2041.5,1721.2 2042.1,1725.9 2042.7,1731.1 2043.3,1736.6 2043.9,1742.4 2044.5,1748.5 2045.1,1755.0 2045.7,1761.7 2046.3,1768.6 2046.9,1775.8 2047.5,1783.2 2048.1,1790.8 2048.7,1798.5 2049.3,1806.4 2049.9,1814.3 2050.5,1822.4 2051.1,1830.5 2051.7,1838.6 2052.3,1846.7 2052.9,1854.8 2053.5,1862.9 2054.1,1870.9 2054.7,1878.7 2055.3,1886.5 2055.9,1894.1 2056.5,1901.5 2057.1,1908.6 2057.7,1915.6 2058.3,1922.3 2058.9,1928.8 2059.5,1934.9 2060.1,1940.8 2060.7,1946.3 2061.3,1951.4 2061.9,1956.2 2062.5,1960.6 2063.1,1964.6 2063.7,1968.2 2064.3,1971.4 2064.9,1974.1 2065.5,1976.4 2066.1,1978.2 2066.7,1979.6 2067.3,1980.6 2067.9,1981.0 2068.5,1981.0 2069.1,1980.6 2069.7,1979.7 2070.3,1978.3 2070.9,1976.4 2071.5,1974.2 2072.1,1971.4 2072.7,1968.3 2073.3,1964.7 2073.9,1960.7 2074.5,1956.3 2075.1,1951.5 2075.7,1946.4 2076.3,1940.9 2076.9,1935.0 2077.5,1928.9 2078.1,1922.4 2078.7,1915.7 2079.3,1908.8 2079.9,1901.6 2080.5,1894.2 2081.1,1886.6 2081.7,1878.9 2082.3,1871.0 2082.9,1863.0 2083.5,1855.0" stroke="#3f5ba9" stroke-width="5.9" stroke-dasharray="22 6.2 11 6.2" stroke-linejoin="round"/>
</g>
<rect x="1907.70" y="1712.70" width="159.90" height="72.00" fill="#fff" stroke="#303030" stroke-width="1.2"/>
<line x1="1913.30" y1="1731.90" x2="1969.90" y2="1731.90" stroke="#ef2413" stroke-width="3.8"/>
<line x1="1913.30" y1="1765.80" x2="1969.90" y2="1765.80" stroke="#3f5ba9" stroke-width="5.9" stroke-dasharray="22 6.2 11 6.2"/>
<text transform="translate(1974.90,1738.90)" fill="#000"><tspan x="0.5 21.6 37.4 47.1 62.1 77.9" y="0" font-size="27.81">Output</tspan></text>
<text transform="translate(1974.90,1772.40)" fill="#000"><tspan x="0.2 10.3 25.3 40.3 56.2" y="0" font-size="27.81">Input</tspan></text>
</g>
<g id="bot-a">
<path d="M140.3 431.7V711.9M169.1 431.7V711.9M197.9 431.7V711.9M226.7 431.7V711.9M284.3 431.7V711.9M313.1 431.7V711.9M341.9 431.7V711.9M370.7 431.7V711.9M428.3 431.7V711.9M457.1 431.7V711.9M485.9 431.7V711.9M514.7 431.7V711.9M572.3 431.7V711.9M601.1 431.7V711.9M629.9 431.7V711.9M658.7 431.7V711.9M716.3 431.7V711.9M745.1 431.7V711.9M773.9 431.7V711.9M802.7 431.7V711.9M860.3 431.7V711.9M889.1 431.7V711.9M917.9 431.7V711.9M946.7 431.7V711.9M118.6 700.7H976.3M118.6 681.6H976.3M118.6 668H976.3M118.6 657.5H976.3M118.6 648.8H976.3M118.6 641.6H976.3M118.6 635.2H976.3M118.6 629.7H976.3M118.6 591.9H976.3M118.6 572.8H976.3M118.6 559.2H976.3M118.6 548.7H976.3M118.6 540H976.3M118.6 532.8H976.3M118.6 526.4H976.3M118.6 520.9H976.3M118.6 483.1H976.3M118.6 464H976.3M118.6 450.4H976.3M118.6 439.9H976.3" fill="none" stroke="#cbcbcb" stroke-width="1.3" stroke-dasharray="1.3 4.4"/>
<path d="M255.5 431.7V711.9M399.5 431.7V711.9M543.5 431.7V711.9M687.5 431.7V711.9M831.5 431.7V711.9M118.6 624.7H976.3M118.6 515.9H976.3" fill="none" stroke="#dcdcdc" stroke-width="1.4"/>
<path d="M255.5 711.9V703M255.5 431.7V440.6M399.5 711.9V703M399.5 431.7V440.6M543.5 711.9V703M543.5 431.7V440.6M687.5 711.9V703M687.5 431.7V440.6M831.5 711.9V703M831.5 431.7V440.6M140.3 711.9V706.8M140.3 431.7V436.8M169.1 711.9V706.8M169.1 431.7V436.8M197.9 711.9V706.8M197.9 431.7V436.8M226.7 711.9V706.8M226.7 431.7V436.8M284.3 711.9V706.8M284.3 431.7V436.8M313.1 711.9V706.8M313.1 431.7V436.8M341.9 711.9V706.8M341.9 431.7V436.8M370.7 711.9V706.8M370.7 431.7V436.8M428.3 711.9V706.8M428.3 431.7V436.8M457.1 711.9V706.8M457.1 431.7V436.8M485.9 711.9V706.8M485.9 431.7V436.8M514.7 711.9V706.8M514.7 431.7V436.8M572.3 711.9V706.8M572.3 431.7V436.8M601.1 711.9V706.8M601.1 431.7V436.8M629.9 711.9V706.8M629.9 431.7V436.8M658.7 711.9V706.8M658.7 431.7V436.8M716.3 711.9V706.8M716.3 431.7V436.8M745.1 711.9V706.8M745.1 431.7V436.8M773.9 711.9V706.8M773.9 431.7V436.8M802.7 711.9V706.8M802.7 431.7V436.8M860.3 711.9V706.8M860.3 431.7V436.8M889.1 711.9V706.8M889.1 431.7V436.8M917.9 711.9V706.8M917.9 431.7V436.8M946.7 711.9V706.8M946.7 431.7V436.8M118.6 624.7H127.5M976.3 624.7H967.4M118.6 515.9H127.5M976.3 515.9H967.4M118.6 700.7H123.7M976.3 700.7H971.2M118.6 681.6H123.7M976.3 681.6H971.2M118.6 668H123.7M976.3 668H971.2M118.6 657.5H123.7M976.3 657.5H971.2M118.6 648.8H123.7M976.3 648.8H971.2M118.6 641.6H123.7M976.3 641.6H971.2M118.6 635.2H123.7M976.3 635.2H971.2M118.6 629.7H123.7M976.3 629.7H971.2M118.6 591.9H123.7M976.3 591.9H971.2M118.6 572.8H123.7M976.3 572.8H971.2M118.6 559.2H123.7M976.3 559.2H971.2M118.6 548.7H123.7M976.3 548.7H971.2M118.6 540H123.7M976.3 540H971.2M118.6 532.8H123.7M976.3 532.8H971.2M118.6 526.4H123.7M976.3 526.4H971.2M118.6 520.9H123.7M976.3 520.9H971.2M118.6 483.1H123.7M976.3 483.1H971.2M118.6 464H123.7M976.3 464H971.2M118.6 450.4H123.7M976.3 450.4H971.2M118.6 439.9H123.7M976.3 439.9H971.2" fill="none" stroke="#303030" stroke-width="1.05"/>
<rect x="118.60" y="431.70" width="857.70" height="280.20" fill="none" stroke="#303030" stroke-width="1.2"/>
<text transform="translate(255.50,747.80)" fill="#000"><tspan x="-15.1 -0.1" y="0" font-size="30.58">10</tspan></text>
<text transform="translate(399.50,747.80)" fill="#000"><tspan x="-15.1 -0.1" y="0" font-size="30.58">20</tspan></text>
<text transform="translate(543.50,747.80)" fill="#000"><tspan x="-15.1 -0.1" y="0" font-size="30.58">30</tspan></text>
<text transform="translate(687.50,747.80)" fill="#000"><tspan x="-15.1 -0.1" y="0" font-size="30.58">40</tspan></text>
<text transform="translate(831.50,747.80)" fill="#000"><tspan x="-15.1 -0.1" y="0" font-size="30.58">50</tspan></text>
<text transform="translate(975.50,747.80)" fill="#000"><tspan x="-15.1 -0.1" y="0" font-size="30.58">60</tspan></text>
<text transform="translate(108.00,632.70)" fill="#000"><tspan x="-58.9 -43.9" y="0" font-size="30.58">10</tspan><tspan x="-27" y="-9.8" font-size="25.04">−</tspan><tspan x="-10.8" y="-10.8" font-size="20.55">3</tspan></text>
<text transform="translate(108.00,523.90)" fill="#000"><tspan x="-58.9 -43.9" y="0" font-size="30.58">10</tspan><tspan x="-27" y="-9.8" font-size="25.04">−</tspan><tspan x="-10.8" y="-10.8" font-size="20.55">2</tspan></text>
<text transform="translate(547.45,788.20)" fill="#000"><tspan x="-108 -87 -75.1 -60 -42.1 -24.7 -9.1 8.3 23.4 40.6" y="0" font-size="33.99">Frequency </tspan><tspan x="49.9" y="2.3" font-size="37.95">[</tspan><tspan x="60.9 85.3" y="0" font-size="33.99">Hz</tspan><tspan x="98.5" y="2.3" font-size="37.95">]</tspan></text>
<text transform="translate(32.40,571.80) rotate(-90)" fill="#000"><tspan x="-88" y="0.7" font-size="36.3">|</tspan><tspan x="-80.4" y="0" font-size="34.32" font-style="italic">δ</tspan><tspan x="-65.2" y="0" font-size="33.99">L</tspan><tspan x="-43.2 -34.3 -21.9" y="6.6" font-size="25.13">tar</tspan><tspan x="-12.3" y="0.7" font-size="35.64">(</tspan><tspan x="-0.6" y="0" font-size="33.99">f</tspan><tspan x="10.6" y="0.7" font-size="35.64">)</tspan><tspan x="23.9 32.1" y="0.7" font-size="36.3">| </tspan><tspan x="41.4" y="2.3" font-size="37.95">[</tspan><tspan x="52.8" y="0" font-size="33.99">m</tspan><tspan x="78" y="2.3" font-size="37.95">]</tspan></text>
<clipPath id="c7"><rect x="108.60" y="421.70" width="877.70" height="290.20"/></clipPath>
<g clip-path="url(#c7)">
<line x1="118.60" y1="608.50" x2="976.30" y2="608.50" stroke="#1a1a1a" stroke-width="1.9" stroke-dasharray="13.8 9"/>
<line x1="149.06" y1="711.90" x2="149.06" y2="577.40" stroke="#ef2413" stroke-width="3.8"/>
<circle cx="149.06" cy="577.40" r="5.4" fill="none" stroke="#ef2413" stroke-width="3.9"/>
<line x1="186.24" y1="711.90" x2="186.24" y2="582.90" stroke="#ef2413" stroke-width="3.8"/>
<circle cx="186.24" cy="582.90" r="5.4" fill="none" stroke="#ef2413" stroke-width="3.9"/>
<line x1="260.60" y1="711.90" x2="260.60" y2="626.00" stroke="#ef2413" stroke-width="3.8"/>
<circle cx="260.60" cy="626.00" r="5.4" fill="none" stroke="#ef2413" stroke-width="3.9"/>
<line x1="297.78" y1="711.90" x2="297.78" y2="570.70" stroke="#ef2413" stroke-width="3.8"/>
<circle cx="297.78" cy="570.70" r="5.4" fill="none" stroke="#ef2413" stroke-width="3.9"/>
<line x1="372.14" y1="711.90" x2="372.14" y2="615.50" stroke="#ef2413" stroke-width="3.8"/>
<circle cx="372.14" cy="615.50" r="5.4" fill="none" stroke="#ef2413" stroke-width="3.9"/>
<line x1="409.32" y1="711.90" x2="409.32" y2="571.90" stroke="#ef2413" stroke-width="3.8"/>
<circle cx="409.32" cy="571.90" r="5.4" fill="none" stroke="#ef2413" stroke-width="3.9"/>
<line x1="483.68" y1="711.90" x2="483.68" y2="629.70" stroke="#ef2413" stroke-width="3.8"/>
<circle cx="483.68" cy="629.70" r="5.4" fill="none" stroke="#ef2413" stroke-width="3.9"/>
<line x1="520.86" y1="711.90" x2="520.86" y2="624.70" stroke="#ef2413" stroke-width="3.8"/>
<circle cx="520.86" cy="624.70" r="5.4" fill="none" stroke="#ef2413" stroke-width="3.9"/>
<line x1="595.22" y1="711.90" x2="595.22" y2="625.90" stroke="#ef2413" stroke-width="3.8"/>
<circle cx="595.22" cy="625.90" r="5.4" fill="none" stroke="#ef2413" stroke-width="3.9"/>
<line x1="632.40" y1="711.90" x2="632.40" y2="616.70" stroke="#ef2413" stroke-width="3.8"/>
<circle cx="632.40" cy="616.70" r="5.4" fill="none" stroke="#ef2413" stroke-width="3.9"/>
<line x1="669.58" y1="711.90" x2="669.58" y2="606.80" stroke="#ef2413" stroke-width="3.8"/>
<circle cx="669.58" cy="606.80" r="5.4" fill="none" stroke="#ef2413" stroke-width="3.9"/>
<line x1="706.76" y1="711.90" x2="706.76" y2="601.80" stroke="#ef2413" stroke-width="3.8"/>
<circle cx="706.76" cy="601.80" r="5.4" fill="none" stroke="#ef2413" stroke-width="3.9"/>
<line x1="743.94" y1="711.90" x2="743.94" y2="593.60" stroke="#ef2413" stroke-width="3.8"/>
<circle cx="743.94" cy="593.60" r="5.4" fill="none" stroke="#ef2413" stroke-width="3.9"/>
<line x1="818.30" y1="711.90" x2="818.30" y2="616.00" stroke="#ef2413" stroke-width="3.8"/>
<circle cx="818.30" cy="616.00" r="5.4" fill="none" stroke="#ef2413" stroke-width="3.9"/>
<line x1="855.48" y1="711.90" x2="855.48" y2="583.10" stroke="#ef2413" stroke-width="3.8"/>
<circle cx="855.48" cy="583.10" r="5.4" fill="none" stroke="#ef2413" stroke-width="3.9"/>
<line x1="892.66" y1="711.90" x2="892.66" y2="651.60" stroke="#ef2413" stroke-width="3.8"/>
<circle cx="892.66" cy="651.60" r="5.4" fill="none" stroke="#ef2413" stroke-width="3.9"/>
<line x1="929.84" y1="711.90" x2="929.84" y2="606.80" stroke="#ef2413" stroke-width="3.8"/>
<circle cx="929.84" cy="606.80" r="5.4" fill="none" stroke="#ef2413" stroke-width="3.9"/>
<line x1="967.02" y1="711.90" x2="967.02" y2="609.30" stroke="#ef2413" stroke-width="3.8"/>
<circle cx="967.02" cy="609.30" r="5.4" fill="none" stroke="#ef2413" stroke-width="3.9"/>
<line x1="223.42" y1="711.90" x2="223.42" y2="483.50" stroke="#3f5ba9" stroke-width="3.8"/>
<circle cx="223.42" cy="483.50" r="5.4" fill="none" stroke="#3f5ba9" stroke-width="3.9"/>
<line x1="334.96" y1="711.90" x2="334.96" y2="510.40" stroke="#3f5ba9" stroke-width="3.8"/>
<circle cx="334.96" cy="510.40" r="5.4" fill="none" stroke="#3f5ba9" stroke-width="3.9"/>
<line x1="446.50" y1="711.90" x2="446.50" y2="660.60" stroke="#7030a0" stroke-width="3.8"/>
<circle cx="446.50" cy="660.60" r="5.4" fill="none" stroke="#7030a0" stroke-width="3.9"/>
<line x1="558.04" y1="711.90" x2="558.04" y2="543.30" stroke="#77ad3f" stroke-width="3.8"/>
<circle cx="558.04" cy="543.30" r="5.4" fill="none" stroke="#77ad3f" stroke-width="3.9"/>
<line x1="781.12" y1="711.90" x2="781.12" y2="599.80" stroke="#7030a0" stroke-width="3.8"/>
<circle cx="781.12" cy="599.80" r="5.4" fill="none" stroke="#7030a0" stroke-width="3.9"/>
</g>
<text transform="translate(223.42,458.20)" fill="#000"><tspan x="-40.8" y="0" font-size="24.46" font-style="italic">f</tspan><tspan x="-29.9" y="3.7" font-size="15.57">1</tspan><tspan x="-19.9" y="2.5" font-size="28.22">=</tspan><tspan x="-2.1 10.4 17 29.2" y="0" font-size="23.17">7.69</tspan></text>
<text transform="translate(334.96,458.20)" fill="#000"><tspan x="-46.9" y="0" font-size="24.46" font-style="italic">f</tspan><tspan x="-36.1" y="3.7" font-size="15.57">2</tspan><tspan x="-26" y="2.5" font-size="28.22">=</tspan><tspan x="-8.2 4.1 16.5 23.1 35.4" y="0" font-size="23.17">15.38</tspan></text>
<rect x="808.60" y="384.40" width="229.10" height="138.90" fill="#fff" stroke="#303030" stroke-width="1.2"/>
<line x1="814.50" y1="403.80" x2="854.00" y2="403.80" stroke="#ef2413" stroke-width="3.4"/>
<circle cx="854.00" cy="403.80" r="5.3" fill="none" stroke="#ef2413" stroke-width="3.8"/>
<text transform="translate(875.60,410.80)" fill="#000"><tspan x="0.1 20 34.3" y="0" font-size="27.81">Non</tspan><tspan x="48.8" y="0" font-size="26.59">-</tspan><tspan x="57.6 69.9 83.8 95.9 104.9 113.8 126.5" y="0" font-size="27.81">excited</tspan></text>
<line x1="814.50" y1="437.30" x2="854.00" y2="437.30" stroke="#3f5ba9" stroke-width="3.4"/>
<circle cx="854.00" cy="437.30" r="5.3" fill="none" stroke="#3f5ba9" stroke-width="3.8"/>
<text transform="translate(875.60,444.30)" fill="#000"><tspan x="0.7 18.6 32.5 44.5 53.5 62.5 75.2" y="0" font-size="27.81">Excited</tspan></text>
<line x1="814.50" y1="470.80" x2="854.00" y2="470.80" stroke="#77ad3f" stroke-width="3.4"/>
<circle cx="854.00" cy="470.80" r="5.3" fill="none" stroke="#77ad3f" stroke-width="3.8"/>
<text transform="translate(875.60,477.80)" fill="#000"><tspan x="0.1" y="0" font-size="26.59">1</tspan><tspan x="13.5 22.5 29.3" y="-9.7" font-size="20.56">st </tspan><tspan x="38.9 53.9 67.5 77.8 99.7 114 128.3 135.8" y="0" font-size="27.81">harmonic</tspan></text>
<line x1="814.50" y1="504.30" x2="854.00" y2="504.30" stroke="#7030a0" stroke-width="3.4"/>
<circle cx="854.00" cy="504.30" r="5.3" fill="none" stroke="#7030a0" stroke-width="3.8"/>
<text transform="translate(875.60,511.30)" fill="#000"><tspan x="0.1" y="0" font-size="26.59">2</tspan><tspan x="14 25.2 36" y="-9.7" font-size="20.56">nd </tspan><tspan x="45.5 60.6 74.2 84.5 106.4 120.6 135 142.4" y="0" font-size="27.81">harmonic</tspan></text>
</g>
<g id="bot-b">
<path d="M1247.5 431.7V711.9M1276.3 431.7V711.9M1305.1 431.7V711.9M1333.9 431.7V711.9M1391.5 431.7V711.9M1420.3 431.7V711.9M1449.1 431.7V711.9M1477.9 431.7V711.9M1535.5 431.7V711.9M1564.3 431.7V711.9M1593.1 431.7V711.9M1621.9 431.7V711.9M1679.5 431.7V711.9M1708.3 431.7V711.9M1737.1 431.7V711.9M1765.9 431.7V711.9M1823.5 431.7V711.9M1852.3 431.7V711.9M1881.1 431.7V711.9M1909.9 431.7V711.9M1967.5 431.7V711.9M1996.3 431.7V711.9M2025.1 431.7V711.9M2053.9 431.7V711.9M1225.8 707.8H2083.5M1225.8 675.3H2083.5M1225.8 658.7H2083.5M1225.8 647H2083.5M1225.8 637.9H2083.5M1225.8 630.5H2083.5M1225.8 624.2H2083.5M1225.8 618.8H2083.5M1225.8 614H2083.5M1225.8 581.5H2083.5M1225.8 564.9H2083.5M1225.8 553.2H2083.5M1225.8 544.1H2083.5M1225.8 536.7H2083.5M1225.8 530.4H2083.5M1225.8 525H2083.5M1225.8 520.2H2083.5M1225.8 487.7H2083.5M1225.8 471.1H2083.5M1225.8 459.4H2083.5M1225.8 450.3H2083.5M1225.8 442.9H2083.5M1225.8 436.6H2083.5" fill="none" stroke="#cbcbcb" stroke-width="1.3" stroke-dasharray="1.3 4.4"/>
<path d="M1362.7 431.7V711.9M1506.7 431.7V711.9M1650.7 431.7V711.9M1794.7 431.7V711.9M1938.7 431.7V711.9M1225.8 703.5H2083.5M1225.8 609.7H2083.5M1225.8 515.9H2083.5" fill="none" stroke="#dcdcdc" stroke-width="1.4"/>
<path d="M1362.7 711.9V703M1362.7 431.7V440.6M1506.7 711.9V703M1506.7 431.7V440.6M1650.7 711.9V703M1650.7 431.7V440.6M1794.7 711.9V703M1794.7 431.7V440.6M1938.7 711.9V703M1938.7 431.7V440.6M1247.5 711.9V706.8M1247.5 431.7V436.8M1276.3 711.9V706.8M1276.3 431.7V436.8M1305.1 711.9V706.8M1305.1 431.7V436.8M1333.9 711.9V706.8M1333.9 431.7V436.8M1391.5 711.9V706.8M1391.5 431.7V436.8M1420.3 711.9V706.8M1420.3 431.7V436.8M1449.1 711.9V706.8M1449.1 431.7V436.8M1477.9 711.9V706.8M1477.9 431.7V436.8M1535.5 711.9V706.8M1535.5 431.7V436.8M1564.3 711.9V706.8M1564.3 431.7V436.8M1593.1 711.9V706.8M1593.1 431.7V436.8M1621.9 711.9V706.8M1621.9 431.7V436.8M1679.5 711.9V706.8M1679.5 431.7V436.8M1708.3 711.9V706.8M1708.3 431.7V436.8M1737.1 711.9V706.8M1737.1 431.7V436.8M1765.9 711.9V706.8M1765.9 431.7V436.8M1823.5 711.9V706.8M1823.5 431.7V436.8M1852.3 711.9V706.8M1852.3 431.7V436.8M1881.1 711.9V706.8M1881.1 431.7V436.8M1909.9 711.9V706.8M1909.9 431.7V436.8M1967.5 711.9V706.8M1967.5 431.7V436.8M1996.3 711.9V706.8M1996.3 431.7V436.8M2025.1 711.9V706.8M2025.1 431.7V436.8M2053.9 711.9V706.8M2053.9 431.7V436.8M1225.8 703.5H1234.7M2083.5 703.5H2074.6M1225.8 609.7H1234.7M2083.5 609.7H2074.6M1225.8 515.9H1234.7M2083.5 515.9H2074.6M1225.8 707.8H1230.9M2083.5 707.8H2078.4M1225.8 675.3H1230.9M2083.5 675.3H2078.4M1225.8 658.7H1230.9M2083.5 658.7H2078.4M1225.8 647H1230.9M2083.5 647H2078.4M1225.8 637.9H1230.9M2083.5 637.9H2078.4M1225.8 630.5H1230.9M2083.5 630.5H2078.4M1225.8 624.2H1230.9M2083.5 624.2H2078.4M1225.8 618.8H1230.9M2083.5 618.8H2078.4M1225.8 614H1230.9M2083.5 614H2078.4M1225.8 581.5H1230.9M2083.5 581.5H2078.4M1225.8 564.9H1230.9M2083.5 564.9H2078.4M1225.8 553.2H1230.9M2083.5 553.2H2078.4M1225.8 544.1H1230.9M2083.5 544.1H2078.4M1225.8 536.7H1230.9M2083.5 536.7H2078.4M1225.8 530.4H1230.9M2083.5 530.4H2078.4M1225.8 525H1230.9M2083.5 525H2078.4M1225.8 520.2H1230.9M2083.5 520.2H2078.4M1225.8 487.7H1230.9M2083.5 487.7H2078.4M1225.8 471.1H1230.9M2083.5 471.1H2078.4M1225.8 459.4H1230.9M2083.5 459.4H2078.4M1225.8 450.3H1230.9M2083.5 450.3H2078.4M1225.8 442.9H1230.9M2083.5 442.9H2078.4M1225.8 436.6H1230.9M2083.5 436.6H2078.4" fill="none" stroke="#303030" stroke-width="1.05"/>
<rect x="1225.80" y="431.70" width="857.70" height="280.20" fill="none" stroke="#303030" stroke-width="1.2"/>
<text transform="translate(1362.70,747.80)" fill="#000"><tspan x="-15.1 -0.1" y="0" font-size="30.58">10</tspan></text>
<text transform="translate(1506.70,747.80)" fill="#000"><tspan x="-15.1 -0.1" y="0" font-size="30.58">20</tspan></text>
<text transform="translate(1650.70,747.80)" fill="#000"><tspan x="-15.1 -0.1" y="0" font-size="30.58">30</tspan></text>
<text transform="translate(1794.70,747.80)" fill="#000"><tspan x="-15.1 -0.1" y="0" font-size="30.58">40</tspan></text>
<text transform="translate(1938.70,747.80)" fill="#000"><tspan x="-15.1 -0.1" y="0" font-size="30.58">50</tspan></text>
<text transform="translate(2082.70,747.80)" fill="#000"><tspan x="-15.1 -0.1" y="0" font-size="30.58">60</tspan></text>
<text transform="translate(1215.20,711.50)" fill="#000"><tspan x="-58.9 -43.9" y="0" font-size="30.58">10</tspan><tspan x="-27" y="-9.8" font-size="25.04">−</tspan><tspan x="-10.8" y="-10.8" font-size="20.55">4</tspan></text>
<text transform="translate(1215.20,617.70)" fill="#000"><tspan x="-58.9 -43.9" y="0" font-size="30.58">10</tspan><tspan x="-27" y="-9.8" font-size="25.04">−</tspan><tspan x="-10.8" y="-10.8" font-size="20.55">3</tspan></text>
<text transform="translate(1215.20,523.90)" fill="#000"><tspan x="-58.9 -43.9" y="0" font-size="30.58">10</tspan><tspan x="-27" y="-9.8" font-size="25.04">−</tspan><tspan x="-10.8" y="-10.8" font-size="20.55">2</tspan></text>
<text transform="translate(1654.65,788.20)" fill="#000"><tspan x="-108 -87 -75.1 -60 -42.1 -24.7 -9.1 8.3 23.4 40.6" y="0" font-size="33.99">Frequency </tspan><tspan x="49.9" y="2.3" font-size="37.95">[</tspan><tspan x="60.9 85.3" y="0" font-size="33.99">Hz</tspan><tspan x="98.5" y="2.3" font-size="37.95">]</tspan></text>
<text transform="translate(1139.60,571.80) rotate(-90)" fill="#000"><tspan x="-88" y="0.7" font-size="36.3">|</tspan><tspan x="-80.4" y="0" font-size="34.32" font-style="italic">δ</tspan><tspan x="-65.2" y="0" font-size="33.99">L</tspan><tspan x="-43.2 -34.3 -21.9" y="6.6" font-size="25.13">tar</tspan><tspan x="-12.3" y="0.7" font-size="35.64">(</tspan><tspan x="-0.6" y="0" font-size="33.99">f</tspan><tspan x="10.6" y="0.7" font-size="35.64">)</tspan><tspan x="23.9 32.1" y="0.7" font-size="36.3">| </tspan><tspan x="41.4" y="2.3" font-size="37.95">[</tspan><tspan x="52.8" y="0" font-size="33.99">m</tspan><tspan x="78" y="2.3" font-size="37.95">]</tspan></text>
<clipPath id="c8"><rect x="1215.80" y="421.70" width="877.70" height="290.20"/></clipPath>
<g clip-path="url(#c8)">
<line x1="1225.80" y1="589.80" x2="2083.50" y2="589.80" stroke="#1a1a1a" stroke-width="1.9" stroke-dasharray="13.8 9"/>
<line x1="1257.30" y1="711.90" x2="1257.30" y2="532.10" stroke="#ef2413" stroke-width="3.8"/>
<circle cx="1257.30" cy="532.10" r="5.4" fill="none" stroke="#ef2413" stroke-width="3.9"/>
<line x1="1295.45" y1="711.90" x2="1295.45" y2="534.10" stroke="#ef2413" stroke-width="3.8"/>
<circle cx="1295.45" cy="534.10" r="5.4" fill="none" stroke="#ef2413" stroke-width="3.9"/>
<line x1="1333.60" y1="711.90" x2="1333.60" y2="551.20" stroke="#ef2413" stroke-width="3.8"/>
<circle cx="1333.60" cy="551.20" r="5.4" fill="none" stroke="#ef2413" stroke-width="3.9"/>
<line x1="1409.90" y1="711.90" x2="1409.90" y2="577.60" stroke="#ef2413" stroke-width="3.8"/>
<circle cx="1409.90" cy="577.60" r="5.4" fill="none" stroke="#ef2413" stroke-width="3.9"/>
<line x1="1448.05" y1="711.90" x2="1448.05" y2="568.70" stroke="#ef2413" stroke-width="3.8"/>
<circle cx="1448.05" cy="568.70" r="5.4" fill="none" stroke="#ef2413" stroke-width="3.9"/>
<line x1="1486.20" y1="711.90" x2="1486.20" y2="593.30" stroke="#ef2413" stroke-width="3.8"/>
<circle cx="1486.20" cy="593.30" r="5.4" fill="none" stroke="#ef2413" stroke-width="3.9"/>
<line x1="1562.50" y1="711.90" x2="1562.50" y2="580.10" stroke="#ef2413" stroke-width="3.8"/>
<circle cx="1562.50" cy="580.10" r="5.4" fill="none" stroke="#ef2413" stroke-width="3.9"/>
<line x1="1600.65" y1="711.90" x2="1600.65" y2="621.20" stroke="#ef2413" stroke-width="3.8"/>
<circle cx="1600.65" cy="621.20" r="5.4" fill="none" stroke="#ef2413" stroke-width="3.9"/>
<line x1="1638.80" y1="711.90" x2="1638.80" y2="608.10" stroke="#ef2413" stroke-width="3.8"/>
<circle cx="1638.80" cy="608.10" r="5.4" fill="none" stroke="#ef2413" stroke-width="3.9"/>
<line x1="1715.10" y1="711.90" x2="1715.10" y2="570.90" stroke="#ef2413" stroke-width="3.8"/>
<circle cx="1715.10" cy="570.90" r="5.4" fill="none" stroke="#ef2413" stroke-width="3.9"/>
<line x1="1753.25" y1="711.90" x2="1753.25" y2="618.70" stroke="#ef2413" stroke-width="3.8"/>
<circle cx="1753.25" cy="618.70" r="5.4" fill="none" stroke="#ef2413" stroke-width="3.9"/>
<line x1="1791.40" y1="711.90" x2="1791.40" y2="606.80" stroke="#ef2413" stroke-width="3.8"/>
<circle cx="1791.40" cy="606.80" r="5.4" fill="none" stroke="#ef2413" stroke-width="3.9"/>
<line x1="1867.70" y1="711.90" x2="1867.70" y2="570.20" stroke="#ef2413" stroke-width="3.8"/>
<circle cx="1867.70" cy="570.20" r="5.4" fill="none" stroke="#ef2413" stroke-width="3.9"/>
<line x1="1905.85" y1="711.90" x2="1905.85" y2="545.30" stroke="#ef2413" stroke-width="3.8"/>
<circle cx="1905.85" cy="545.30" r="5.4" fill="none" stroke="#ef2413" stroke-width="3.9"/>
<line x1="1944.00" y1="711.90" x2="1944.00" y2="549.20" stroke="#ef2413" stroke-width="3.8"/>
<circle cx="1944.00" cy="549.20" r="5.4" fill="none" stroke="#ef2413" stroke-width="3.9"/>
<line x1="1982.15" y1="711.90" x2="1982.15" y2="573.90" stroke="#ef2413" stroke-width="3.8"/>
<circle cx="1982.15" cy="573.90" r="5.4" fill="none" stroke="#ef2413" stroke-width="3.9"/>
<line x1="2020.30" y1="711.90" x2="2020.30" y2="624.20" stroke="#ef2413" stroke-width="3.8"/>
<circle cx="2020.30" cy="624.20" r="5.4" fill="none" stroke="#ef2413" stroke-width="3.9"/>
<line x1="2058.45" y1="711.90" x2="2058.45" y2="667.80" stroke="#ef2413" stroke-width="3.8"/>
<circle cx="2058.45" cy="667.80" r="5.4" fill="none" stroke="#ef2413" stroke-width="3.9"/>
<line x1="1371.75" y1="711.90" x2="1371.75" y2="476.30" stroke="#3f5ba9" stroke-width="3.8"/>
<circle cx="1371.75" cy="476.30" r="5.4" fill="none" stroke="#3f5ba9" stroke-width="3.9"/>
<line x1="1524.35" y1="711.90" x2="1524.35" y2="494.20" stroke="#3f5ba9" stroke-width="3.8"/>
<circle cx="1524.35" cy="494.20" r="5.4" fill="none" stroke="#3f5ba9" stroke-width="3.9"/>
<line x1="1676.95" y1="711.90" x2="1676.95" y2="546.00" stroke="#7030a0" stroke-width="3.8"/>
<circle cx="1676.95" cy="546.00" r="5.4" fill="none" stroke="#7030a0" stroke-width="3.9"/>
<line x1="1829.55" y1="711.90" x2="1829.55" y2="585.60" stroke="#77ad3f" stroke-width="3.8"/>
<circle cx="1829.55" cy="585.60" r="5.4" fill="none" stroke="#77ad3f" stroke-width="3.9"/>
</g>
<text transform="translate(1371.75,458.20)" fill="#000"><tspan x="-46.9" y="0" font-size="24.46" font-style="italic">f</tspan><tspan x="-36.1" y="3.7" font-size="15.57">1</tspan><tspan x="-26" y="2.5" font-size="28.22">=</tspan><tspan x="-8.2 4.1 16.5 23.1 35.4" y="0" font-size="23.17">10.53</tspan></text>
<text transform="translate(1524.35,458.20)" fill="#000"><tspan x="-46.9" y="0" font-size="24.46" font-style="italic">f</tspan><tspan x="-36.1" y="3.7" font-size="15.57">2</tspan><tspan x="-26" y="2.5" font-size="28.22">=</tspan><tspan x="-8.2 4.1 16.5 23.1 35.4" y="0" font-size="23.17">21.05</tspan></text>
<rect x="1915.80" y="384.40" width="229.10" height="138.90" fill="#fff" stroke="#303030" stroke-width="1.2"/>
<line x1="1921.70" y1="403.80" x2="1961.20" y2="403.80" stroke="#ef2413" stroke-width="3.4"/>
<circle cx="1961.20" cy="403.80" r="5.3" fill="none" stroke="#ef2413" stroke-width="3.8"/>
<text transform="translate(1982.80,410.80)" fill="#000"><tspan x="0.1 20 34.3" y="0" font-size="27.81">Non</tspan><tspan x="48.8" y="0" font-size="26.59">-</tspan><tspan x="57.6 69.9 83.8 95.9 104.9 113.8 126.5" y="0" font-size="27.81">excited</tspan></text>
<line x1="1921.70" y1="437.30" x2="1961.20" y2="437.30" stroke="#3f5ba9" stroke-width="3.4"/>
<circle cx="1961.20" cy="437.30" r="5.3" fill="none" stroke="#3f5ba9" stroke-width="3.8"/>
<text transform="translate(1982.80,444.30)" fill="#000"><tspan x="0.7 18.6 32.5 44.5 53.5 62.5 75.2" y="0" font-size="27.81">Excited</tspan></text>
<line x1="1921.70" y1="470.80" x2="1961.20" y2="470.80" stroke="#77ad3f" stroke-width="3.4"/>
<circle cx="1961.20" cy="470.80" r="5.3" fill="none" stroke="#77ad3f" stroke-width="3.8"/>
<text transform="translate(1982.80,477.80)" fill="#000"><tspan x="0.1" y="0" font-size="26.59">1</tspan><tspan x="13.5 22.5 29.3" y="-9.7" font-size="20.56">st </tspan><tspan x="38.9 53.9 67.5 77.8 99.7 114 128.3 135.8" y="0" font-size="27.81">harmonic</tspan></text>
<line x1="1921.70" y1="504.30" x2="1961.20" y2="504.30" stroke="#7030a0" stroke-width="3.4"/>
<circle cx="1961.20" cy="504.30" r="5.3" fill="none" stroke="#7030a0" stroke-width="3.8"/>
<text transform="translate(1982.80,511.30)" fill="#000"><tspan x="0.1" y="0" font-size="26.59">2</tspan><tspan x="14 25.2 36" y="-9.7" font-size="20.56">nd </tspan><tspan x="45.5 60.6 74.2 84.5 106.4 120.6 135 142.4" y="0" font-size="27.81">harmonic</tspan></text>
</g>
<g id="bot-c">
<path d="M140.3 1254.7V1534.9M169.1 1254.7V1534.9M197.9 1254.7V1534.9M226.7 1254.7V1534.9M284.3 1254.7V1534.9M313.1 1254.7V1534.9M341.9 1254.7V1534.9M370.7 1254.7V1534.9M428.3 1254.7V1534.9M457.1 1254.7V1534.9M485.9 1254.7V1534.9M514.7 1254.7V1534.9M572.3 1254.7V1534.9M601.1 1254.7V1534.9M629.9 1254.7V1534.9M658.7 1254.7V1534.9M716.3 1254.7V1534.9M745.1 1254.7V1534.9M773.9 1254.7V1534.9M802.7 1254.7V1534.9M860.3 1254.7V1534.9M889.1 1254.7V1534.9M917.9 1254.7V1534.9M946.7 1254.7V1534.9M118.6 1533.5H976.3M118.6 1515.5H976.3M118.6 1502.7H976.3M118.6 1492.8H976.3M118.6 1484.8H976.3M118.6 1477.9H976.3M118.6 1472H976.3M118.6 1466.8H976.3M118.6 1431.4H976.3M118.6 1413.4H976.3M118.6 1400.6H976.3M118.6 1390.7H976.3M118.6 1382.7H976.3M118.6 1375.8H976.3M118.6 1369.9H976.3M118.6 1364.7H976.3M118.6 1329.3H976.3M118.6 1311.3H976.3M118.6 1298.5H976.3M118.6 1288.6H976.3M118.6 1280.6H976.3M118.6 1273.7H976.3M118.6 1267.8H976.3M118.6 1262.6H976.3" fill="none" stroke="#cbcbcb" stroke-width="1.3" stroke-dasharray="1.3 4.4"/>
<path d="M255.5 1254.7V1534.9M399.5 1254.7V1534.9M543.5 1254.7V1534.9M687.5 1254.7V1534.9M831.5 1254.7V1534.9M118.6 1462.1H976.3M118.6 1360H976.3M118.6 1257.9H976.3" fill="none" stroke="#dcdcdc" stroke-width="1.4"/>
<path d="M255.5 1534.9V1526M255.5 1254.7V1263.6M399.5 1534.9V1526M399.5 1254.7V1263.6M543.5 1534.9V1526M543.5 1254.7V1263.6M687.5 1534.9V1526M687.5 1254.7V1263.6M831.5 1534.9V1526M831.5 1254.7V1263.6M140.3 1534.9V1529.8M140.3 1254.7V1259.8M169.1 1534.9V1529.8M169.1 1254.7V1259.8M197.9 1534.9V1529.8M197.9 1254.7V1259.8M226.7 1534.9V1529.8M226.7 1254.7V1259.8M284.3 1534.9V1529.8M284.3 1254.7V1259.8M313.1 1534.9V1529.8M313.1 1254.7V1259.8M341.9 1534.9V1529.8M341.9 1254.7V1259.8M370.7 1534.9V1529.8M370.7 1254.7V1259.8M428.3 1534.9V1529.8M428.3 1254.7V1259.8M457.1 1534.9V1529.8M457.1 1254.7V1259.8M485.9 1534.9V1529.8M485.9 1254.7V1259.8M514.7 1534.9V1529.8M514.7 1254.7V1259.8M572.3 1534.9V1529.8M572.3 1254.7V1259.8M601.1 1534.9V1529.8M601.1 1254.7V1259.8M629.9 1534.9V1529.8M629.9 1254.7V1259.8M658.7 1534.9V1529.8M658.7 1254.7V1259.8M716.3 1534.9V1529.8M716.3 1254.7V1259.8M745.1 1534.9V1529.8M745.1 1254.7V1259.8M773.9 1534.9V1529.8M773.9 1254.7V1259.8M802.7 1534.9V1529.8M802.7 1254.7V1259.8M860.3 1534.9V1529.8M860.3 1254.7V1259.8M889.1 1534.9V1529.8M889.1 1254.7V1259.8M917.9 1534.9V1529.8M917.9 1254.7V1259.8M946.7 1534.9V1529.8M946.7 1254.7V1259.8M118.6 1462.1H127.5M976.3 1462.1H967.4M118.6 1360H127.5M976.3 1360H967.4M118.6 1257.9H127.5M976.3 1257.9H967.4M118.6 1533.5H123.7M976.3 1533.5H971.2M118.6 1515.5H123.7M976.3 1515.5H971.2M118.6 1502.7H123.7M976.3 1502.7H971.2M118.6 1492.8H123.7M976.3 1492.8H971.2M118.6 1484.8H123.7M976.3 1484.8H971.2M118.6 1477.9H123.7M976.3 1477.9H971.2M118.6 1472H123.7M976.3 1472H971.2M118.6 1466.8H123.7M976.3 1466.8H971.2M118.6 1431.4H123.7M976.3 1431.4H971.2M118.6 1413.4H123.7M976.3 1413.4H971.2M118.6 1400.6H123.7M976.3 1400.6H971.2M118.6 1390.7H123.7M976.3 1390.7H971.2M118.6 1382.7H123.7M976.3 1382.7H971.2M118.6 1375.8H123.7M976.3 1375.8H971.2M118.6 1369.9H123.7M976.3 1369.9H971.2M118.6 1364.7H123.7M976.3 1364.7H971.2M118.6 1329.3H123.7M976.3 1329.3H971.2M118.6 1311.3H123.7M976.3 1311.3H971.2M118.6 1298.5H123.7M976.3 1298.5H971.2M118.6 1288.6H123.7M976.3 1288.6H971.2M118.6 1280.6H123.7M976.3 1280.6H971.2M118.6 1273.7H123.7M976.3 1273.7H971.2M118.6 1267.8H123.7M976.3 1267.8H971.2M118.6 1262.6H123.7M976.3 1262.6H971.2" fill="none" stroke="#303030" stroke-width="1.05"/>
<rect x="118.60" y="1254.70" width="857.70" height="280.20" fill="none" stroke="#303030" stroke-width="1.2"/>
<text transform="translate(255.50,1570.80)" fill="#000"><tspan x="-15.1 -0.1" y="0" font-size="30.58">10</tspan></text>
<text transform="translate(399.50,1570.80)" fill="#000"><tspan x="-15.1 -0.1" y="0" font-size="30.58">20</tspan></text>
<text transform="translate(543.50,1570.80)" fill="#000"><tspan x="-15.1 -0.1" y="0" font-size="30.58">30</tspan></text>
<text transform="translate(687.50,1570.80)" fill="#000"><tspan x="-15.1 -0.1" y="0" font-size="30.58">40</tspan></text>
<text transform="translate(831.50,1570.80)" fill="#000"><tspan x="-15.1 -0.1" y="0" font-size="30.58">50</tspan></text>
<text transform="translate(975.50,1570.80)" fill="#000"><tspan x="-15.1 -0.1" y="0" font-size="30.58">60</tspan></text>
<text transform="translate(108.00,1470.10)" fill="#000"><tspan x="-58.9 -43.9" y="0" font-size="30.58">10</tspan><tspan x="-27" y="-9.8" font-size="25.04">−</tspan><tspan x="-10.8" y="-10.8" font-size="20.55">3</tspan></text>
<text transform="translate(108.00,1368.00)" fill="#000"><tspan x="-58.9 -43.9" y="0" font-size="30.58">10</tspan><tspan x="-27" y="-9.8" font-size="25.04">−</tspan><tspan x="-10.8" y="-10.8" font-size="20.55">2</tspan></text>
<text transform="translate(108.00,1265.90)" fill="#000"><tspan x="-58.9 -43.9" y="0" font-size="30.58">10</tspan><tspan x="-27" y="-9.8" font-size="25.04">−</tspan><tspan x="-10.8" y="-10.8" font-size="20.55">1</tspan></text>
<text transform="translate(547.45,1611.20)" fill="#000"><tspan x="-108 -87 -75.1 -60 -42.1 -24.7 -9.1 8.3 23.4 40.6" y="0" font-size="33.99">Frequency </tspan><tspan x="49.9" y="2.3" font-size="37.95">[</tspan><tspan x="60.9 85.3" y="0" font-size="33.99">Hz</tspan><tspan x="98.5" y="2.3" font-size="37.95">]</tspan></text>
<text transform="translate(32.40,1394.80) rotate(-90)" fill="#000"><tspan x="-88" y="0.7" font-size="36.3">|</tspan><tspan x="-80.4" y="0" font-size="34.32" font-style="italic">δ</tspan><tspan x="-65.2" y="0" font-size="33.99">L</tspan><tspan x="-43.2 -34.3 -21.9" y="6.6" font-size="25.13">tar</tspan><tspan x="-12.3" y="0.7" font-size="35.64">(</tspan><tspan x="-0.6" y="0" font-size="33.99">f</tspan><tspan x="10.6" y="0.7" font-size="35.64">)</tspan><tspan x="23.9 32.1" y="0.7" font-size="36.3">| </tspan><tspan x="41.4" y="2.3" font-size="37.95">[</tspan><tspan x="52.8" y="0" font-size="33.99">m</tspan><tspan x="78" y="2.3" font-size="37.95">]</tspan></text>
<clipPath id="c9"><rect x="108.60" y="1244.70" width="877.70" height="290.20"/></clipPath>
<g clip-path="url(#c9)">
<line x1="118.60" y1="1434.00" x2="976.30" y2="1434.00" stroke="#1a1a1a" stroke-width="1.9" stroke-dasharray="13.8 9"/>
<line x1="153.50" y1="1534.90" x2="153.50" y2="1345.60" stroke="#ef2413" stroke-width="3.8"/>
<circle cx="153.50" cy="1345.60" r="5.4" fill="none" stroke="#ef2413" stroke-width="3.9"/>
<line x1="195.27" y1="1534.90" x2="195.27" y2="1348.10" stroke="#ef2413" stroke-width="3.8"/>
<circle cx="195.27" cy="1348.10" r="5.4" fill="none" stroke="#ef2413" stroke-width="3.9"/>
<line x1="278.81" y1="1534.90" x2="278.81" y2="1390.90" stroke="#ef2413" stroke-width="3.8"/>
<circle cx="278.81" cy="1390.90" r="5.4" fill="none" stroke="#ef2413" stroke-width="3.9"/>
<line x1="320.58" y1="1534.90" x2="320.58" y2="1425.30" stroke="#ef2413" stroke-width="3.8"/>
<circle cx="320.58" cy="1425.30" r="5.4" fill="none" stroke="#ef2413" stroke-width="3.9"/>
<line x1="404.12" y1="1534.90" x2="404.12" y2="1396.40" stroke="#ef2413" stroke-width="3.8"/>
<circle cx="404.12" cy="1396.40" r="5.4" fill="none" stroke="#ef2413" stroke-width="3.9"/>
<line x1="445.89" y1="1534.90" x2="445.89" y2="1377.70" stroke="#ef2413" stroke-width="3.8"/>
<circle cx="445.89" cy="1377.70" r="5.4" fill="none" stroke="#ef2413" stroke-width="3.9"/>
<line x1="529.43" y1="1534.90" x2="529.43" y2="1435.00" stroke="#ef2413" stroke-width="3.8"/>
<circle cx="529.43" cy="1435.00" r="5.4" fill="none" stroke="#ef2413" stroke-width="3.9"/>
<line x1="571.20" y1="1534.90" x2="571.20" y2="1420.30" stroke="#ef2413" stroke-width="3.8"/>
<circle cx="571.20" cy="1420.30" r="5.4" fill="none" stroke="#ef2413" stroke-width="3.9"/>
<line x1="612.97" y1="1534.90" x2="612.97" y2="1450.40" stroke="#ef2413" stroke-width="3.8"/>
<circle cx="612.97" cy="1450.40" r="5.4" fill="none" stroke="#ef2413" stroke-width="3.9"/>
<line x1="654.74" y1="1534.90" x2="654.74" y2="1451.20" stroke="#ef2413" stroke-width="3.8"/>
<circle cx="654.74" cy="1451.20" r="5.4" fill="none" stroke="#ef2413" stroke-width="3.9"/>
<line x1="696.51" y1="1534.90" x2="696.51" y2="1426.80" stroke="#ef2413" stroke-width="3.8"/>
<circle cx="696.51" cy="1426.80" r="5.4" fill="none" stroke="#ef2413" stroke-width="3.9"/>
<line x1="738.28" y1="1534.90" x2="738.28" y2="1406.10" stroke="#ef2413" stroke-width="3.8"/>
<circle cx="738.28" cy="1406.10" r="5.4" fill="none" stroke="#ef2413" stroke-width="3.9"/>
<line x1="780.05" y1="1534.90" x2="780.05" y2="1454.90" stroke="#ef2413" stroke-width="3.8"/>
<circle cx="780.05" cy="1454.90" r="5.4" fill="none" stroke="#ef2413" stroke-width="3.9"/>
<line x1="821.82" y1="1534.90" x2="821.82" y2="1418.60" stroke="#ef2413" stroke-width="3.8"/>
<circle cx="821.82" cy="1418.60" r="5.4" fill="none" stroke="#ef2413" stroke-width="3.9"/>
<line x1="863.59" y1="1534.90" x2="863.59" y2="1419.30" stroke="#ef2413" stroke-width="3.8"/>
<circle cx="863.59" cy="1419.30" r="5.4" fill="none" stroke="#ef2413" stroke-width="3.9"/>
<line x1="905.36" y1="1534.90" x2="905.36" y2="1487.00" stroke="#ef2413" stroke-width="3.8"/>
<circle cx="905.36" cy="1487.00" r="5.4" fill="none" stroke="#ef2413" stroke-width="3.9"/>
<line x1="947.13" y1="1534.90" x2="947.13" y2="1404.60" stroke="#ef2413" stroke-width="3.8"/>
<circle cx="947.13" cy="1404.60" r="5.4" fill="none" stroke="#ef2413" stroke-width="3.9"/>
<line x1="237.04" y1="1534.90" x2="237.04" y2="1303.30" stroke="#3f5ba9" stroke-width="3.8"/>
<circle cx="237.04" cy="1303.30" r="5.4" fill="none" stroke="#3f5ba9" stroke-width="3.9"/>
<line x1="362.35" y1="1534.90" x2="362.35" y2="1469.10" stroke="#77ad3f" stroke-width="3.8"/>
<circle cx="362.35" cy="1469.10" r="5.4" fill="none" stroke="#77ad3f" stroke-width="3.9"/>
<line x1="487.66" y1="1534.90" x2="487.66" y2="1390.40" stroke="#7030a0" stroke-width="3.8"/>
<circle cx="487.66" cy="1390.40" r="5.4" fill="none" stroke="#7030a0" stroke-width="3.9"/>
</g>
<text transform="translate(237.04,1281.20)" fill="#000"><tspan x="-34.7" y="0" font-size="24.46" font-style="italic">f</tspan><tspan x="-23.8" y="3.7" font-size="15.57">1</tspan><tspan x="-13.8" y="2.5" font-size="28.22">=</tspan><tspan x="4.1 16.5 23.1" y="0" font-size="23.17">8.7</tspan></text>
<rect x="808.60" y="1207.40" width="229.10" height="138.90" fill="#fff" stroke="#303030" stroke-width="1.2"/>
<line x1="814.50" y1="1226.80" x2="854.00" y2="1226.80" stroke="#ef2413" stroke-width="3.4"/>
<circle cx="854.00" cy="1226.80" r="5.3" fill="none" stroke="#ef2413" stroke-width="3.8"/>
<text transform="translate(875.60,1233.80)" fill="#000"><tspan x="0.1 20 34.3" y="0" font-size="27.81">Non</tspan><tspan x="48.8" y="0" font-size="26.59">-</tspan><tspan x="57.6 69.9 83.8 95.9 104.9 113.8 126.5" y="0" font-size="27.81">excited</tspan></text>
<line x1="814.50" y1="1260.30" x2="854.00" y2="1260.30" stroke="#3f5ba9" stroke-width="3.4"/>
<circle cx="854.00" cy="1260.30" r="5.3" fill="none" stroke="#3f5ba9" stroke-width="3.8"/>
<text transform="translate(875.60,1267.30)" fill="#000"><tspan x="0.7 18.6 32.5 44.5 53.5 62.5 75.2" y="0" font-size="27.81">Excited</tspan></text>
<line x1="814.50" y1="1293.80" x2="854.00" y2="1293.80" stroke="#77ad3f" stroke-width="3.4"/>
<circle cx="854.00" cy="1293.80" r="5.3" fill="none" stroke="#77ad3f" stroke-width="3.8"/>
<text transform="translate(875.60,1300.80)" fill="#000"><tspan x="0.1" y="0" font-size="26.59">1</tspan><tspan x="13.5 22.5 29.3" y="-9.7" font-size="20.56">st </tspan><tspan x="38.9 53.9 67.5 77.8 99.7 114 128.3 135.8" y="0" font-size="27.81">harmonic</tspan></text>
<line x1="814.50" y1="1327.30" x2="854.00" y2="1327.30" stroke="#7030a0" stroke-width="3.4"/>
<circle cx="854.00" cy="1327.30" r="5.3" fill="none" stroke="#7030a0" stroke-width="3.8"/>
<text transform="translate(875.60,1334.30)" fill="#000"><tspan x="0.1" y="0" font-size="26.59">2</tspan><tspan x="14 25.2 36" y="-9.7" font-size="20.56">nd </tspan><tspan x="45.5 60.6 74.2 84.5 106.4 120.6 135 142.4" y="0" font-size="27.81">harmonic</tspan></text>
</g>
<g id="bot-d">
<path d="M1247.5 1254.7V1534.9M1276.3 1254.7V1534.9M1305.1 1254.7V1534.9M1333.9 1254.7V1534.9M1391.5 1254.7V1534.9M1420.3 1254.7V1534.9M1449.1 1254.7V1534.9M1477.9 1254.7V1534.9M1535.5 1254.7V1534.9M1564.3 1254.7V1534.9M1593.1 1254.7V1534.9M1621.9 1254.7V1534.9M1679.5 1254.7V1534.9M1708.3 1254.7V1534.9M1737.1 1254.7V1534.9M1765.9 1254.7V1534.9M1823.5 1254.7V1534.9M1852.3 1254.7V1534.9M1881.1 1254.7V1534.9M1909.9 1254.7V1534.9M1967.5 1254.7V1534.9M1996.3 1254.7V1534.9M2025.1 1254.7V1534.9M2053.9 1254.7V1534.9M1225.8 1533.9H2083.5M1225.8 1529H2083.5M1225.8 1495.2H2083.5M1225.8 1478H2083.5M1225.8 1465.9H2083.5M1225.8 1456.4H2083.5M1225.8 1448.7H2083.5M1225.8 1442.2H2083.5M1225.8 1436.5H2083.5M1225.8 1431.6H2083.5M1225.8 1397.8H2083.5M1225.8 1380.6H2083.5M1225.8 1368.5H2083.5M1225.8 1359H2083.5M1225.8 1351.3H2083.5M1225.8 1344.8H2083.5M1225.8 1339.1H2083.5M1225.8 1334.2H2083.5M1225.8 1300.4H2083.5M1225.8 1283.2H2083.5M1225.8 1271.1H2083.5M1225.8 1261.6H2083.5" fill="none" stroke="#cbcbcb" stroke-width="1.3" stroke-dasharray="1.3 4.4"/>
<path d="M1362.7 1254.7V1534.9M1506.7 1254.7V1534.9M1650.7 1254.7V1534.9M1794.7 1254.7V1534.9M1938.7 1254.7V1534.9M1225.8 1524.5H2083.5M1225.8 1427.1H2083.5M1225.8 1329.7H2083.5" fill="none" stroke="#dcdcdc" stroke-width="1.4"/>
<path d="M1362.7 1534.9V1526M1362.7 1254.7V1263.6M1506.7 1534.9V1526M1506.7 1254.7V1263.6M1650.7 1534.9V1526M1650.7 1254.7V1263.6M1794.7 1534.9V1526M1794.7 1254.7V1263.6M1938.7 1534.9V1526M1938.7 1254.7V1263.6M1247.5 1534.9V1529.8M1247.5 1254.7V1259.8M1276.3 1534.9V1529.8M1276.3 1254.7V1259.8M1305.1 1534.9V1529.8M1305.1 1254.7V1259.8M1333.9 1534.9V1529.8M1333.9 1254.7V1259.8M1391.5 1534.9V1529.8M1391.5 1254.7V1259.8M1420.3 1534.9V1529.8M1420.3 1254.7V1259.8M1449.1 1534.9V1529.8M1449.1 1254.7V1259.8M1477.9 1534.9V1529.8M1477.9 1254.7V1259.8M1535.5 1534.9V1529.8M1535.5 1254.7V1259.8M1564.3 1534.9V1529.8M1564.3 1254.7V1259.8M1593.1 1534.9V1529.8M1593.1 1254.7V1259.8M1621.9 1534.9V1529.8M1621.9 1254.7V1259.8M1679.5 1534.9V1529.8M1679.5 1254.7V1259.8M1708.3 1534.9V1529.8M1708.3 1254.7V1259.8M1737.1 1534.9V1529.8M1737.1 1254.7V1259.8M1765.9 1534.9V1529.8M1765.9 1254.7V1259.8M1823.5 1534.9V1529.8M1823.5 1254.7V1259.8M1852.3 1534.9V1529.8M1852.3 1254.7V1259.8M1881.1 1534.9V1529.8M1881.1 1254.7V1259.8M1909.9 1534.9V1529.8M1909.9 1254.7V1259.8M1967.5 1534.9V1529.8M1967.5 1254.7V1259.8M1996.3 1534.9V1529.8M1996.3 1254.7V1259.8M2025.1 1534.9V1529.8M2025.1 1254.7V1259.8M2053.9 1534.9V1529.8M2053.9 1254.7V1259.8M1225.8 1524.5H1234.7M2083.5 1524.5H2074.6M1225.8 1427.1H1234.7M2083.5 1427.1H2074.6M1225.8 1329.7H1234.7M2083.5 1329.7H2074.6M1225.8 1533.9H1230.9M2083.5 1533.9H2078.4M1225.8 1529H1230.9M2083.5 1529H2078.4M1225.8 1495.2H1230.9M2083.5 1495.2H2078.4M1225.8 1478H1230.9M2083.5 1478H2078.4M1225.8 1465.9H1230.9M2083.5 1465.9H2078.4M1225.8 1456.4H1230.9M2083.5 1456.4H2078.4M1225.8 1448.7H1230.9M2083.5 1448.7H2078.4M1225.8 1442.2H1230.9M2083.5 1442.2H2078.4M1225.8 1436.5H1230.9M2083.5 1436.5H2078.4M1225.8 1431.6H1230.9M2083.5 1431.6H2078.4M1225.8 1397.8H1230.9M2083.5 1397.8H2078.4M1225.8 1380.6H1230.9M2083.5 1380.6H2078.4M1225.8 1368.5H1230.9M2083.5 1368.5H2078.4M1225.8 1359H1230.9M2083.5 1359H2078.4M1225.8 1351.3H1230.9M2083.5 1351.3H2078.4M1225.8 1344.8H1230.9M2083.5 1344.8H2078.4M1225.8 1339.1H1230.9M2083.5 1339.1H2078.4M1225.8 1334.2H1230.9M2083.5 1334.2H2078.4M1225.8 1300.4H1230.9M2083.5 1300.4H2078.4M1225.8 1283.2H1230.9M2083.5 1283.2H2078.4M1225.8 1271.1H1230.9M2083.5 1271.1H2078.4M1225.8 1261.6H1230.9M2083.5 1261.6H2078.4" fill="none" stroke="#303030" stroke-width="1.05"/>
<rect x="1225.80" y="1254.70" width="857.70" height="280.20" fill="none" stroke="#303030" stroke-width="1.2"/>
<text transform="translate(1362.70,1570.80)" fill="#000"><tspan x="-15.1 -0.1" y="0" font-size="30.58">10</tspan></text>
<text transform="translate(1506.70,1570.80)" fill="#000"><tspan x="-15.1 -0.1" y="0" font-size="30.58">20</tspan></text>
<text transform="translate(1650.70,1570.80)" fill="#000"><tspan x="-15.1 -0.1" y="0" font-size="30.58">30</tspan></text>
<text transform="translate(1794.70,1570.80)" fill="#000"><tspan x="-15.1 -0.1" y="0" font-size="30.58">40</tspan></text>
<text transform="translate(1938.70,1570.80)" fill="#000"><tspan x="-15.1 -0.1" y="0" font-size="30.58">50</tspan></text>
<text transform="translate(2082.70,1570.80)" fill="#000"><tspan x="-15.1 -0.1" y="0" font-size="30.58">60</tspan></text>
<text transform="translate(1215.20,1532.50)" fill="#000"><tspan x="-58.9 -43.9" y="0" font-size="30.58">10</tspan><tspan x="-27" y="-9.8" font-size="25.04">−</tspan><tspan x="-10.8" y="-10.8" font-size="20.55">4</tspan></text>
<text transform="translate(1215.20,1435.10)" fill="#000"><tspan x="-58.9 -43.9" y="0" font-size="30.58">10</tspan><tspan x="-27" y="-9.8" font-size="25.04">−</tspan><tspan x="-10.8" y="-10.8" font-size="20.55">3</tspan></text>
<text transform="translate(1215.20,1337.70)" fill="#000"><tspan x="-58.9 -43.9" y="0" font-size="30.58">10</tspan><tspan x="-27" y="-9.8" font-size="25.04">−</tspan><tspan x="-10.8" y="-10.8" font-size="20.55">2</tspan></text>
<text transform="translate(1654.65,1611.20)" fill="#000"><tspan x="-108 -87 -75.1 -60 -42.1 -24.7 -9.1 8.3 23.4 40.6" y="0" font-size="33.99">Frequency </tspan><tspan x="49.9" y="2.3" font-size="37.95">[</tspan><tspan x="60.9 85.3" y="0" font-size="33.99">Hz</tspan><tspan x="98.5" y="2.3" font-size="37.95">]</tspan></text>
<text transform="translate(1139.60,1394.80) rotate(-90)" fill="#000"><tspan x="-88" y="0.7" font-size="36.3">|</tspan><tspan x="-80.4" y="0" font-size="34.32" font-style="italic">δ</tspan><tspan x="-65.2" y="0" font-size="33.99">L</tspan><tspan x="-43.2 -34.3 -21.9" y="6.6" font-size="25.13">tar</tspan><tspan x="-12.3" y="0.7" font-size="35.64">(</tspan><tspan x="-0.6" y="0" font-size="33.99">f</tspan><tspan x="10.6" y="0.7" font-size="35.64">)</tspan><tspan x="23.9 32.1" y="0.7" font-size="36.3">| </tspan><tspan x="41.4" y="2.3" font-size="37.95">[</tspan><tspan x="52.8" y="0" font-size="33.99">m</tspan><tspan x="78" y="2.3" font-size="37.95">]</tspan></text>
<clipPath id="c10"><rect x="1215.80" y="1244.70" width="877.70" height="290.20"/></clipPath>
<g clip-path="url(#c10)">
<line x1="1225.80" y1="1428.50" x2="2083.50" y2="1428.50" stroke="#1a1a1a" stroke-width="1.9" stroke-dasharray="13.8 9"/>
<line x1="1250.60" y1="1534.90" x2="1250.60" y2="1365.50" stroke="#ef2413" stroke-width="3.8"/>
<circle cx="1250.60" cy="1365.50" r="5.4" fill="none" stroke="#ef2413" stroke-width="3.9"/>
<line x1="1281.90" y1="1534.90" x2="1281.90" y2="1388.70" stroke="#ef2413" stroke-width="3.8"/>
<circle cx="1281.90" cy="1388.70" r="5.4" fill="none" stroke="#ef2413" stroke-width="3.9"/>
<line x1="1313.20" y1="1534.90" x2="1313.20" y2="1447.70" stroke="#ef2413" stroke-width="3.8"/>
<circle cx="1313.20" cy="1447.70" r="5.4" fill="none" stroke="#ef2413" stroke-width="3.9"/>
<line x1="1375.80" y1="1534.90" x2="1375.80" y2="1466.60" stroke="#ef2413" stroke-width="3.8"/>
<circle cx="1375.80" cy="1466.60" r="5.4" fill="none" stroke="#ef2413" stroke-width="3.9"/>
<line x1="1407.10" y1="1534.90" x2="1407.10" y2="1397.60" stroke="#ef2413" stroke-width="3.8"/>
<circle cx="1407.10" cy="1397.60" r="5.4" fill="none" stroke="#ef2413" stroke-width="3.9"/>
<line x1="1438.40" y1="1534.90" x2="1438.40" y2="1380.00" stroke="#ef2413" stroke-width="3.8"/>
<circle cx="1438.40" cy="1380.00" r="5.4" fill="none" stroke="#ef2413" stroke-width="3.9"/>
<line x1="1501.00" y1="1534.90" x2="1501.00" y2="1404.10" stroke="#ef2413" stroke-width="3.8"/>
<circle cx="1501.00" cy="1404.10" r="5.4" fill="none" stroke="#ef2413" stroke-width="3.9"/>
<line x1="1532.30" y1="1534.90" x2="1532.30" y2="1435.50" stroke="#ef2413" stroke-width="3.8"/>
<circle cx="1532.30" cy="1435.50" r="5.4" fill="none" stroke="#ef2413" stroke-width="3.9"/>
<line x1="1563.60" y1="1534.90" x2="1563.60" y2="1457.70" stroke="#ef2413" stroke-width="3.8"/>
<circle cx="1563.60" cy="1457.70" r="5.4" fill="none" stroke="#ef2413" stroke-width="3.9"/>
<line x1="1626.20" y1="1534.90" x2="1626.20" y2="1412.30" stroke="#ef2413" stroke-width="3.8"/>
<circle cx="1626.20" cy="1412.30" r="5.4" fill="none" stroke="#ef2413" stroke-width="3.9"/>
<line x1="1657.50" y1="1534.90" x2="1657.50" y2="1419.30" stroke="#ef2413" stroke-width="3.8"/>
<circle cx="1657.50" cy="1419.30" r="5.4" fill="none" stroke="#ef2413" stroke-width="3.9"/>
<line x1="1688.80" y1="1534.90" x2="1688.80" y2="1444.70" stroke="#ef2413" stroke-width="3.8"/>
<circle cx="1688.80" cy="1444.70" r="5.4" fill="none" stroke="#ef2413" stroke-width="3.9"/>
<line x1="1720.10" y1="1534.90" x2="1720.10" y2="1401.40" stroke="#ef2413" stroke-width="3.8"/>
<circle cx="1720.10" cy="1401.40" r="5.4" fill="none" stroke="#ef2413" stroke-width="3.9"/>
<line x1="1751.40" y1="1534.90" x2="1751.40" y2="1422.60" stroke="#ef2413" stroke-width="3.8"/>
<circle cx="1751.40" cy="1422.60" r="5.4" fill="none" stroke="#ef2413" stroke-width="3.9"/>
<line x1="1782.70" y1="1534.90" x2="1782.70" y2="1489.50" stroke="#ef2413" stroke-width="3.8"/>
<circle cx="1782.70" cy="1489.50" r="5.4" fill="none" stroke="#ef2413" stroke-width="3.9"/>
<line x1="1814.00" y1="1534.90" x2="1814.00" y2="1409.90" stroke="#ef2413" stroke-width="3.8"/>
<circle cx="1814.00" cy="1409.90" r="5.4" fill="none" stroke="#ef2413" stroke-width="3.9"/>
<line x1="1845.30" y1="1534.90" x2="1845.30" y2="1421.80" stroke="#ef2413" stroke-width="3.8"/>
<circle cx="1845.30" cy="1421.80" r="5.4" fill="none" stroke="#ef2413" stroke-width="3.9"/>
<line x1="1876.60" y1="1534.90" x2="1876.60" y2="1464.60" stroke="#ef2413" stroke-width="3.8"/>
<circle cx="1876.60" cy="1464.60" r="5.4" fill="none" stroke="#ef2413" stroke-width="3.9"/>
<line x1="1907.90" y1="1534.90" x2="1907.90" y2="1431.80" stroke="#ef2413" stroke-width="3.8"/>
<circle cx="1907.90" cy="1431.80" r="5.4" fill="none" stroke="#ef2413" stroke-width="3.9"/>
<line x1="1939.20" y1="1534.90" x2="1939.20" y2="1412.30" stroke="#ef2413" stroke-width="3.8"/>
<circle cx="1939.20" cy="1412.30" r="5.4" fill="none" stroke="#ef2413" stroke-width="3.9"/>
<line x1="1970.50" y1="1534.90" x2="1970.50" y2="1459.20" stroke="#ef2413" stroke-width="3.8"/>
<circle cx="1970.50" cy="1459.20" r="5.4" fill="none" stroke="#ef2413" stroke-width="3.9"/>
<line x1="2001.80" y1="1534.90" x2="2001.80" y2="1436.00" stroke="#ef2413" stroke-width="3.8"/>
<circle cx="2001.80" cy="1436.00" r="5.4" fill="none" stroke="#ef2413" stroke-width="3.9"/>
<line x1="2033.10" y1="1534.90" x2="2033.10" y2="1391.40" stroke="#ef2413" stroke-width="3.8"/>
<circle cx="2033.10" cy="1391.40" r="5.4" fill="none" stroke="#ef2413" stroke-width="3.9"/>
<line x1="2064.40" y1="1534.90" x2="2064.40" y2="1430.30" stroke="#ef2413" stroke-width="3.8"/>
<circle cx="2064.40" cy="1430.30" r="5.4" fill="none" stroke="#ef2413" stroke-width="3.9"/>
<line x1="1344.50" y1="1534.90" x2="1344.50" y2="1301.00" stroke="#3f5ba9" stroke-width="3.8"/>
<circle cx="1344.50" cy="1301.00" r="5.4" fill="none" stroke="#3f5ba9" stroke-width="3.9"/>
<line x1="1469.70" y1="1534.90" x2="1469.70" y2="1417.30" stroke="#77ad3f" stroke-width="3.8"/>
<circle cx="1469.70" cy="1417.30" r="5.4" fill="none" stroke="#77ad3f" stroke-width="3.9"/>
<line x1="1594.90" y1="1534.90" x2="1594.90" y2="1407.40" stroke="#7030a0" stroke-width="3.8"/>
<circle cx="1594.90" cy="1407.40" r="5.4" fill="none" stroke="#7030a0" stroke-width="3.9"/>
</g>
<text transform="translate(1344.50,1281.20)" fill="#000"><tspan x="-34.7" y="0" font-size="24.46" font-style="italic">f</tspan><tspan x="-23.8" y="3.7" font-size="15.57">1</tspan><tspan x="-13.8" y="2.5" font-size="28.22">=</tspan><tspan x="4.1 16.5 23.1" y="0" font-size="23.17">8.7</tspan></text>
<rect x="1915.80" y="1207.40" width="229.10" height="138.90" fill="#fff" stroke="#303030" stroke-width="1.2"/>
<line x1="1921.70" y1="1226.80" x2="1961.20" y2="1226.80" stroke="#ef2413" stroke-width="3.4"/>
<circle cx="1961.20" cy="1226.80" r="5.3" fill="none" stroke="#ef2413" stroke-width="3.8"/>
<text transform="translate(1982.80,1233.80)" fill="#000"><tspan x="0.1 20 34.3" y="0" font-size="27.81">Non</tspan><tspan x="48.8" y="0" font-size="26.59">-</tspan><tspan x="57.6 69.9 83.8 95.9 104.9 113.8 126.5" y="0" font-size="27.81">excited</tspan></text>
<line x1="1921.70" y1="1260.30" x2="1961.20" y2="1260.30" stroke="#3f5ba9" stroke-width="3.4"/>
<circle cx="1961.20" cy="1260.30" r="5.3" fill="none" stroke="#3f5ba9" stroke-width="3.8"/>
<text transform="translate(1982.80,1267.30)" fill="#000"><tspan x="0.7 18.6 32.5 44.5 53.5 62.5 75.2" y="0" font-size="27.81">Excited</tspan></text>
<line x1="1921.70" y1="1293.80" x2="1961.20" y2="1293.80" stroke="#77ad3f" stroke-width="3.4"/>
<circle cx="1961.20" cy="1293.80" r="5.3" fill="none" stroke="#77ad3f" stroke-width="3.8"/>
<text transform="translate(1982.80,1300.80)" fill="#000"><tspan x="0.1" y="0" font-size="26.59">1</tspan><tspan x="13.5 22.5 29.3" y="-9.7" font-size="20.56">st </tspan><tspan x="38.9 53.9 67.5 77.8 99.7 114 128.3 135.8" y="0" font-size="27.81">harmonic</tspan></text>
<line x1="1921.70" y1="1327.30" x2="1961.20" y2="1327.30" stroke="#7030a0" stroke-width="3.4"/>
<circle cx="1961.20" cy="1327.30" r="5.3" fill="none" stroke="#7030a0" stroke-width="3.8"/>
<text transform="translate(1982.80,1334.30)" fill="#000"><tspan x="0.1" y="0" font-size="26.59">2</tspan><tspan x="14 25.2 36" y="-9.7" font-size="20.56">nd </tspan><tspan x="45.5 60.6 74.2 84.5 106.4 120.6 135 142.4" y="0" font-size="27.81">harmonic</tspan></text>
</g>
<g id="bot-e">
<path d="M140.3 2077.6V2358.3M169.1 2077.6V2358.3M197.9 2077.6V2358.3M226.7 2077.6V2358.3M284.3 2077.6V2358.3M313.1 2077.6V2358.3M341.9 2077.6V2358.3M370.7 2077.6V2358.3M428.3 2077.6V2358.3M457.1 2077.6V2358.3M485.9 2077.6V2358.3M514.7 2077.6V2358.3M572.3 2077.6V2358.3M601.1 2077.6V2358.3M629.9 2077.6V2358.3M658.7 2077.6V2358.3M716.3 2077.6V2358.3M745.1 2077.6V2358.3M773.9 2077.6V2358.3M802.7 2077.6V2358.3M860.3 2077.6V2358.3M889.1 2077.6V2358.3M917.9 2077.6V2358.3M946.7 2077.6V2358.3M118.6 2319.7H976.3M118.6 2297.4H976.3M118.6 2281.6H976.3M118.6 2269.3H976.3M118.6 2259.3H976.3M118.6 2250.8H976.3M118.6 2243.5H976.3M118.6 2237H976.3M118.6 2193.1H976.3M118.6 2170.8H976.3M118.6 2155H976.3M118.6 2142.7H976.3M118.6 2132.7H976.3M118.6 2124.2H976.3M118.6 2116.9H976.3M118.6 2110.4H976.3" fill="none" stroke="#cbcbcb" stroke-width="1.3" stroke-dasharray="1.3 4.4"/>
<path d="M255.5 2077.6V2358.3M399.5 2077.6V2358.3M543.5 2077.6V2358.3M687.5 2077.6V2358.3M831.5 2077.6V2358.3M118.6 2357.8H976.3M118.6 2231.2H976.3M118.6 2104.6H976.3" fill="none" stroke="#dcdcdc" stroke-width="1.4"/>
<path d="M255.5 2358.3V2349.4M255.5 2077.6V2086.5M399.5 2358.3V2349.4M399.5 2077.6V2086.5M543.5 2358.3V2349.4M543.5 2077.6V2086.5M687.5 2358.3V2349.4M687.5 2077.6V2086.5M831.5 2358.3V2349.4M831.5 2077.6V2086.5M140.3 2358.3V2353.2M140.3 2077.6V2082.7M169.1 2358.3V2353.2M169.1 2077.6V2082.7M197.9 2358.3V2353.2M197.9 2077.6V2082.7M226.7 2358.3V2353.2M226.7 2077.6V2082.7M284.3 2358.3V2353.2M284.3 2077.6V2082.7M313.1 2358.3V2353.2M313.1 2077.6V2082.7M341.9 2358.3V2353.2M341.9 2077.6V2082.7M370.7 2358.3V2353.2M370.7 2077.6V2082.7M428.3 2358.3V2353.2M428.3 2077.6V2082.7M457.1 2358.3V2353.2M457.1 2077.6V2082.7M485.9 2358.3V2353.2M485.9 2077.6V2082.7M514.7 2358.3V2353.2M514.7 2077.6V2082.7M572.3 2358.3V2353.2M572.3 2077.6V2082.7M601.1 2358.3V2353.2M601.1 2077.6V2082.7M629.9 2358.3V2353.2M629.9 2077.6V2082.7M658.7 2358.3V2353.2M658.7 2077.6V2082.7M716.3 2358.3V2353.2M716.3 2077.6V2082.7M745.1 2358.3V2353.2M745.1 2077.6V2082.7M773.9 2358.3V2353.2M773.9 2077.6V2082.7M802.7 2358.3V2353.2M802.7 2077.6V2082.7M860.3 2358.3V2353.2M860.3 2077.6V2082.7M889.1 2358.3V2353.2M889.1 2077.6V2082.7M917.9 2358.3V2353.2M917.9 2077.6V2082.7M946.7 2358.3V2353.2M946.7 2077.6V2082.7M118.6 2357.8H127.5M976.3 2357.8H967.4M118.6 2231.2H127.5M976.3 2231.2H967.4M118.6 2104.6H127.5M976.3 2104.6H967.4M118.6 2319.7H123.7M976.3 2319.7H971.2M118.6 2297.4H123.7M976.3 2297.4H971.2M118.6 2281.6H123.7M976.3 2281.6H971.2M118.6 2269.3H123.7M976.3 2269.3H971.2M118.6 2259.3H123.7M976.3 2259.3H971.2M118.6 2250.8H123.7M976.3 2250.8H971.2M118.6 2243.5H123.7M976.3 2243.5H971.2M118.6 2237H123.7M976.3 2237H971.2M118.6 2193.1H123.7M976.3 2193.1H971.2M118.6 2170.8H123.7M976.3 2170.8H971.2M118.6 2155H123.7M976.3 2155H971.2M118.6 2142.7H123.7M976.3 2142.7H971.2M118.6 2132.7H123.7M976.3 2132.7H971.2M118.6 2124.2H123.7M976.3 2124.2H971.2M118.6 2116.9H123.7M976.3 2116.9H971.2M118.6 2110.4H123.7M976.3 2110.4H971.2" fill="none" stroke="#303030" stroke-width="1.05"/>
<rect x="118.60" y="2077.60" width="857.70" height="280.70" fill="none" stroke="#303030" stroke-width="1.2"/>
<text transform="translate(255.50,2394.20)" fill="#000"><tspan x="-15.1 -0.1" y="0" font-size="30.58">10</tspan></text>
<text transform="translate(399.50,2394.20)" fill="#000"><tspan x="-15.1 -0.1" y="0" font-size="30.58">20</tspan></text>
<text transform="translate(543.50,2394.20)" fill="#000"><tspan x="-15.1 -0.1" y="0" font-size="30.58">30</tspan></text>
<text transform="translate(687.50,2394.20)" fill="#000"><tspan x="-15.1 -0.1" y="0" font-size="30.58">40</tspan></text>
<text transform="translate(831.50,2394.20)" fill="#000"><tspan x="-15.1 -0.1" y="0" font-size="30.58">50</tspan></text>
<text transform="translate(975.50,2394.20)" fill="#000"><tspan x="-15.1 -0.1" y="0" font-size="30.58">60</tspan></text>
<text transform="translate(108.00,2365.80)" fill="#000"><tspan x="-58.9 -43.9" y="0" font-size="30.58">10</tspan><tspan x="-27" y="-9.8" font-size="25.04">−</tspan><tspan x="-10.8" y="-10.8" font-size="20.55">4</tspan></text>
<text transform="translate(108.00,2239.20)" fill="#000"><tspan x="-58.9 -43.9" y="0" font-size="30.58">10</tspan><tspan x="-27" y="-9.8" font-size="25.04">−</tspan><tspan x="-10.8" y="-10.8" font-size="20.55">3</tspan></text>
<text transform="translate(108.00,2112.60)" fill="#000"><tspan x="-58.9 -43.9" y="0" font-size="30.58">10</tspan><tspan x="-27" y="-9.8" font-size="25.04">−</tspan><tspan x="-10.8" y="-10.8" font-size="20.55">2</tspan></text>
<text transform="translate(547.45,2434.60)" fill="#000"><tspan x="-108 -87 -75.1 -60 -42.1 -24.7 -9.1 8.3 23.4 40.6" y="0" font-size="33.99">Frequency </tspan><tspan x="49.9" y="2.3" font-size="37.95">[</tspan><tspan x="60.9 85.3" y="0" font-size="33.99">Hz</tspan><tspan x="98.5" y="2.3" font-size="37.95">]</tspan></text>
<text transform="translate(32.40,2217.95) rotate(-90)" fill="#000"><tspan x="-88" y="0.7" font-size="36.3">|</tspan><tspan x="-80.4" y="0" font-size="34.32" font-style="italic">δ</tspan><tspan x="-65.2" y="0" font-size="33.99">L</tspan><tspan x="-43.2 -34.3 -21.9" y="6.6" font-size="25.13">tar</tspan><tspan x="-12.3" y="0.7" font-size="35.64">(</tspan><tspan x="-0.6" y="0" font-size="33.99">f</tspan><tspan x="10.6" y="0.7" font-size="35.64">)</tspan><tspan x="23.9 32.1" y="0.7" font-size="36.3">| </tspan><tspan x="41.4" y="2.3" font-size="37.95">[</tspan><tspan x="52.8" y="0" font-size="33.99">m</tspan><tspan x="78" y="2.3" font-size="37.95">]</tspan></text>
<clipPath id="c11"><rect x="108.60" y="2067.60" width="877.70" height="290.70"/></clipPath>
<g clip-path="url(#c11)">
<line x1="118.60" y1="2258.00" x2="976.30" y2="2258.00" stroke="#1a1a1a" stroke-width="1.9" stroke-dasharray="13.8 9"/>
<line x1="153.50" y1="2358.30" x2="153.50" y2="2173.80" stroke="#ef2413" stroke-width="3.8"/>
<circle cx="153.50" cy="2173.80" r="5.4" fill="none" stroke="#ef2413" stroke-width="3.9"/>
<line x1="195.27" y1="2358.30" x2="195.27" y2="2228.40" stroke="#ef2413" stroke-width="3.8"/>
<circle cx="195.27" cy="2228.40" r="5.4" fill="none" stroke="#ef2413" stroke-width="3.9"/>
<line x1="278.81" y1="2358.30" x2="278.81" y2="2210.40" stroke="#ef2413" stroke-width="3.8"/>
<circle cx="278.81" cy="2210.40" r="5.4" fill="none" stroke="#ef2413" stroke-width="3.9"/>
<line x1="320.58" y1="2358.30" x2="320.58" y2="2246.50" stroke="#ef2413" stroke-width="3.8"/>
<circle cx="320.58" cy="2246.50" r="5.4" fill="none" stroke="#ef2413" stroke-width="3.9"/>
<line x1="404.12" y1="2358.30" x2="404.12" y2="2295.90" stroke="#ef2413" stroke-width="3.8"/>
<circle cx="404.12" cy="2295.90" r="5.4" fill="none" stroke="#ef2413" stroke-width="3.9"/>
<line x1="445.89" y1="2358.30" x2="445.89" y2="2252.30" stroke="#ef2413" stroke-width="3.8"/>
<circle cx="445.89" cy="2252.30" r="5.4" fill="none" stroke="#ef2413" stroke-width="3.9"/>
<line x1="529.43" y1="2358.30" x2="529.43" y2="2259.00" stroke="#ef2413" stroke-width="3.8"/>
<circle cx="529.43" cy="2259.00" r="5.4" fill="none" stroke="#ef2413" stroke-width="3.9"/>
<line x1="571.20" y1="2358.30" x2="571.20" y2="2246.50" stroke="#ef2413" stroke-width="3.8"/>
<circle cx="571.20" cy="2246.50" r="5.4" fill="none" stroke="#ef2413" stroke-width="3.9"/>
<line x1="654.74" y1="2358.30" x2="654.74" y2="2233.60" stroke="#ef2413" stroke-width="3.8"/>
<circle cx="654.74" cy="2233.60" r="5.4" fill="none" stroke="#ef2413" stroke-width="3.9"/>
<line x1="696.51" y1="2358.30" x2="696.51" y2="2298.80" stroke="#ef2413" stroke-width="3.8"/>
<circle cx="696.51" cy="2298.80" r="5.4" fill="none" stroke="#ef2413" stroke-width="3.9"/>
<line x1="738.28" y1="2358.30" x2="738.28" y2="2291.90" stroke="#ef2413" stroke-width="3.8"/>
<circle cx="738.28" cy="2291.90" r="5.4" fill="none" stroke="#ef2413" stroke-width="3.9"/>
<line x1="780.05" y1="2358.30" x2="780.05" y2="2224.60" stroke="#ef2413" stroke-width="3.8"/>
<circle cx="780.05" cy="2224.60" r="5.4" fill="none" stroke="#ef2413" stroke-width="3.9"/>
<line x1="821.82" y1="2358.30" x2="821.82" y2="2264.00" stroke="#ef2413" stroke-width="3.8"/>
<circle cx="821.82" cy="2264.00" r="5.4" fill="none" stroke="#ef2413" stroke-width="3.9"/>
<line x1="905.36" y1="2358.30" x2="905.36" y2="2234.80" stroke="#ef2413" stroke-width="3.8"/>
<circle cx="905.36" cy="2234.80" r="5.4" fill="none" stroke="#ef2413" stroke-width="3.9"/>
<line x1="947.13" y1="2358.30" x2="947.13" y2="2231.60" stroke="#ef2413" stroke-width="3.8"/>
<circle cx="947.13" cy="2231.60" r="5.4" fill="none" stroke="#ef2413" stroke-width="3.9"/>
<line x1="237.04" y1="2358.30" x2="237.04" y2="2138.20" stroke="#3f5ba9" stroke-width="3.8"/>
<circle cx="237.04" cy="2138.20" r="5.4" fill="none" stroke="#3f5ba9" stroke-width="3.9"/>
<line x1="362.35" y1="2358.30" x2="362.35" y2="2273.90" stroke="#77ad3f" stroke-width="3.8"/>
<circle cx="362.35" cy="2273.90" r="5.4" fill="none" stroke="#77ad3f" stroke-width="3.9"/>
<line x1="487.66" y1="2358.30" x2="487.66" y2="2162.60" stroke="#3f5ba9" stroke-width="3.8"/>
<circle cx="487.66" cy="2162.60" r="5.4" fill="none" stroke="#3f5ba9" stroke-width="3.9"/>
<line x1="612.97" y1="2358.30" x2="612.97" y2="2209.20" stroke="#d9b13b" stroke-width="3.8"/>
<circle cx="612.97" cy="2209.20" r="5.4" fill="none" stroke="#d9b13b" stroke-width="3.9"/>
<line x1="863.59" y1="2358.30" x2="863.59" y2="2261.00" stroke="#77ad3f" stroke-width="3.8"/>
<circle cx="863.59" cy="2261.00" r="5.4" fill="none" stroke="#77ad3f" stroke-width="3.9"/>
</g>
<text transform="translate(237.04,2104.10)" fill="#000"><tspan x="-34.7" y="0" font-size="24.46" font-style="italic">f</tspan><tspan x="-23.8" y="3.7" font-size="15.57">1</tspan><tspan x="-13.8" y="2.5" font-size="28.22">=</tspan><tspan x="4.1 16.5 23.1" y="0" font-size="23.17">8.7</tspan></text>
<text transform="translate(487.66,2104.10)" fill="#000"><tspan x="-46.9" y="0" font-size="24.46" font-style="italic">f</tspan><tspan x="-36.1" y="3.7" font-size="15.57">3</tspan><tspan x="-26" y="2.5" font-size="28.22">=</tspan><tspan x="-8.2 4.1 16.5 23.1 35.4" y="0" font-size="23.17">26.09</tspan></text>
<rect x="808.60" y="2031.00" width="229.10" height="138.90" fill="#fff" stroke="#303030" stroke-width="1.2"/>
<line x1="817.80" y1="2050.40" x2="857.30" y2="2050.40" stroke="#ef2413" stroke-width="3.4"/>
<circle cx="857.30" cy="2050.40" r="5.3" fill="none" stroke="#ef2413" stroke-width="3.8"/>
<text transform="translate(878.90,2057.40)" fill="#000"><tspan x="0.1 20 34.3" y="0" font-size="27.81">Non</tspan><tspan x="48.8" y="0" font-size="26.59">-</tspan><tspan x="57.6 69.9 83.8 95.9 104.9 113.8 126.5" y="0" font-size="27.81">excited</tspan></text>
<line x1="817.80" y1="2083.90" x2="857.30" y2="2083.90" stroke="#3f5ba9" stroke-width="3.4"/>
<circle cx="857.30" cy="2083.90" r="5.3" fill="none" stroke="#3f5ba9" stroke-width="3.8"/>
<text transform="translate(878.90,2090.90)" fill="#000"><tspan x="0.7 18.6 32.5 44.5 53.5 62.5 75.2" y="0" font-size="27.81">Excited</tspan></text>
<line x1="817.80" y1="2117.40" x2="857.30" y2="2117.40" stroke="#77ad3f" stroke-width="3.4"/>
<circle cx="857.30" cy="2117.40" r="5.3" fill="none" stroke="#77ad3f" stroke-width="3.8"/>
<text transform="translate(878.90,2124.40)" fill="#000"><tspan x="0.1" y="0" font-size="26.59">1</tspan><tspan x="13.5 22.5 29.3" y="-9.7" font-size="20.56">st </tspan><tspan x="38.9 53.9 67.5 77.8 99.7 114 128.3 135.8" y="0" font-size="27.81">harmonic</tspan></text>
<line x1="817.80" y1="2150.90" x2="857.30" y2="2150.90" stroke="#d9b13b" stroke-width="3.4"/>
<circle cx="857.30" cy="2150.90" r="5.3" fill="none" stroke="#d9b13b" stroke-width="3.8"/>
<text transform="translate(878.90,2155.50)" fill="#000"><tspan x="-0.5" y="0" font-size="27.81">f</tspan><tspan x="8.8" y="4" font-size="17.87">1</tspan><tspan x="24.1" y="1.4" font-size="32.4">+</tspan><tspan x="47.5" y="0" font-size="27.81">f</tspan><tspan x="56.9" y="4" font-size="17.87">3</tspan></text>
</g>
<g id="bot-f">
<path d="M1265.2 2077.6V2358.3M1308.3 2077.6V2358.3M1351.3 2077.6V2358.3M1437.5 2077.6V2358.3M1480.6 2077.6V2358.3M1523.7 2077.6V2358.3M1609.8 2077.6V2358.3M1652.9 2077.6V2358.3M1696 2077.6V2358.3M1782.1 2077.6V2358.3M1825.2 2077.6V2358.3M1868.3 2077.6V2358.3M1954.5 2077.6V2358.3M1997.5 2077.6V2358.3M2040.6 2077.6V2358.3M1225.8 2350.4H2083.5M1225.8 2335.9H2083.5M1225.8 2325.6H2083.5M1225.8 2317.6H2083.5M1225.8 2311H2083.5M1225.8 2305.5H2083.5M1225.8 2300.7H2083.5M1225.8 2296.5H2083.5M1225.8 2267.8H2083.5M1225.8 2253.3H2083.5M1225.8 2243H2083.5M1225.8 2235H2083.5M1225.8 2228.4H2083.5M1225.8 2222.9H2083.5M1225.8 2218.1H2083.5M1225.8 2213.9H2083.5M1225.8 2185.2H2083.5M1225.8 2170.7H2083.5M1225.8 2160.4H2083.5M1225.8 2152.4H2083.5M1225.8 2145.8H2083.5M1225.8 2140.3H2083.5M1225.8 2135.5H2083.5M1225.8 2131.3H2083.5M1225.8 2102.6H2083.5M1225.8 2088.1H2083.5" fill="none" stroke="#cbcbcb" stroke-width="1.3" stroke-dasharray="1.3 4.4"/>
<path d="M1394.4 2077.6V2358.3M1566.7 2077.6V2358.3M1739.1 2077.6V2358.3M1911.4 2077.6V2358.3M1225.8 2292.7H2083.5M1225.8 2210.1H2083.5M1225.8 2127.5H2083.5" fill="none" stroke="#dcdcdc" stroke-width="1.4"/>
<path d="M1394.4 2358.3V2349.4M1394.4 2077.6V2086.5M1566.7 2358.3V2349.4M1566.7 2077.6V2086.5M1739.1 2358.3V2349.4M1739.1 2077.6V2086.5M1911.4 2358.3V2349.4M1911.4 2077.6V2086.5M1265.2 2358.3V2353.2M1265.2 2077.6V2082.7M1308.3 2358.3V2353.2M1308.3 2077.6V2082.7M1351.3 2358.3V2353.2M1351.3 2077.6V2082.7M1437.5 2358.3V2353.2M1437.5 2077.6V2082.7M1480.6 2358.3V2353.2M1480.6 2077.6V2082.7M1523.7 2358.3V2353.2M1523.7 2077.6V2082.7M1609.8 2358.3V2353.2M1609.8 2077.6V2082.7M1652.9 2358.3V2353.2M1652.9 2077.6V2082.7M1696 2358.3V2353.2M1696 2077.6V2082.7M1782.1 2358.3V2353.2M1782.1 2077.6V2082.7M1825.2 2358.3V2353.2M1825.2 2077.6V2082.7M1868.3 2358.3V2353.2M1868.3 2077.6V2082.7M1954.5 2358.3V2353.2M1954.5 2077.6V2082.7M1997.5 2358.3V2353.2M1997.5 2077.6V2082.7M2040.6 2358.3V2353.2M2040.6 2077.6V2082.7M1225.8 2292.7H1234.7M2083.5 2292.7H2074.6M1225.8 2210.1H1234.7M2083.5 2210.1H2074.6M1225.8 2127.5H1234.7M2083.5 2127.5H2074.6M1225.8 2350.4H1230.9M2083.5 2350.4H2078.4M1225.8 2335.9H1230.9M2083.5 2335.9H2078.4M1225.8 2325.6H1230.9M2083.5 2325.6H2078.4M1225.8 2317.6H1230.9M2083.5 2317.6H2078.4M1225.8 2311H1230.9M2083.5 2311H2078.4M1225.8 2305.5H1230.9M2083.5 2305.5H2078.4M1225.8 2300.7H1230.9M2083.5 2300.7H2078.4M1225.8 2296.5H1230.9M2083.5 2296.5H2078.4M1225.8 2267.8H1230.9M2083.5 2267.8H2078.4M1225.8 2253.3H1230.9M2083.5 2253.3H2078.4M1225.8 2243H1230.9M2083.5 2243H2078.4M1225.8 2235H1230.9M2083.5 2235H2078.4M1225.8 2228.4H1230.9M2083.5 2228.4H2078.4M1225.8 2222.9H1230.9M2083.5 2222.9H2078.4M1225.8 2218.1H1230.9M2083.5 2218.1H2078.4M1225.8 2213.9H1230.9M2083.5 2213.9H2078.4M1225.8 2185.2H1230.9M2083.5 2185.2H2078.4M1225.8 2170.7H1230.9M2083.5 2170.7H2078.4M1225.8 2160.4H1230.9M2083.5 2160.4H2078.4M1225.8 2152.4H1230.9M2083.5 2152.4H2078.4M1225.8 2145.8H1230.9M2083.5 2145.8H2078.4M1225.8 2140.3H1230.9M2083.5 2140.3H2078.4M1225.8 2135.5H1230.9M2083.5 2135.5H2078.4M1225.8 2131.3H1230.9M2083.5 2131.3H2078.4M1225.8 2102.6H1230.9M2083.5 2102.6H2078.4M1225.8 2088.1H1230.9M2083.5 2088.1H2078.4" fill="none" stroke="#303030" stroke-width="1.05"/>
<rect x="1225.80" y="2077.60" width="857.70" height="280.70" fill="none" stroke="#303030" stroke-width="1.2"/>
<text transform="translate(1394.42,2394.20)" fill="#000"><tspan x="-15.1 -0.1" y="0" font-size="30.58">20</tspan></text>
<text transform="translate(1566.74,2394.20)" fill="#000"><tspan x="-15.1 -0.1" y="0" font-size="30.58">40</tspan></text>
<text transform="translate(1739.06,2394.20)" fill="#000"><tspan x="-15.1 -0.1" y="0" font-size="30.58">60</tspan></text>
<text transform="translate(1911.38,2394.20)" fill="#000"><tspan x="-15.1 -0.1" y="0" font-size="30.58">80</tspan></text>
<text transform="translate(2083.70,2394.20)" fill="#000"><tspan x="-22.6 -7.6 7.4" y="0" font-size="30.58">100</tspan></text>
<text transform="translate(1215.20,2300.70)" fill="#000"><tspan x="-58.9 -43.9" y="0" font-size="30.58">10</tspan><tspan x="-27" y="-9.8" font-size="25.04">−</tspan><tspan x="-10.8" y="-10.8" font-size="20.55">4</tspan></text>
<text transform="translate(1215.20,2218.10)" fill="#000"><tspan x="-58.9 -43.9" y="0" font-size="30.58">10</tspan><tspan x="-27" y="-9.8" font-size="25.04">−</tspan><tspan x="-10.8" y="-10.8" font-size="20.55">3</tspan></text>
<text transform="translate(1215.20,2135.50)" fill="#000"><tspan x="-58.9 -43.9" y="0" font-size="30.58">10</tspan><tspan x="-27" y="-9.8" font-size="25.04">−</tspan><tspan x="-10.8" y="-10.8" font-size="20.55">2</tspan></text>
<text transform="translate(1654.65,2434.60)" fill="#000"><tspan x="-108 -87 -75.1 -60 -42.1 -24.7 -9.1 8.3 23.4 40.6" y="0" font-size="33.99">Frequency </tspan><tspan x="49.9" y="2.3" font-size="37.95">[</tspan><tspan x="60.9 85.3" y="0" font-size="33.99">Hz</tspan><tspan x="98.5" y="2.3" font-size="37.95">]</tspan></text>
<text transform="translate(1139.60,2217.95) rotate(-90)" fill="#000"><tspan x="-88" y="0.7" font-size="36.3">|</tspan><tspan x="-80.4" y="0" font-size="34.32" font-style="italic">δ</tspan><tspan x="-65.2" y="0" font-size="33.99">L</tspan><tspan x="-43.2 -34.3 -21.9" y="6.6" font-size="25.13">tar</tspan><tspan x="-12.3" y="0.7" font-size="35.64">(</tspan><tspan x="-0.6" y="0" font-size="33.99">f</tspan><tspan x="10.6" y="0.7" font-size="35.64">)</tspan><tspan x="23.9 32.1" y="0.7" font-size="36.3">| </tspan><tspan x="41.4" y="2.3" font-size="37.95">[</tspan><tspan x="52.8" y="0" font-size="33.99">m</tspan><tspan x="78" y="2.3" font-size="37.95">]</tspan></text>
<clipPath id="c12"><rect x="1215.80" y="2067.60" width="877.70" height="290.70"/></clipPath>
<g clip-path="url(#c12)">
<line x1="1225.80" y1="2209.20" x2="2083.50" y2="2209.20" stroke="#1a1a1a" stroke-width="1.9" stroke-dasharray="13.8 9"/>
<line x1="1247.40" y1="2358.30" x2="1247.40" y2="2200.70" stroke="#ef2413" stroke-width="3.8"/>
<circle cx="1247.40" cy="2200.70" r="5.4" fill="none" stroke="#ef2413" stroke-width="3.9"/>
<line x1="1272.93" y1="2358.30" x2="1272.93" y2="2193.50" stroke="#ef2413" stroke-width="3.8"/>
<circle cx="1272.93" cy="2193.50" r="5.4" fill="none" stroke="#ef2413" stroke-width="3.9"/>
<line x1="1298.46" y1="2358.30" x2="1298.46" y2="2192.50" stroke="#ef2413" stroke-width="3.8"/>
<circle cx="1298.46" cy="2192.50" r="5.4" fill="none" stroke="#ef2413" stroke-width="3.9"/>
<line x1="1323.99" y1="2358.30" x2="1323.99" y2="2219.90" stroke="#ef2413" stroke-width="3.8"/>
<circle cx="1323.99" cy="2219.90" r="5.4" fill="none" stroke="#ef2413" stroke-width="3.9"/>
<line x1="1349.52" y1="2358.30" x2="1349.52" y2="2246.50" stroke="#ef2413" stroke-width="3.8"/>
<circle cx="1349.52" cy="2246.50" r="5.4" fill="none" stroke="#ef2413" stroke-width="3.9"/>
<line x1="1375.05" y1="2358.30" x2="1375.05" y2="2187.30" stroke="#ef2413" stroke-width="3.8"/>
<circle cx="1375.05" cy="2187.30" r="5.4" fill="none" stroke="#ef2413" stroke-width="3.9"/>
<line x1="1400.58" y1="2358.30" x2="1400.58" y2="2213.70" stroke="#ef2413" stroke-width="3.8"/>
<circle cx="1400.58" cy="2213.70" r="5.4" fill="none" stroke="#ef2413" stroke-width="3.9"/>
<line x1="1426.11" y1="2358.30" x2="1426.11" y2="2210.20" stroke="#ef2413" stroke-width="3.8"/>
<circle cx="1426.11" cy="2210.20" r="5.4" fill="none" stroke="#ef2413" stroke-width="3.9"/>
<line x1="1451.64" y1="2358.30" x2="1451.64" y2="2232.90" stroke="#ef2413" stroke-width="3.8"/>
<circle cx="1451.64" cy="2232.90" r="5.4" fill="none" stroke="#ef2413" stroke-width="3.9"/>
<line x1="1477.17" y1="2358.30" x2="1477.17" y2="2202.70" stroke="#ef2413" stroke-width="3.8"/>
<circle cx="1477.17" cy="2202.70" r="5.4" fill="none" stroke="#ef2413" stroke-width="3.9"/>
<line x1="1502.70" y1="2358.30" x2="1502.70" y2="2253.30" stroke="#ef2413" stroke-width="3.8"/>
<circle cx="1502.70" cy="2253.30" r="5.4" fill="none" stroke="#ef2413" stroke-width="3.9"/>
<line x1="1528.23" y1="2358.30" x2="1528.23" y2="2187.50" stroke="#ef2413" stroke-width="3.8"/>
<circle cx="1528.23" cy="2187.50" r="5.4" fill="none" stroke="#ef2413" stroke-width="3.9"/>
<line x1="1579.29" y1="2358.30" x2="1579.29" y2="2220.10" stroke="#ef2413" stroke-width="3.8"/>
<circle cx="1579.29" cy="2220.10" r="5.4" fill="none" stroke="#ef2413" stroke-width="3.9"/>
<line x1="1604.82" y1="2358.30" x2="1604.82" y2="2210.90" stroke="#ef2413" stroke-width="3.8"/>
<circle cx="1604.82" cy="2210.90" r="5.4" fill="none" stroke="#ef2413" stroke-width="3.9"/>
<line x1="1630.35" y1="2358.30" x2="1630.35" y2="2191.30" stroke="#ef2413" stroke-width="3.8"/>
<circle cx="1630.35" cy="2191.30" r="5.4" fill="none" stroke="#ef2413" stroke-width="3.9"/>
<line x1="1655.88" y1="2358.30" x2="1655.88" y2="2237.80" stroke="#ef2413" stroke-width="3.8"/>
<circle cx="1655.88" cy="2237.80" r="5.4" fill="none" stroke="#ef2413" stroke-width="3.9"/>
<line x1="1681.41" y1="2358.30" x2="1681.41" y2="2229.60" stroke="#ef2413" stroke-width="3.8"/>
<circle cx="1681.41" cy="2229.60" r="5.4" fill="none" stroke="#ef2413" stroke-width="3.9"/>
<line x1="1706.94" y1="2358.30" x2="1706.94" y2="2209.20" stroke="#ef2413" stroke-width="3.8"/>
<circle cx="1706.94" cy="2209.20" r="5.4" fill="none" stroke="#ef2413" stroke-width="3.9"/>
<line x1="1732.47" y1="2358.30" x2="1732.47" y2="2203.70" stroke="#ef2413" stroke-width="3.8"/>
<circle cx="1732.47" cy="2203.70" r="5.4" fill="none" stroke="#ef2413" stroke-width="3.9"/>
<line x1="1758.00" y1="2358.30" x2="1758.00" y2="2201.20" stroke="#ef2413" stroke-width="3.8"/>
<circle cx="1758.00" cy="2201.20" r="5.4" fill="none" stroke="#ef2413" stroke-width="3.9"/>
<line x1="1783.53" y1="2358.30" x2="1783.53" y2="2242.80" stroke="#ef2413" stroke-width="3.8"/>
<circle cx="1783.53" cy="2242.80" r="5.4" fill="none" stroke="#ef2413" stroke-width="3.9"/>
<line x1="1809.06" y1="2358.30" x2="1809.06" y2="2179.80" stroke="#ef2413" stroke-width="3.8"/>
<circle cx="1809.06" cy="2179.80" r="5.4" fill="none" stroke="#ef2413" stroke-width="3.9"/>
<line x1="1834.59" y1="2358.30" x2="1834.59" y2="2182.50" stroke="#ef2413" stroke-width="3.8"/>
<circle cx="1834.59" cy="2182.50" r="5.4" fill="none" stroke="#ef2413" stroke-width="3.9"/>
<line x1="1860.12" y1="2358.30" x2="1860.12" y2="2196.70" stroke="#ef2413" stroke-width="3.8"/>
<circle cx="1860.12" cy="2196.70" r="5.4" fill="none" stroke="#ef2413" stroke-width="3.9"/>
<line x1="1911.18" y1="2358.30" x2="1911.18" y2="2177.10" stroke="#ef2413" stroke-width="3.8"/>
<circle cx="1911.18" cy="2177.10" r="5.4" fill="none" stroke="#ef2413" stroke-width="3.9"/>
<line x1="1936.71" y1="2358.30" x2="1936.71" y2="2164.40" stroke="#ef2413" stroke-width="3.8"/>
<circle cx="1936.71" cy="2164.40" r="5.4" fill="none" stroke="#ef2413" stroke-width="3.9"/>
<line x1="1962.24" y1="2358.30" x2="1962.24" y2="2150.00" stroke="#ef2413" stroke-width="3.8"/>
<circle cx="1962.24" cy="2150.00" r="5.4" fill="none" stroke="#ef2413" stroke-width="3.9"/>
<line x1="1987.77" y1="2358.30" x2="1987.77" y2="2240.10" stroke="#ef2413" stroke-width="3.8"/>
<circle cx="1987.77" cy="2240.10" r="5.4" fill="none" stroke="#ef2413" stroke-width="3.9"/>
<line x1="2013.30" y1="2358.30" x2="2013.30" y2="2189.50" stroke="#ef2413" stroke-width="3.8"/>
<circle cx="2013.30" cy="2189.50" r="5.4" fill="none" stroke="#ef2413" stroke-width="3.9"/>
<line x1="2038.83" y1="2358.30" x2="2038.83" y2="2244.60" stroke="#ef2413" stroke-width="3.8"/>
<circle cx="2038.83" cy="2244.60" r="5.4" fill="none" stroke="#ef2413" stroke-width="3.9"/>
<line x1="2064.36" y1="2358.30" x2="2064.36" y2="2319.50" stroke="#ef2413" stroke-width="3.8"/>
<circle cx="2064.36" cy="2319.50" r="5.4" fill="none" stroke="#ef2413" stroke-width="3.9"/>
<line x1="1553.76" y1="2358.30" x2="1553.76" y2="2117.30" stroke="#3f5ba9" stroke-width="3.8"/>
<circle cx="1553.76" cy="2117.30" r="5.4" fill="none" stroke="#3f5ba9" stroke-width="3.9"/>
<line x1="1885.65" y1="2358.30" x2="1885.65" y2="2168.60" stroke="#77ad3f" stroke-width="3.8"/>
<circle cx="1885.65" cy="2168.60" r="5.4" fill="none" stroke="#77ad3f" stroke-width="3.9"/>
</g>
<text transform="translate(1553.76,2104.10)" fill="#000"><tspan x="-46.9" y="0" font-size="24.46" font-style="italic">f</tspan><tspan x="-36.1" y="3.7" font-size="15.57">1</tspan><tspan x="-26" y="2.5" font-size="28.22">=</tspan><tspan x="-8.2 4.1 16.5 23.1 35.4" y="0" font-size="23.17">38.46</tspan></text>
<rect x="1915.80" y="2031.00" width="229.10" height="138.90" fill="#fff" stroke="#303030" stroke-width="1.2"/>
<line x1="1925.00" y1="2056.40" x2="1964.50" y2="2056.40" stroke="#ef2413" stroke-width="3.4"/>
<circle cx="1964.50" cy="2056.40" r="5.3" fill="none" stroke="#ef2413" stroke-width="3.8"/>
<text transform="translate(1986.10,2063.40)" fill="#000"><tspan x="0.1 20 34.3" y="0" font-size="27.81">Non</tspan><tspan x="48.8" y="0" font-size="26.59">-</tspan><tspan x="57.6 69.9 83.8 95.9 104.9 113.8 126.5" y="0" font-size="27.81">excited</tspan></text>
<line x1="1925.00" y1="2100.80" x2="1964.50" y2="2100.80" stroke="#3f5ba9" stroke-width="3.4"/>
<circle cx="1964.50" cy="2100.80" r="5.3" fill="none" stroke="#3f5ba9" stroke-width="3.8"/>
<text transform="translate(1986.10,2107.80)" fill="#000"><tspan x="0.7 18.6 32.5 44.5 53.5 62.5 75.2" y="0" font-size="27.81">Excited</tspan></text>
<line x1="1925.00" y1="2145.20" x2="1964.50" y2="2145.20" stroke="#77ad3f" stroke-width="3.4"/>
<circle cx="1964.50" cy="2145.20" r="5.3" fill="none" stroke="#77ad3f" stroke-width="3.8"/>
<text transform="translate(1986.10,2152.20)" fill="#000"><tspan x="0.1" y="0" font-size="26.59">1</tspan><tspan x="13.5 22.5 29.3" y="-9.7" font-size="20.56">st </tspan><tspan x="38.9 53.9 67.5 77.8 99.7 114 128.3 135.8" y="0" font-size="27.81">harmonic</tspan></text>
</g>
<text transform="translate(-0.9,29.0) scale(1.18,1)" font-size="35.6" font-weight="bold" fill="#000">a</text>
<text transform="translate(1106.2,29.0) scale(1.18,1)" font-size="35.6" font-weight="bold" fill="#000">b</text>
<text transform="translate(-0.9,852.1) scale(1.18,1)" font-size="35.6" font-weight="bold" fill="#000">c</text>
<text transform="translate(1106.2,852.1) scale(1.18,1)" font-size="35.6" font-weight="bold" fill="#000">d</text>
<text transform="translate(-0.9,1675.2) scale(1.18,1)" font-size="35.6" font-weight="bold" fill="#000">e</text>
<text transform="translate(1106.2,1675.2) scale(1.18,1)" font-size="35.6" font-weight="bold" fill="#000">f</text>
</svg>
</body></html>
